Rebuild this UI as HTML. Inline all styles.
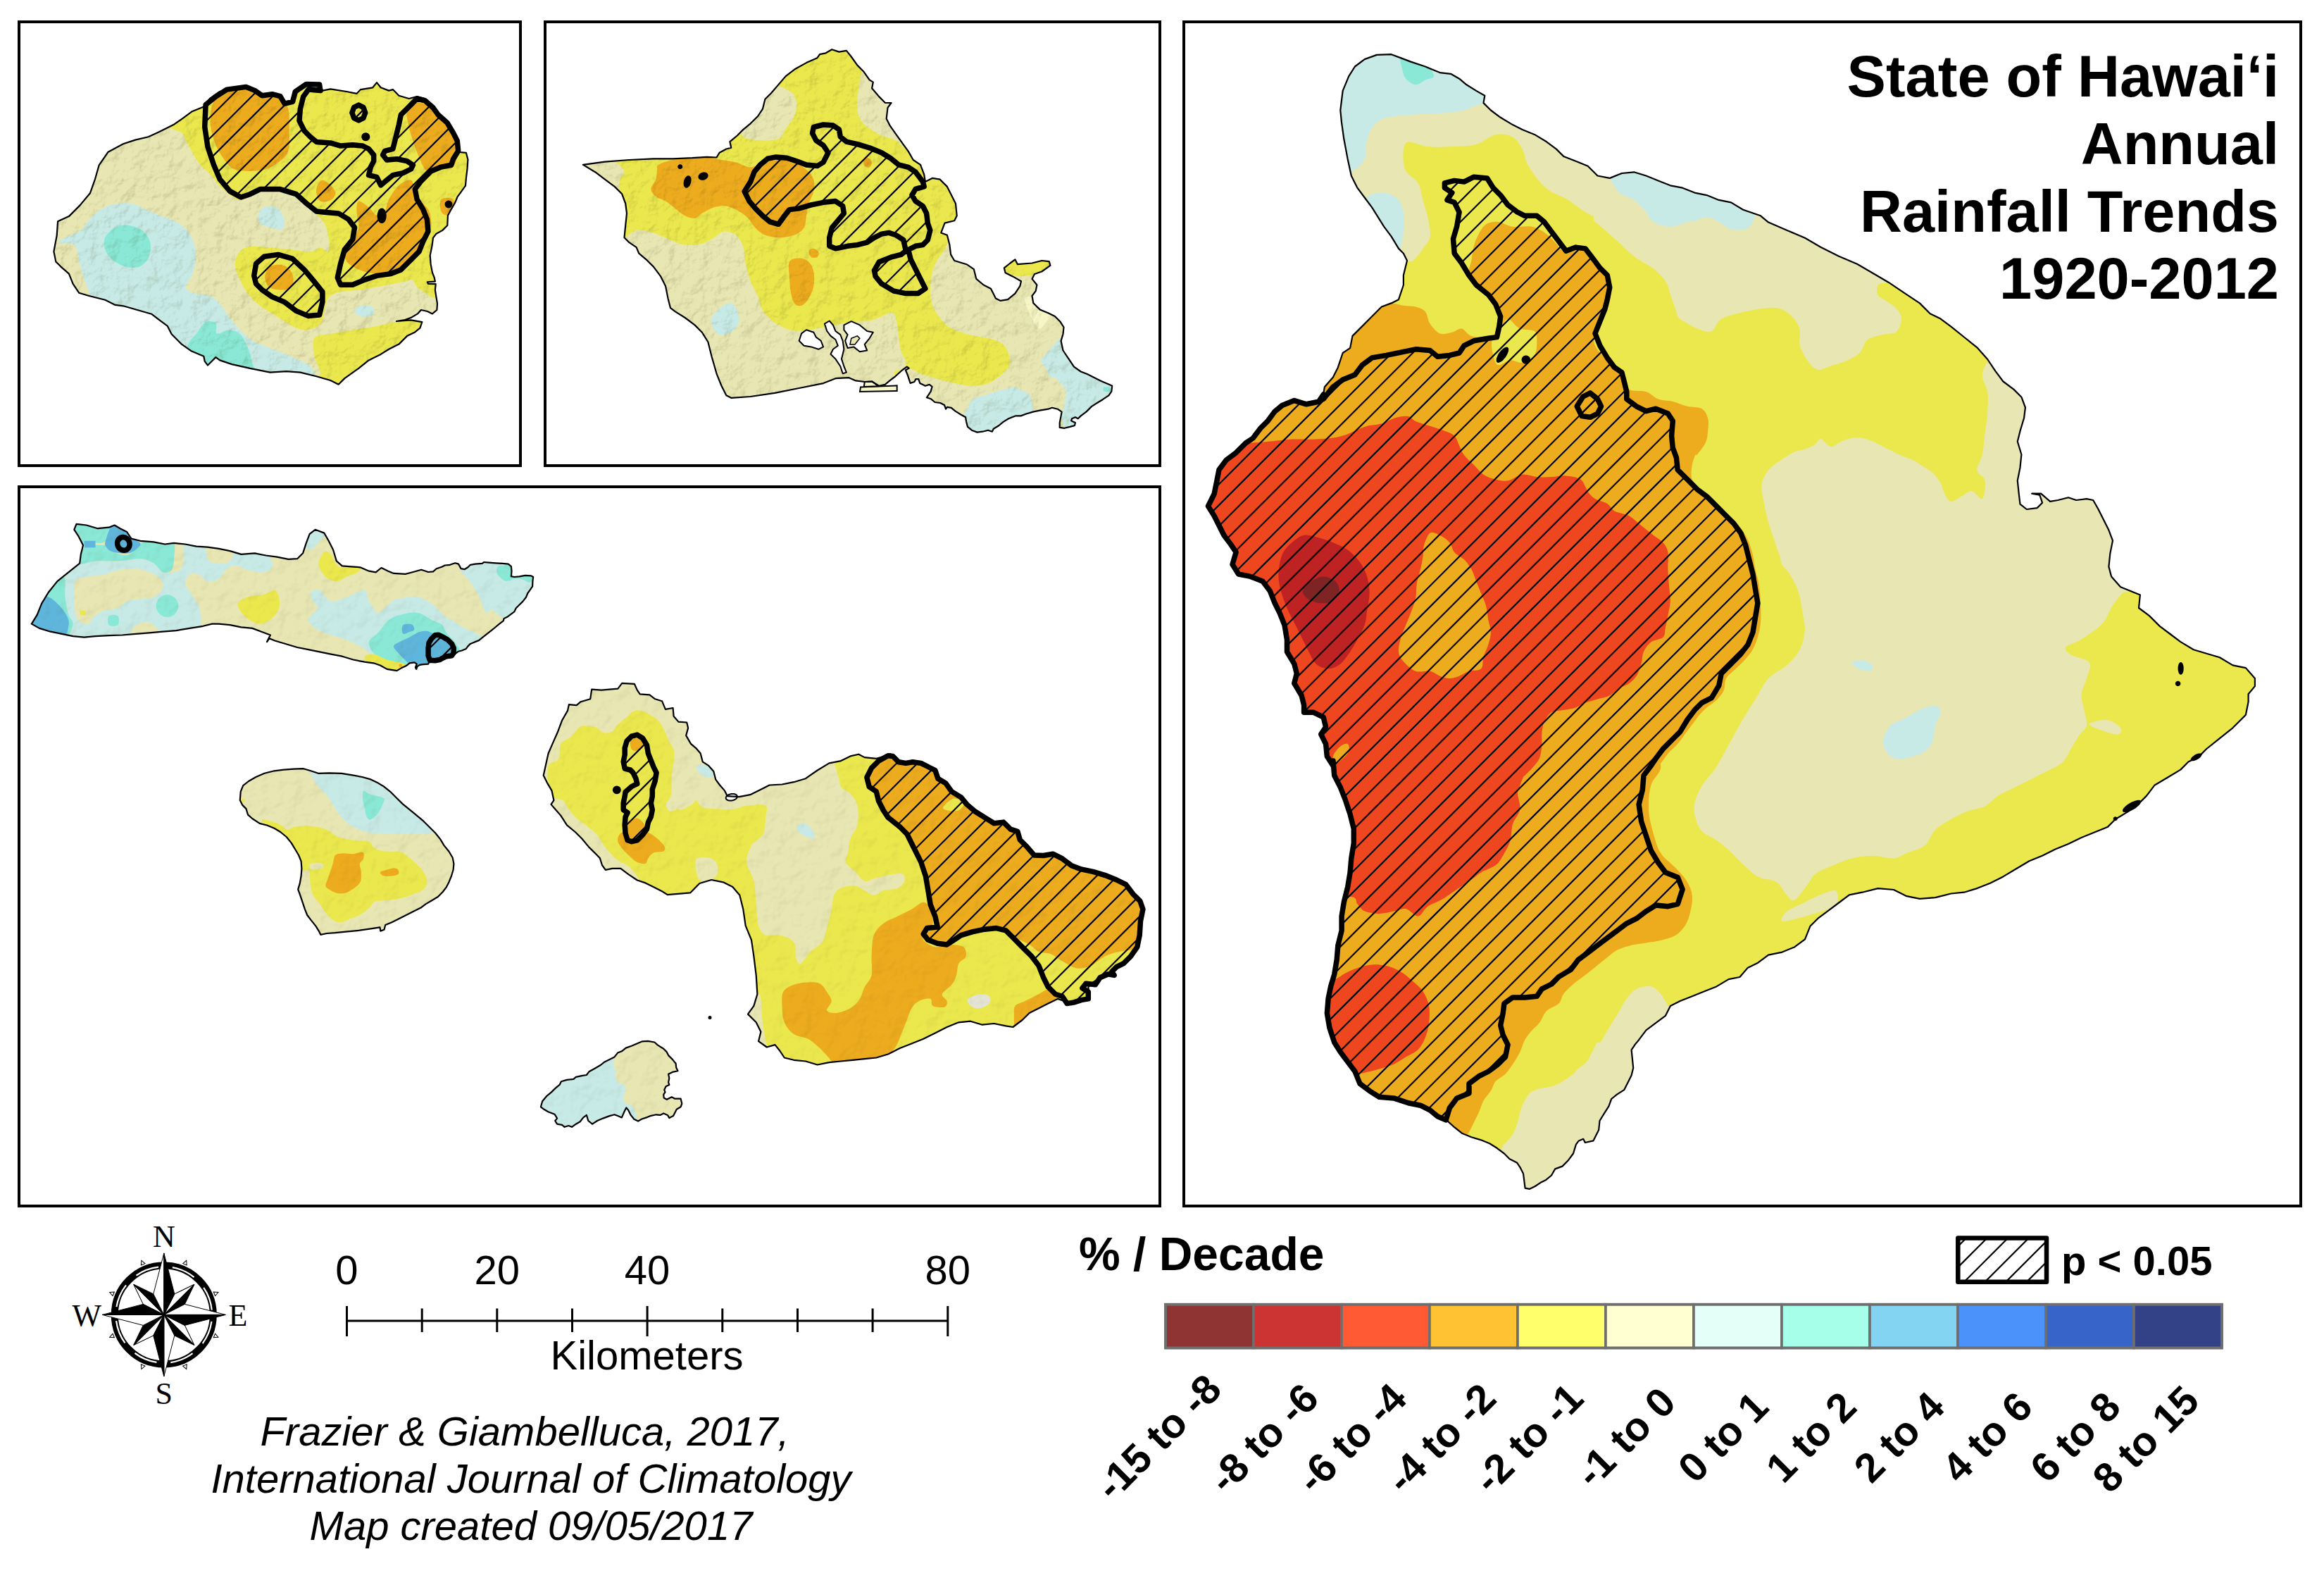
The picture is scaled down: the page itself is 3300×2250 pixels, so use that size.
<!DOCTYPE html><html><head><meta charset="utf-8"><title>State of Hawaii Annual Rainfall Trends 1920-2012</title>
<style>html,body{margin:0;padding:0;background:#fff}svg{display:block}text{fill:#000}</style></head><body>
<svg width="3300" height="2250" viewBox="0 0 3300 2250">
<rect width="3300" height="2250" fill="#fff"/>
<defs><path id="hatchlines" d="M-8.9 0L0 -8.9M20.7 0L0 20.7M50.3 0L0 50.3M79.9 0L0 79.9M109.5 0L0 109.5M139.1 0L0 139.1M168.7 0L0 168.7M198.3 0L0 198.3M227.9 0L0 227.9M257.5 0L0 257.5M287.1 0L0 287.1M316.7 0L0 316.7M346.3 0L0 346.3M375.9 0L0 375.9M405.5 0L0 405.5M435.1 0L0 435.1M464.7 0L0 464.7M494.3 0L0 494.3M523.9 0L0 523.9M553.5 0L0 553.5M583.1 0L0 583.1M612.7 0L0 612.7M642.3 0L0 642.3M671.9 0L0 671.9M701.5 0L0 701.5M731.1 0L0 731.1M760.7 0L0 760.7M790.3 0L0 790.3M819.9 0L0 819.9M849.5 0L0 849.5M879.1 0L0 879.1M908.7 0L0 908.7M938.3 0L0 938.3M967.9 0L0 967.9M997.5 0L0 997.5M1027.1 0L0 1027.1M1056.7 0L0 1056.7M1086.3 0L0 1086.3M1115.9 0L0 1115.9M1145.5 0L0 1145.5M1175.1 0L0 1175.1M1204.7 0L0 1204.7M1234.3 0L0 1234.3M1263.9 0L0 1263.9M1293.5 0L0 1293.5M1323.1 0L0 1323.1M1352.7 0L0 1352.7M1382.3 0L0 1382.3M1411.9 0L0 1411.9M1441.5 0L0 1441.5M1471.1 0L0 1471.1M1500.7 0L0 1500.7M1530.3 0L0 1530.3M1559.9 0L0 1559.9M1589.5 0L0 1589.5M1619.1 0L0 1619.1M1648.7 0L0 1648.7M1678.3 0L0 1678.3M1707.9 0L0 1707.9M1737.5 0L0 1737.5M1767.1 0L0 1767.1M1796.7 0L0 1796.7M1826.3 0L0 1826.3M1855.9 0L0 1855.9M1885.5 0L0 1885.5M1915.1 0L0 1915.1M1944.7 0L0 1944.7M1974.3 0L0 1974.3M2003.9 0L0 2003.9M2033.5 0L0 2033.5M2063.1 0L0 2063.1M2092.7 0L0 2092.7M2122.3 0L0 2122.3M2151.9 0L0 2151.9M2181.5 0L0 2181.5M2211.1 0L0 2211.1M2240.7 0L0 2240.7M2270.3 0L0 2270.3M2299.9 0L0 2299.9M2329.5 0L0 2329.5M2359.1 0L0 2359.1M2388.7 0L0 2388.7M2418.3 0L0 2418.3M2447.9 0L0 2447.9M2477.5 0L0 2477.5M2507.1 0L0 2507.1M2536.7 0L0 2536.7M2566.3 0L0 2566.3M2595.9 0L0 2595.9M2625.5 0L0 2625.5M2655.1 0L0 2655.1M2684.7 0L0 2684.7M2714.3 0L0 2714.3M2743.9 0L0 2743.9M2773.5 0L0 2773.5M2803.1 0L0 2803.1M2832.7 0L0 2832.7M2862.3 0L0 2862.3M2891.9 0L0 2891.9M2921.5 0L0 2921.5M2951.1 0L0 2951.1M2980.7 0L0 2980.7M3010.3 0L0 3010.3M3039.9 0L0 3039.9M3069.5 0L0 3069.5M3099.1 0L0 3099.1M3128.7 0L0 3128.7M3158.3 0L0 3158.3M3187.9 0L0 3187.9M3217.5 0L0 3217.5M3247.1 0L0 3247.1M3276.7 0L0 3276.7M3306.3 0L0 3306.3M3335.9 0L0 3335.9M3365.5 0L0 3365.5M3395.1 0L0 3395.1M3424.7 0L0 3424.7M3454.3 0L0 3454.3M3483.9 0L0 3483.9M3513.5 0L0 3513.5M3543.1 0L0 3543.1M3572.7 0L0 3572.7M3602.3 0L0 3602.3M3631.9 0L0 3631.9M3661.5 0L0 3661.5M3691.1 0L0 3691.1M3720.7 0L0 3720.7M3750.3 0L0 3750.3M3779.9 0L0 3779.9M3809.5 0L0 3809.5M3839.1 0L0 3839.1M3868.7 0L0 3868.7M3898.3 0L0 3898.3M3927.9 0L0 3927.9M3957.5 0L0 3957.5M3987.1 0L0 3987.1M4016.7 0L0 4016.7M4046.3 0L0 4046.3M4075.9 0L0 4075.9M4105.5 0L0 4105.5M4135.1 0L0 4135.1M4164.7 0L0 4164.7M4194.3 0L0 4194.3M4223.9 0L0 4223.9M4253.5 0L0 4253.5M4283.1 0L0 4283.1M4312.7 0L0 4312.7M4342.3 0L0 4342.3M4371.9 0L0 4371.9M4401.5 0L0 4401.5M4431.1 0L0 4431.1M4460.7 0L0 4460.7M4490.3 0L0 4490.3M4519.9 0L0 4519.9M4549.5 0L0 4549.5M4579.1 0L0 4579.1M4608.7 0L0 4608.7M4638.3 0L0 4638.3M4667.9 0L0 4667.9M4697.5 0L0 4697.5M4727.1 0L0 4727.1M4756.7 0L0 4756.7M4786.3 0L0 4786.3M4815.9 0L0 4815.9M4845.5 0L0 4845.5M4875.1 0L0 4875.1M4904.7 0L0 4904.7M4934.3 0L0 4934.3M4963.9 0L0 4963.9M4993.5 0L0 4993.5M5023.1 0L0 5023.1M5052.7 0L0 5052.7M5082.3 0L0 5082.3M5111.9 0L0 5111.9M5141.5 0L0 5141.5M5171.1 0L0 5171.1M5200.7 0L0 5200.7M5230.3 0L0 5230.3M5259.9 0L0 5259.9M5289.5 0L0 5289.5M5319.1 0L0 5319.1M5348.7 0L0 5348.7M5378.3 0L0 5378.3M5407.9 0L0 5407.9M5437.5 0L0 5437.5M5467.1 0L0 5467.1M5496.7 0L0 5496.7M5526.3 0L0 5526.3" stroke="#000" stroke-width="2.2" fill="none"/>
<filter id="relief1" x="0" y="0" width="100%" height="100%" color-interpolation-filters="sRGB">
<feTurbulence type="fractalNoise" baseFrequency="0.045 0.045" numOctaves="4" seed="7" result="n"/>
<feDiffuseLighting in="n" surfaceScale="4" diffuseConstant="1.25" lighting-color="#fff"><feDistantLight azimuth="225" elevation="53"/></feDiffuseLighting>
<feComponentTransfer><feFuncR type="linear" slope="0.22" intercept="0.78"/><feFuncG type="linear" slope="0.22" intercept="0.78"/><feFuncB type="linear" slope="0.30" intercept="0.70"/></feComponentTransfer>
</filter>
<filter id="relief2" x="0" y="0" width="100%" height="100%" color-interpolation-filters="sRGB">
<feTurbulence type="fractalNoise" baseFrequency="0.04 0.04" numOctaves="3" seed="11" result="n"/>
<feDiffuseLighting in="n" surfaceScale="2.5" diffuseConstant="1.25" lighting-color="#fff"><feDistantLight azimuth="225" elevation="53"/></feDiffuseLighting>
<feComponentTransfer><feFuncR type="linear" slope="0.18" intercept="0.82"/><feFuncG type="linear" slope="0.18" intercept="0.82"/><feFuncB type="linear" slope="0.25" intercept="0.75"/></feComponentTransfer>
</filter></defs>
<clipPath id="c_kauai"><path d="M76.4 357.1L80.7 334.3L82.1 314.3L97.9 307.1L113.6 291.4L127.9 274.3L135.0 254.3L140.7 234.3L153.6 215.7L175.0 204.3L192.1 198.6L210.7 194.3L226.4 187.1L246.4 177.1L260.7 167.1L272.1 158.6L289.3 151.4L297.9 140.0L312.1 130.0L323.6 125.7L349.3 122.3L363.6 128.6L372.1 135.7L386.4 132.9L397.9 135.7L405.0 145.7L415.0 142.9L419.3 128.6L435.0 118.6L453.6 119.4L457.9 128.6L469.3 126.3L492.1 130.0L506.4 132.9L512.1 127.1L529.3 124.3L535.0 117.1L540.7 124.3L552.1 128.6L557.9 127.1L566.4 135.7L580.7 140.0L592.1 137.1L603.6 140.0L615.0 150.0L623.6 161.4L635.0 171.4L642.1 185.7L649.3 198.6L653.0 216.0L661.9 216.9L664.4 226.6L663.6 238.9L661.9 252.9L661.0 263.7L654.7 272.3L649.6 279.4L645.9 288.3L640.7 297.1L635.9 306.0L635.3 320.0L628.1 327.1L619.6 331.7L615.0 337.7L613.3 350.0L610.7 362.6L611.6 374.9L613.9 386.9L616.7 394.0L617.9 399.7L607.0 400.3L607.9 402.9L618.7 403.1L617.9 412.0L619.6 422.6L621.0 430.9L620.4 440.0L613.9 445.4L607.0 442.0L597.9 440.0L593.0 445.4L583.9 450.9L575.0 454.0L563.0 456.0L583.6 454.3L599.3 457.1L596.4 465.7L589.3 471.4L577.9 477.1L566.4 488.6L552.1 495.7L540.7 502.9L523.6 511.4L509.3 522.9L489.3 537.1L480.7 545.7L469.3 540.0L449.3 534.3L426.4 528.6L406.4 527.1L383.6 528.6L355.0 522.9L329.3 517.1L312.1 511.4L306.4 507.1L295.0 518.6L290.7 512.9L289.3 505.7L272.1 498.6L257.9 488.6L243.6 474.3L237.9 462.9L226.4 454.3L215.0 445.7L195.0 440.0L175.0 434.3L163.6 432.9L149.3 425.7L126.4 420.0L112.1 415.7L103.6 402.9L97.9 388.6L86.4 378.6L79.3 371.4Z"/></clipPath>
<g clip-path="url(#c_kauai)">
<rect x="71" y="112" width="598" height="439" fill="#E8E7B4"/>
<path d="M252.1 157.1C322.6 141.9 611.7 55.2 683.6 100.0C755.5 144.8 694.6 372.0 683.6 425.7C672.6 479.5 630.3 424.0 617.6 422.6C604.8 421.1 611.1 419.5 607.0 417.1C602.9 414.8 596.5 411.5 593.0 408.3C589.5 405.0 588.8 399.2 585.9 397.7C582.9 396.2 580.0 398.5 575.3 399.4C570.6 400.3 563.5 402.0 557.6 403.1C551.7 404.3 547.4 405.2 539.9 406.6C532.3 408.0 521.5 410.1 512.1 411.4C502.8 412.7 491.2 412.4 483.6 414.3C476.0 416.2 470.2 418.1 466.4 422.9C462.6 427.6 462.6 436.7 460.7 442.9C458.8 449.0 459.3 455.7 455.0 460.0C450.7 464.3 441.7 468.1 435.0 468.6C428.3 469.0 422.1 466.2 415.0 462.9C407.9 459.5 399.8 453.3 392.1 448.6C384.5 443.8 376.0 439.5 369.3 434.3C362.6 429.0 356.9 423.3 352.1 417.1C347.4 411.0 343.8 404.3 340.7 397.1C337.6 390.0 333.6 381.0 333.6 374.3C333.6 367.6 337.1 361.2 340.7 357.1C344.3 353.1 347.9 351.0 355.0 350.0C362.1 349.0 374.0 350.7 383.6 351.4C393.1 352.1 402.6 353.3 412.1 354.3C421.7 355.2 433.6 357.6 440.7 357.1C447.9 356.7 450.7 351.4 455.0 351.4C459.3 351.4 464.5 359.5 466.4 357.1C468.3 354.8 467.4 343.8 466.4 337.1C465.5 330.5 463.6 322.6 460.7 317.1C457.9 311.7 453.6 308.3 449.3 304.3C445.0 300.2 439.8 297.1 435.0 292.9C430.2 288.6 426.9 282.5 420.7 278.6C414.5 274.6 406.4 270.7 397.9 269.1C389.3 267.6 376.4 268.0 369.3 269.1C362.1 270.2 359.3 273.2 355.0 275.7C350.7 278.2 347.9 283.8 343.6 284.3C339.3 284.8 334.5 281.9 329.3 278.6C324.0 275.2 316.9 269.0 312.1 264.3C307.4 259.5 305.5 255.2 300.7 250.0C296.0 244.8 288.3 238.8 283.6 232.9C278.8 226.9 276.0 221.2 272.1 214.3C268.3 207.4 264.0 201.0 260.7 191.4C257.4 181.9 181.7 172.4 252.1 157.1Z" fill="#EBE84E"/>
<path d="M446.4 480.0C450.2 474.8 460.2 476.2 469.3 474.3C478.3 472.4 489.8 470.5 500.7 468.6C511.7 466.7 524.5 464.8 535.0 462.9C545.5 461.0 550.7 458.1 563.6 457.1C576.4 456.2 604.0 440.5 612.1 457.1C620.2 473.8 638.3 540.5 612.1 557.1C586.0 573.8 481.2 561.9 455.0 557.1C428.8 552.4 456.4 537.1 455.0 528.6C453.6 520.0 447.9 513.8 446.4 505.7C445.0 497.6 442.6 485.2 446.4 480.0Z" fill="#EBE84E"/>
<path d="M300.7 151.4C302.9 143.8 305.5 139.0 312.1 134.3C318.8 129.5 331.2 123.8 340.7 122.9C350.2 121.9 359.8 125.7 369.3 128.6C378.8 131.4 391.2 135.7 397.9 140.0C404.5 144.3 407.1 146.7 409.3 154.3C411.4 161.9 410.7 175.7 410.7 185.7C410.7 195.7 411.4 207.1 409.3 214.3C407.1 221.4 403.1 224.3 397.9 228.6C392.6 232.9 385.0 237.6 377.9 240.0C370.7 242.4 362.6 242.9 355.0 242.9C347.4 242.9 338.3 242.9 332.1 240.0C326.0 237.1 322.1 231.4 317.9 225.7C313.6 220.0 309.5 213.3 306.4 205.7C303.3 198.1 300.2 189.0 299.3 180.0C298.3 171.0 298.6 159.0 300.7 151.4Z" fill="#EDAC1E"/>
<path d="M577.9 157.1C579.8 151.4 586.0 146.7 592.1 145.7C598.3 144.8 607.9 147.1 615.0 151.4C622.1 155.7 629.5 163.8 635.0 171.4C640.5 179.0 645.2 190.0 647.9 197.1C650.5 204.3 651.4 207.6 650.7 214.3C650.0 221.0 647.6 232.9 643.6 237.1C639.5 241.4 632.6 239.0 626.4 240.0C620.2 241.0 611.7 245.7 606.4 242.9C601.2 240.0 598.3 230.0 595.0 222.9C591.7 215.7 588.8 207.1 586.4 200.0C584.0 192.9 582.1 187.1 580.7 180.0C579.3 172.9 576.0 162.9 577.9 157.1Z" fill="#EDAC1E"/>
<path d="M552.1 282.9C555.5 276.7 561.2 267.4 566.4 262.9C571.7 258.3 579.8 254.3 583.6 255.7C587.4 257.1 586.9 266.4 589.3 271.4C591.7 276.4 594.5 281.0 597.9 285.7C601.2 290.5 606.9 293.8 609.3 300.0C611.7 306.2 613.1 315.7 612.1 322.9C611.2 330.0 606.0 337.1 603.6 342.9C601.2 348.6 601.2 351.9 597.9 357.1C594.5 362.4 588.8 369.5 583.6 374.3C578.3 379.0 573.6 383.3 566.4 385.7C559.3 388.1 548.8 388.6 540.7 388.6C532.6 388.6 525.5 388.1 517.9 385.7C510.2 383.3 499.8 379.0 495.0 374.3C490.2 369.5 488.3 362.9 489.3 357.1C490.2 351.4 497.4 345.7 500.7 340.0C504.0 334.3 508.3 329.5 509.3 322.9C510.2 316.2 506.4 306.2 506.4 300.0C506.4 293.8 506.4 286.7 509.3 285.7C512.1 284.8 519.3 291.0 523.6 294.3C527.9 297.6 531.2 304.8 535.0 305.7C538.8 306.7 543.6 303.8 546.4 300.0C549.3 296.2 548.8 289.0 552.1 282.9Z" fill="#EDAC1E"/>
<path d="M450.7 262.9C452.1 259.8 454.8 255.7 457.9 255.7C461.0 255.7 466.2 259.8 469.3 262.9C472.4 266.0 476.4 270.7 476.4 274.3C476.4 277.9 472.9 282.4 469.3 284.3C465.7 286.2 458.3 287.4 455.0 285.7C451.7 284.0 450.0 278.1 449.3 274.3C448.6 270.5 449.3 266.0 450.7 262.9Z" fill="#EDAC1E"/>
<path d="M377.9 385.7C379.5 382.4 382.1 378.6 386.4 377.1C390.7 375.7 398.8 375.2 403.6 377.1C408.3 379.0 413.1 383.8 415.0 388.6C416.9 393.3 417.4 401.9 415.0 405.7C412.6 409.5 406.0 411.0 400.7 411.4C395.5 411.9 387.6 411.0 383.6 408.6C379.5 406.2 377.4 401.0 376.4 397.1C375.5 393.3 376.2 389.0 377.9 385.7Z" fill="#EDAC1E"/>
<path d="M626.4 282.9C629.3 280.0 640.7 280.0 643.6 282.9C646.4 285.7 645.0 296.2 643.6 300.0C642.1 303.8 637.9 305.7 635.0 305.7C632.1 305.7 627.9 303.8 626.4 300.0C625.0 296.2 623.6 285.7 626.4 282.9Z" fill="#EDAC1E"/>
<path d="M83.6 342.9C84.5 339.5 106.0 332.4 112.1 328.6C118.3 324.8 117.4 323.8 120.7 320.0C124.0 316.2 126.4 310.5 132.1 305.7C137.9 301.0 146.4 294.3 155.0 291.4C163.6 288.6 175.0 287.6 183.6 288.6C192.1 289.5 199.3 294.3 206.4 297.1C213.6 300.0 219.3 302.9 226.4 305.7C233.6 308.6 242.6 310.5 249.3 314.3C256.0 318.1 261.9 322.9 266.4 328.6C271.0 334.3 274.5 341.4 276.4 348.6C278.3 355.7 278.6 364.3 277.9 371.4C277.1 378.6 274.5 385.2 272.1 391.4C269.8 397.6 262.6 404.3 263.6 408.6C264.5 412.9 272.1 415.2 277.9 417.1C283.6 419.0 292.1 417.6 297.9 420.0C303.6 422.4 307.4 426.2 312.1 431.4C316.9 436.7 321.7 445.2 326.4 451.4C331.2 457.6 335.5 463.3 340.7 468.6C346.0 473.8 350.7 478.6 357.9 482.9C365.0 487.1 374.5 490.5 383.6 494.3C392.6 498.1 402.6 501.4 412.1 505.7C421.7 510.0 435.0 514.3 440.7 520.0C446.4 525.7 448.8 533.8 446.4 540.0C444.0 546.2 463.1 554.3 426.4 557.1C389.8 560.0 278.8 576.2 226.4 557.1C174.0 538.1 128.8 465.7 112.1 442.9C95.5 420.0 125.0 427.1 126.4 420.0C127.9 412.9 123.1 408.1 120.7 400.0C118.3 391.9 114.5 380.0 112.1 371.4C109.8 362.9 111.2 353.3 106.4 348.6C101.7 343.8 82.6 346.2 83.6 342.9Z" fill="#C8EAE6"/>
<path d="M366.4 305.7C367.4 301.9 370.7 296.2 375.0 294.3C379.3 292.4 387.4 291.4 392.1 294.3C396.9 297.1 402.1 306.2 403.6 311.4C405.0 316.7 404.0 323.8 400.7 325.7C397.4 327.6 388.8 324.3 383.6 322.9C378.3 321.4 372.1 320.0 369.3 317.1C366.4 314.3 365.5 309.5 366.4 305.7Z" fill="#C8EAE6"/>
<path d="M503.6 441.4C503.6 439.0 507.1 435.5 510.7 434.3C514.3 433.1 521.4 433.1 525.0 434.3C528.6 435.5 532.1 439.0 532.1 441.4C532.1 443.8 528.6 447.4 525.0 448.6C521.4 449.8 514.3 449.8 510.7 448.6C507.1 447.4 503.6 443.8 503.6 441.4Z" fill="#C8EAE6"/>
<path d="M149.3 337.1C151.7 331.9 157.9 325.7 163.6 322.9C169.3 320.0 176.9 319.0 183.6 320.0C190.2 321.0 198.6 324.3 203.6 328.6C208.6 332.9 212.4 339.5 213.6 345.7C214.8 351.9 213.3 360.2 210.7 365.7C208.1 371.2 203.3 376.4 197.9 378.6C192.4 380.7 184.3 380.2 177.9 378.6C171.4 376.9 164.0 372.6 159.3 368.6C154.5 364.5 151.0 359.5 149.3 354.3C147.6 349.0 146.9 342.4 149.3 337.1Z" fill="#8AE8D6"/>
<path d="M266.4 494.3C266.0 483.8 276.4 477.6 280.7 471.4C285.0 465.2 287.9 459.3 292.1 457.1C296.4 455.0 303.8 455.7 306.4 458.6C309.0 461.4 305.0 472.6 307.9 474.3C310.7 476.0 318.1 468.6 323.6 468.6C329.0 468.6 336.0 470.0 340.7 474.3C345.5 478.6 349.3 487.6 352.1 494.3C355.0 501.0 356.9 507.6 357.9 514.3C358.8 521.0 370.2 531.0 357.9 534.3C345.5 537.6 298.8 541.0 283.6 534.3C268.3 527.6 266.9 504.8 266.4 494.3Z" fill="#8AE8D6"/>
<clipPath id="h_kauai_0"><path d="M292.1 148.6L306.4 137.1L322.1 127.1L349.3 123.4L362.1 128.6L372.1 135.7L386.4 133.7L397.9 136.6L404.1 147.1L415.6 144.3L419.3 130.0L435.0 119.4L453.6 120.0L455.0 128.6L437.9 127.1L430.7 137.1L426.4 154.3L425.0 171.4L432.1 185.7L440.7 194.3L449.3 201.4L469.3 202.9L483.6 207.1L500.7 205.7L515.0 207.1L523.6 211.4L530.7 220.0L530.7 228.6L526.4 237.1L523.6 248.6L535.0 251.4L540.7 262.9L549.3 255.7L557.9 248.6L572.1 245.7L583.6 240.0L586.4 234.3L577.9 228.6L563.6 225.7L549.3 227.1L543.6 220.0L546.4 214.3L557.9 211.4L562.1 194.3L566.4 177.1L569.3 162.9L577.9 154.3L592.1 140.0L603.6 142.9L615.0 152.9L622.1 162.9L635.0 174.3L643.6 188.6L649.3 200.0L650.7 214.3L643.6 225.7L640.7 234.3L626.4 237.1L612.1 242.9L597.9 257.1L589.3 268.6L592.1 282.9L600.7 297.1L606.4 311.4L607.9 328.6L600.7 342.9L595.0 357.1L583.6 368.6L569.3 382.9L555.0 388.6L535.0 391.4L517.9 397.1L500.7 404.3L483.6 404.3L479.3 394.3L483.6 374.3L489.3 354.3L500.7 340.0L503.6 322.9L495.0 311.4L480.7 302.9L463.6 301.4L449.3 300.0L435.0 288.6L420.7 275.7L397.9 268.6L369.3 268.6L355.0 275.7L342.1 280.0L326.4 271.4L312.1 254.3L303.6 234.3L295.0 208.6L290.7 180.0Z"/></clipPath>
<g clip-path="url(#h_kauai_0)"><use href="#hatchlines" transform="translate(0,0)"/></g>
<clipPath id="h_kauai_1"><path d="M360.7 391.4L363.6 374.3L375.0 364.3L395.0 361.4L415.0 367.1L432.1 382.9L446.4 400.0L457.9 414.3L457.9 428.6L453.6 447.1L437.9 448.6L420.7 441.4L403.6 428.6L386.4 421.4L372.1 411.4L363.6 402.9Z"/></clipPath>
<g clip-path="url(#h_kauai_1)"><use href="#hatchlines" transform="translate(0,0)"/></g>
<clipPath id="h_kauai_2"><path d="M499.9 160.0L502.7 152.3L509.3 149.1L515.9 152.3L518.7 160.0L515.9 167.7L509.3 170.9L502.7 167.7Z"/></clipPath>
<g clip-path="url(#h_kauai_2)"><use href="#hatchlines" transform="translate(0,0)"/></g>
<rect x="71" y="112" width="598" height="439" fill="#fff" filter="url(#relief1)" style="mix-blend-mode:multiply"/>
</g>
<path d="M76.4 357.1L80.7 334.3L82.1 314.3L97.9 307.1L113.6 291.4L127.9 274.3L135.0 254.3L140.7 234.3L153.6 215.7L175.0 204.3L192.1 198.6L210.7 194.3L226.4 187.1L246.4 177.1L260.7 167.1L272.1 158.6L289.3 151.4L297.9 140.0L312.1 130.0L323.6 125.7L349.3 122.3L363.6 128.6L372.1 135.7L386.4 132.9L397.9 135.7L405.0 145.7L415.0 142.9L419.3 128.6L435.0 118.6L453.6 119.4L457.9 128.6L469.3 126.3L492.1 130.0L506.4 132.9L512.1 127.1L529.3 124.3L535.0 117.1L540.7 124.3L552.1 128.6L557.9 127.1L566.4 135.7L580.7 140.0L592.1 137.1L603.6 140.0L615.0 150.0L623.6 161.4L635.0 171.4L642.1 185.7L649.3 198.6L653.0 216.0L661.9 216.9L664.4 226.6L663.6 238.9L661.9 252.9L661.0 263.7L654.7 272.3L649.6 279.4L645.9 288.3L640.7 297.1L635.9 306.0L635.3 320.0L628.1 327.1L619.6 331.7L615.0 337.7L613.3 350.0L610.7 362.6L611.6 374.9L613.9 386.9L616.7 394.0L617.9 399.7L607.0 400.3L607.9 402.9L618.7 403.1L617.9 412.0L619.6 422.6L621.0 430.9L620.4 440.0L613.9 445.4L607.0 442.0L597.9 440.0L593.0 445.4L583.9 450.9L575.0 454.0L563.0 456.0L583.6 454.3L599.3 457.1L596.4 465.7L589.3 471.4L577.9 477.1L566.4 488.6L552.1 495.7L540.7 502.9L523.6 511.4L509.3 522.9L489.3 537.1L480.7 545.7L469.3 540.0L449.3 534.3L426.4 528.6L406.4 527.1L383.6 528.6L355.0 522.9L329.3 517.1L312.1 511.4L306.4 507.1L295.0 518.6L290.7 512.9L289.3 505.7L272.1 498.6L257.9 488.6L243.6 474.3L237.9 462.9L226.4 454.3L215.0 445.7L195.0 440.0L175.0 434.3L163.6 432.9L149.3 425.7L126.4 420.0L112.1 415.7L103.6 402.9L97.9 388.6L86.4 378.6L79.3 371.4Z" fill="none" stroke="#000" stroke-width="2.2" stroke-linejoin="round"/>
<path d="M292.1 148.6L306.4 137.1L322.1 127.1L349.3 123.4L362.1 128.6L372.1 135.7L386.4 133.7L397.9 136.6L404.1 147.1L415.6 144.3L419.3 130.0L435.0 119.4L453.6 120.0L455.0 128.6L437.9 127.1L430.7 137.1L426.4 154.3L425.0 171.4L432.1 185.7L440.7 194.3L449.3 201.4L469.3 202.9L483.6 207.1L500.7 205.7L515.0 207.1L523.6 211.4L530.7 220.0L530.7 228.6L526.4 237.1L523.6 248.6L535.0 251.4L540.7 262.9L549.3 255.7L557.9 248.6L572.1 245.7L583.6 240.0L586.4 234.3L577.9 228.6L563.6 225.7L549.3 227.1L543.6 220.0L546.4 214.3L557.9 211.4L562.1 194.3L566.4 177.1L569.3 162.9L577.9 154.3L592.1 140.0L603.6 142.9L615.0 152.9L622.1 162.9L635.0 174.3L643.6 188.6L649.3 200.0L650.7 214.3L643.6 225.7L640.7 234.3L626.4 237.1L612.1 242.9L597.9 257.1L589.3 268.6L592.1 282.9L600.7 297.1L606.4 311.4L607.9 328.6L600.7 342.9L595.0 357.1L583.6 368.6L569.3 382.9L555.0 388.6L535.0 391.4L517.9 397.1L500.7 404.3L483.6 404.3L479.3 394.3L483.6 374.3L489.3 354.3L500.7 340.0L503.6 322.9L495.0 311.4L480.7 302.9L463.6 301.4L449.3 300.0L435.0 288.6L420.7 275.7L397.9 268.6L369.3 268.6L355.0 275.7L342.1 280.0L326.4 271.4L312.1 254.3L303.6 234.3L295.0 208.6L290.7 180.0Z" fill="none" stroke="#000" stroke-width="7.5" stroke-linejoin="round"/>
<path d="M360.7 391.4L363.6 374.3L375.0 364.3L395.0 361.4L415.0 367.1L432.1 382.9L446.4 400.0L457.9 414.3L457.9 428.6L453.6 447.1L437.9 448.6L420.7 441.4L403.6 428.6L386.4 421.4L372.1 411.4L363.6 402.9Z" fill="none" stroke="#000" stroke-width="7.5" stroke-linejoin="round"/>
<path d="M499.9 160.0L502.7 152.3L509.3 149.1L515.9 152.3L518.7 160.0L515.9 167.7L509.3 170.9L502.7 167.7Z" fill="none" stroke="#000" stroke-width="7.5" stroke-linejoin="round"/>
<path d="M525.3 194.3L525.1 195.8L524.5 197.3L523.5 198.5L522.3 199.5L520.8 200.1L519.3 200.3L517.7 200.1L516.3 199.5L515.0 198.5L514.1 197.3L513.5 195.8L513.3 194.3L513.5 192.7L514.1 191.3L515.0 190.0L516.3 189.1L517.7 188.5L519.3 188.3L520.8 188.5L522.3 189.1L523.5 190.0L524.5 191.3L525.1 192.7Z" fill="#000"/>
<path d="M548.7 306.3L548.5 309.1L547.8 311.7L546.8 314.0L545.4 315.7L543.8 316.8L542.1 317.1L540.4 316.8L538.9 315.7L537.5 314.0L536.5 311.7L535.8 309.1L535.6 306.3L535.8 303.5L536.5 300.9L537.5 298.6L538.9 296.9L540.4 295.8L542.1 295.4L543.8 295.8L545.4 296.9L546.8 298.6L547.8 300.9L548.5 303.5Z" fill="#000"/>
<path d="M642.4 290.0L642.2 291.4L641.7 292.7L640.8 293.8L639.7 294.7L638.4 295.2L637.0 295.4L635.6 295.2L634.3 294.7L633.2 293.8L632.3 292.7L631.8 291.4L631.6 290.0L631.8 288.6L632.3 287.3L633.2 286.2L634.3 285.3L635.6 284.8L637.0 284.6L638.4 284.8L639.7 285.3L640.8 286.2L641.7 287.3L642.2 288.6Z" fill="#000"/>
<clipPath id="c_oahu"><path d="M827.9 233.9L858.9 229.7L893.4 227.0L927.9 225.3L955.4 225.3L983.0 224.2L1003.7 222.9L1017.5 223.5L1021.6 216.7L1031.3 211.5L1038.2 209.8L1036.4 201.1L1046.8 192.5L1055.4 183.9L1065.7 175.3L1076.1 165.0L1083.0 154.6L1086.4 140.8L1095.0 132.2L1105.4 120.1L1115.7 108.1L1129.5 97.7L1145.0 89.1L1160.5 82.2L1164.0 77.1L1172.6 75.3L1181.2 70.2L1191.5 73.6L1201.9 71.9L1208.8 80.5L1217.4 92.6L1226.0 101.2L1234.6 113.3L1239.8 116.7L1238.1 125.3L1248.4 137.4L1257.0 146.0L1265.6 146.0L1260.5 152.9L1258.7 168.4L1263.9 178.7L1272.5 190.8L1281.1 202.9L1289.8 214.9L1296.7 227.0L1307.0 233.9L1312.2 247.7L1313.9 258.0L1324.2 252.8L1334.6 254.6L1344.9 264.9L1350.1 275.2L1357.0 289.0L1358.7 306.3L1355.2 313.2L1341.5 316.6L1336.3 330.4L1344.9 333.8L1348.4 347.6L1350.1 361.4L1355.2 370.0L1372.5 375.2L1382.8 382.1L1386.3 395.9L1396.6 404.5L1406.9 409.7L1410.4 416.6L1413.8 423.4L1420.7 426.9L1431.1 425.2L1441.4 416.6L1448.3 406.2L1450.0 399.3L1438.0 392.4L1427.6 387.3L1425.9 380.4L1434.5 373.5L1441.4 368.3L1444.9 375.2L1465.5 373.5L1479.3 370.0L1489.7 371.1L1491.4 376.9L1479.3 385.5L1469.0 389.0L1465.5 395.9L1472.4 404.5L1470.7 413.1L1465.5 420.0L1467.3 430.3L1476.6 439.4L1488.2 444.2L1497.9 449.0L1505.6 456.8L1510.5 464.5L1509.5 474.2L1506.6 483.9L1509.5 497.5L1517.3 509.1L1525.0 520.7L1534.7 527.5L1544.4 531.3L1554.1 536.2L1563.7 541.0L1575.4 545.9L1579.2 547.8L1578.3 555.6L1574.4 561.4L1565.7 567.2L1557.9 572.0L1550.2 576.9L1542.4 584.6L1534.7 590.4L1530.8 594.3L1526.9 592.3L1522.1 594.3L1521.1 597.2L1526.9 600.1L1526.0 604.0L1519.2 605.9L1511.5 607.8L1504.7 606.9L1504.7 600.1L1506.6 590.4L1507.6 584.6L1501.8 580.7L1494.0 578.8L1488.2 580.7L1476.6 582.7L1466.9 584.6L1457.2 587.5L1449.5 590.4L1441.7 590.4L1432.1 594.3L1424.3 599.1L1418.5 604.0L1410.8 608.8L1408.8 612.7L1403.0 610.7L1395.3 612.7L1387.5 613.6L1379.8 610.7L1374.0 605.9L1372.0 598.2L1371.1 592.3L1364.3 588.5L1356.5 583.6L1350.7 578.8L1344.9 577.8L1343.0 580.7L1341.0 574.9L1335.2 572.0L1327.5 571.0L1321.7 566.2L1315.9 564.3L1321.7 555.6L1323.6 548.8L1319.7 545.9L1313.9 547.8L1306.2 543.9L1304.3 538.1L1300.4 538.1L1298.4 542.0L1292.6 543.9L1288.8 532.3L1285.9 525.5L1290.7 522.6L1287.8 520.7L1281.0 525.5L1271.3 534.3L1263.6 540.1L1256.8 545.9L1248.1 547.8L1238.4 541.6L1227.8 542.0L1215.2 540.4L1205.5 536.2L1186.4 537.2L1169.1 544.1L1134.7 551.0L1100.2 557.9L1065.7 563.0L1038.2 564.8L1031.3 561.3L1024.4 547.5L1017.5 530.3L1010.6 506.2L1005.4 485.5L996.8 471.7L986.5 461.4L972.7 451.0L958.9 442.4L952.0 437.2L948.5 423.4L945.1 406.2L938.2 392.4L927.9 378.6L917.5 368.3L907.2 359.7L903.7 351.1L893.4 344.2L886.5 337.3L888.2 320.0L890.0 302.8L888.2 289.0L883.1 275.2L872.7 264.9L858.9 254.6L845.1 244.2Z"/></clipPath>
<g clip-path="url(#c_oahu)">
<rect x="823" y="65" width="761" height="553" fill="#E8E7B4"/>
<path d="M883.1 216.7C907.2 209.8 995.1 222.4 1031.3 202.9C1067.5 183.3 1075.5 122.4 1100.2 99.5C1124.9 76.5 1156.5 65.0 1179.5 65.0C1202.4 65.0 1205.3 65.0 1238.1 99.5C1270.8 133.9 1354.1 235.0 1375.9 271.8C1397.8 308.6 1373.6 308.6 1369.0 320.0C1364.4 331.5 1352.9 335.0 1348.4 340.7C1343.8 346.5 1344.3 349.9 1341.5 354.5C1338.6 359.1 1334.0 363.1 1331.1 368.3C1328.2 373.5 1325.9 378.6 1324.2 385.5C1322.5 392.4 1320.8 401.6 1320.8 409.7C1320.8 417.7 1321.9 426.9 1324.2 433.8C1326.5 440.7 1330.5 445.9 1334.6 451.0C1338.6 456.2 1341.5 460.8 1348.4 464.8C1355.2 468.8 1365.6 472.3 1375.9 475.1C1386.3 478.0 1401.8 479.2 1410.4 482.0C1419.0 484.9 1423.6 487.2 1427.6 492.4C1431.6 497.5 1434.5 507.3 1434.5 513.1C1434.5 518.8 1432.8 521.7 1427.6 526.8C1422.5 532.0 1412.1 540.6 1403.5 544.1C1394.9 547.5 1386.3 548.1 1375.9 547.5C1365.6 547.0 1352.9 543.5 1341.5 540.6C1330.0 537.8 1315.6 533.2 1307.0 530.3C1298.4 527.4 1295.5 522.8 1289.8 523.4C1284.0 524.0 1275.7 533.2 1272.5 533.7C1269.4 534.3 1269.1 528.6 1270.8 526.8C1272.5 525.1 1280.3 525.7 1282.9 523.4C1285.5 521.1 1286.9 517.1 1286.3 513.1C1285.7 509.0 1281.1 505.0 1279.4 499.3C1277.7 493.5 1277.1 486.1 1276.0 478.6C1274.8 471.1 1274.2 460.2 1272.5 454.5C1270.8 448.7 1271.4 444.1 1265.6 444.1C1259.9 444.1 1248.4 452.2 1238.1 454.5C1227.7 456.8 1215.1 456.2 1203.6 457.9C1192.1 459.6 1180.0 462.8 1169.1 464.8C1158.2 466.8 1146.1 469.4 1138.1 470.0C1130.1 470.6 1127.2 470.3 1120.9 468.3C1114.6 466.2 1106.5 462.5 1100.2 457.9C1093.9 453.3 1087.0 447.0 1083.0 440.7C1078.9 434.4 1078.9 426.9 1076.1 420.0C1073.2 413.1 1068.6 406.8 1065.7 399.3C1062.9 391.9 1060.6 383.2 1058.8 375.2C1057.1 367.2 1057.7 358.0 1055.4 351.1C1053.1 344.2 1049.6 337.6 1045.0 333.8C1040.5 330.1 1033.0 328.1 1027.8 328.7C1022.6 329.2 1019.2 334.4 1014.0 337.3C1008.9 340.2 1003.7 344.2 996.8 345.9C989.9 347.6 980.1 348.5 972.7 347.6C965.2 346.8 959.5 343.6 952.0 340.7C944.5 337.9 935.9 332.7 927.9 330.4C919.8 328.1 911.2 325.8 903.7 326.9C896.3 328.1 887.1 340.7 883.1 337.3C879.0 333.8 880.2 319.5 879.6 306.3C879.0 293.1 878.5 268.4 879.6 258.0C880.8 247.7 885.9 251.1 886.5 244.2C887.1 237.3 858.9 223.5 883.1 216.7Z" fill="#EBE84E"/>
<path d="M1051.9 182.2C1050.8 189.7 1053.1 193.1 1058.8 196.0C1064.6 198.8 1078.4 199.4 1086.4 199.4C1094.5 199.4 1102.2 198.8 1107.1 196.0C1112.0 193.1 1112.5 186.8 1115.7 182.2C1118.9 177.6 1123.5 173.6 1126.0 168.4C1128.6 163.2 1130.9 156.6 1131.2 151.2C1131.5 145.7 1130.1 139.7 1127.8 135.7C1125.5 131.6 1121.2 129.3 1117.4 127.0C1113.7 124.7 1109.4 123.6 1105.4 121.9C1101.3 120.1 1099.9 111.8 1093.3 116.7C1086.7 121.6 1072.6 140.3 1065.7 151.2C1058.8 162.1 1053.1 174.7 1051.9 182.2Z" fill="#E8E7B4"/>
<path d="M1226.0 99.5C1221.7 104.1 1220.5 118.4 1219.1 127.0C1217.7 135.7 1217.1 144.3 1217.4 151.2C1217.7 158.1 1218.0 163.2 1220.8 168.4C1223.7 173.6 1229.4 178.2 1234.6 182.2C1239.8 186.2 1245.5 189.7 1251.8 192.5C1258.2 195.4 1266.8 196.5 1272.5 199.4C1278.3 202.3 1280.6 210.3 1286.3 209.8C1292.1 209.2 1309.3 208.6 1307.0 196.0C1304.7 183.3 1282.9 150.0 1272.5 133.9C1262.2 117.8 1252.7 105.2 1245.0 99.5C1237.2 93.7 1230.3 94.9 1226.0 99.5Z" fill="#E8E7B4"/>
<path d="M1424.2 368.3L1493.1 368.3L1493.1 378.6L1479.3 387.3L1465.5 390.7L1444.9 392.4L1427.6 387.3Z" fill="#EBE84E"/>
<path d="M934.8 233.9C938.5 231.6 947.4 228.4 955.4 227.0C963.5 225.6 975.0 225.8 983.0 225.3C991.1 224.7 996.8 223.3 1003.7 223.5C1010.6 223.8 1017.5 225.8 1024.4 227.0C1031.3 228.1 1038.2 228.7 1045.0 230.4C1051.9 232.2 1058.8 237.3 1065.7 237.3C1072.6 237.3 1079.5 232.2 1086.4 230.4C1093.3 228.7 1100.2 227.0 1107.1 227.0C1114.0 227.0 1121.4 228.1 1127.8 230.4C1134.1 232.7 1140.4 236.8 1145.0 240.8C1149.6 244.8 1153.6 249.4 1155.3 254.6C1157.1 259.7 1156.5 266.1 1155.3 271.8C1154.2 277.5 1150.2 283.3 1148.4 289.0C1146.7 294.8 1146.1 300.5 1145.0 306.3C1143.9 312.0 1144.4 318.9 1141.6 323.5C1138.7 328.1 1133.5 331.5 1127.8 333.8C1122.0 336.1 1114.0 337.3 1107.1 337.3C1100.2 337.3 1092.2 336.1 1086.4 333.8C1080.7 331.5 1076.6 327.5 1072.6 323.5C1068.6 319.5 1066.3 313.7 1062.3 309.7C1058.3 305.7 1053.7 302.2 1048.5 299.4C1043.3 296.5 1037.0 293.3 1031.3 292.5C1025.5 291.6 1019.8 292.5 1014.0 294.2C1008.3 295.9 1001.4 300.2 996.8 302.8C992.2 305.4 990.5 309.1 986.5 309.7C982.4 310.3 977.3 308.6 972.7 306.3C968.1 304.0 963.5 299.4 958.9 295.9C954.3 292.5 949.7 288.5 945.1 285.6C940.5 282.7 934.8 281.6 931.3 278.7C927.9 275.8 924.4 272.4 924.4 268.4C924.4 264.3 929.9 259.2 931.3 254.6C932.7 250.0 932.5 244.2 933.0 240.8C933.6 237.3 931.0 236.2 934.8 233.9Z" fill="#EDAC1E"/>
<path d="M1120.9 371.7C1123.2 367.4 1130.1 366.6 1134.7 366.6C1139.3 366.6 1145.0 368.6 1148.4 371.7C1151.9 374.9 1154.2 379.8 1155.3 385.5C1156.5 391.3 1156.5 399.9 1155.3 406.2C1154.2 412.5 1151.3 418.9 1148.4 423.4C1145.6 428.0 1141.6 432.6 1138.1 433.8C1134.7 434.9 1130.4 433.8 1127.8 430.3C1125.2 426.9 1123.7 419.4 1122.6 413.1C1121.4 406.8 1121.2 399.3 1120.9 392.4C1120.6 385.5 1118.6 376.1 1120.9 371.7Z" fill="#EDAC1E"/>
<path d="M1148.4 356.2C1149.0 354.2 1153.0 352.5 1155.3 352.8C1157.6 353.1 1161.4 356.0 1162.2 358.0C1163.1 360.0 1162.2 363.7 1160.5 364.9C1158.8 366.0 1153.9 366.3 1151.9 364.9C1149.9 363.4 1147.9 358.2 1148.4 356.2Z" fill="#EDAC1E"/>
<path d="M1226.0 227.0C1226.9 225.1 1230.9 223.7 1232.9 224.2C1234.9 224.8 1237.8 228.3 1238.1 230.4C1238.3 232.6 1236.3 236.5 1234.6 237.3C1232.9 238.2 1229.2 237.3 1227.7 235.6C1226.3 233.9 1225.1 228.9 1226.0 227.0Z" fill="#EDAC1E"/>
<path d="M1010.6 451.0C1012.6 446.1 1019.8 439.0 1024.4 435.5C1029.0 432.1 1034.4 429.5 1038.2 430.3C1041.9 431.2 1045.0 436.1 1046.8 440.7C1048.5 445.3 1049.9 452.7 1048.5 457.9C1047.1 463.1 1042.8 468.8 1038.2 471.7C1033.6 474.6 1025.2 476.3 1020.9 475.1C1016.6 474.0 1014.0 468.8 1012.3 464.8C1010.6 460.8 1008.6 455.9 1010.6 451.0Z" fill="#C8EAE6"/>
<path d="M1375.9 574.9C1379.1 568.5 1379.1 567.8 1383.6 565.2C1388.2 562.7 1396.6 561.4 1403.0 559.4C1409.5 557.5 1416.2 555.2 1422.4 553.6C1428.5 552.0 1435.3 549.7 1439.8 549.7C1444.3 549.7 1445.9 552.0 1449.5 553.6C1453.0 555.2 1458.5 556.8 1461.1 559.4C1463.7 562.0 1464.0 565.6 1465.0 569.1C1465.9 572.7 1466.3 576.5 1466.9 580.7C1467.6 584.9 1476.3 588.8 1468.9 594.3C1461.4 599.8 1436.6 608.8 1422.4 613.6C1408.2 618.5 1393.3 624.9 1383.6 623.3C1374.0 621.7 1365.6 612.0 1364.3 604.0C1363.0 595.9 1372.7 581.4 1375.9 574.9Z" fill="#C8EAE6"/>
<path d="M1478.5 511.0C1479.5 508.4 1483.4 504.9 1486.3 501.3C1489.2 497.8 1492.7 493.3 1496.0 489.7C1499.2 486.2 1501.8 482.0 1505.6 480.0C1509.5 478.1 1504.0 468.7 1519.2 478.1C1534.4 487.5 1583.8 520.1 1596.7 536.2C1609.6 552.3 1609.6 562.0 1596.7 574.9C1583.8 587.8 1533.4 608.5 1519.2 613.6C1505.0 618.8 1513.4 610.1 1511.5 605.9C1509.5 601.7 1507.6 593.6 1507.6 588.5C1507.6 583.3 1510.5 580.4 1511.5 574.9C1512.4 569.4 1514.0 560.4 1513.4 555.6C1512.7 550.7 1510.2 549.1 1507.6 545.9C1505.0 542.6 1500.8 538.1 1497.9 536.2C1495.0 534.3 1492.1 536.2 1490.2 534.3C1488.2 532.3 1487.9 527.5 1486.3 524.6C1484.7 521.7 1481.8 519.1 1480.5 516.8C1479.2 514.6 1477.6 513.6 1478.5 511.0Z" fill="#C8EAE6"/>
<path d="M1566.6 549.7L1576.3 548.8L1576.3 555.6L1566.6 555.6Z" fill="#8AE8D6"/>
<path d="M1455.3 423.9C1455.9 420.3 1462.1 420.6 1465.0 421.9C1467.9 423.2 1469.5 428.4 1472.7 431.6C1476.0 434.8 1481.1 438.7 1484.3 441.3C1487.6 443.9 1492.1 444.2 1492.1 447.1C1492.1 450.0 1486.9 455.5 1484.3 458.7C1481.8 462.0 1479.2 466.5 1476.6 466.5C1474.0 466.5 1471.4 462.6 1468.9 458.7C1466.3 454.9 1463.4 449.0 1461.1 443.2C1458.8 437.4 1454.7 427.4 1455.3 423.9Z" fill="#F6F6C6"/>
<clipPath id="h_oahu_0"><path d="M1057.1 271.8L1065.7 258.0L1070.9 244.2L1079.5 233.9L1089.9 225.3L1101.9 222.9L1117.4 224.2L1131.2 228.7L1145.0 233.9L1160.5 235.6L1169.1 230.4L1176.0 216.7L1169.1 206.3L1158.8 199.4L1153.6 189.1L1155.3 180.5L1169.1 177.0L1182.9 178.0L1191.5 183.9L1193.3 194.2L1201.9 201.1L1217.4 204.6L1234.6 209.8L1251.8 216.7L1265.6 225.3L1276.0 233.9L1289.8 237.3L1300.1 244.2L1310.4 258.0L1312.2 264.9L1300.1 268.4L1294.9 277.0L1300.1 285.6L1310.4 292.5L1315.6 302.8L1317.3 316.6L1320.8 326.9L1317.3 340.7L1310.4 347.6L1300.1 349.3L1289.8 354.5L1293.2 368.3L1300.1 382.1L1307.0 395.9L1313.9 409.7L1303.5 416.6L1286.3 416.6L1269.1 413.1L1251.8 402.8L1243.2 392.4L1241.5 383.8L1248.4 371.7L1265.6 364.9L1279.4 361.4L1286.3 356.2L1282.9 340.7L1272.5 333.8L1262.2 330.4L1251.8 332.1L1241.5 337.3L1231.2 344.2L1217.4 347.6L1203.6 349.3L1186.4 352.8L1177.7 349.3L1177.7 337.3L1181.2 323.5L1189.8 313.2L1198.4 302.8L1196.7 292.5L1186.4 285.6L1169.1 287.3L1151.9 290.8L1134.7 295.9L1120.9 297.6L1114.0 306.3L1105.4 318.3L1093.3 314.9L1083.0 306.3L1072.6 295.9L1064.0 285.6Z"/></clipPath>
<g clip-path="url(#h_oahu_0)"><use href="#hatchlines" transform="translate(11.6,0)"/></g>
<rect x="823" y="65" width="761" height="553" fill="#fff" filter="url(#relief1)" style="mix-blend-mode:multiply"/>
</g>
<path d="M1134.7 483.8L1138.1 473.4L1145.0 468.3L1155.3 471.7L1158.8 478.6L1165.7 483.8L1169.1 492.4L1162.2 495.8L1151.9 492.4L1141.6 490.7Z" fill="#fff" stroke="#000" stroke-width="2" stroke-linejoin="round"/>
<path d="M1170.9 459.6L1177.7 455.5L1182.9 461.4L1186.4 470.0L1193.3 475.1L1196.7 483.8L1198.4 495.8L1195.0 509.6L1198.4 520.0L1201.9 528.6L1196.7 530.3L1193.3 520.0L1186.4 509.6L1179.5 502.7L1182.9 495.8L1189.8 490.7L1186.4 482.0L1179.5 476.9L1174.3 470.0Z" fill="#fff" stroke="#000" stroke-width="2" stroke-linejoin="round"/>
<path d="M1198.4 461.4L1208.8 456.2L1220.8 461.4L1231.2 470.0L1239.8 471.7L1234.6 480.3L1227.7 488.9L1231.2 497.5L1220.8 499.3L1212.2 492.4L1203.6 494.1L1200.1 483.8L1203.6 475.1L1198.4 468.3Z" fill="#fff" stroke="#000" stroke-width="2" stroke-linejoin="round"/>
<path d="M1208.8 480.3L1217.4 476.9L1220.8 480.3L1213.9 488.9L1207.0 488.9Z" fill="#E8E7B4" stroke="#000" stroke-width="1.5"/>
<path d="M1222.0 549.4L1273.7 547.4L1273.7 555.0L1221.0 555.9Z" fill="#F6F6C6" stroke="#000" stroke-width="2"/>
<path d="M1227.8 542.0L1238.4 541.6L1247.1 548.2L1226.8 549.0Z" fill="#F6F6C6" stroke="#000" stroke-width="2"/>
<path d="M827.9 233.9L858.9 229.7L893.4 227.0L927.9 225.3L955.4 225.3L983.0 224.2L1003.7 222.9L1017.5 223.5L1021.6 216.7L1031.3 211.5L1038.2 209.8L1036.4 201.1L1046.8 192.5L1055.4 183.9L1065.7 175.3L1076.1 165.0L1083.0 154.6L1086.4 140.8L1095.0 132.2L1105.4 120.1L1115.7 108.1L1129.5 97.7L1145.0 89.1L1160.5 82.2L1164.0 77.1L1172.6 75.3L1181.2 70.2L1191.5 73.6L1201.9 71.9L1208.8 80.5L1217.4 92.6L1226.0 101.2L1234.6 113.3L1239.8 116.7L1238.1 125.3L1248.4 137.4L1257.0 146.0L1265.6 146.0L1260.5 152.9L1258.7 168.4L1263.9 178.7L1272.5 190.8L1281.1 202.9L1289.8 214.9L1296.7 227.0L1307.0 233.9L1312.2 247.7L1313.9 258.0L1324.2 252.8L1334.6 254.6L1344.9 264.9L1350.1 275.2L1357.0 289.0L1358.7 306.3L1355.2 313.2L1341.5 316.6L1336.3 330.4L1344.9 333.8L1348.4 347.6L1350.1 361.4L1355.2 370.0L1372.5 375.2L1382.8 382.1L1386.3 395.9L1396.6 404.5L1406.9 409.7L1410.4 416.6L1413.8 423.4L1420.7 426.9L1431.1 425.2L1441.4 416.6L1448.3 406.2L1450.0 399.3L1438.0 392.4L1427.6 387.3L1425.9 380.4L1434.5 373.5L1441.4 368.3L1444.9 375.2L1465.5 373.5L1479.3 370.0L1489.7 371.1L1491.4 376.9L1479.3 385.5L1469.0 389.0L1465.5 395.9L1472.4 404.5L1470.7 413.1L1465.5 420.0L1467.3 430.3L1476.6 439.4L1488.2 444.2L1497.9 449.0L1505.6 456.8L1510.5 464.5L1509.5 474.2L1506.6 483.9L1509.5 497.5L1517.3 509.1L1525.0 520.7L1534.7 527.5L1544.4 531.3L1554.1 536.2L1563.7 541.0L1575.4 545.9L1579.2 547.8L1578.3 555.6L1574.4 561.4L1565.7 567.2L1557.9 572.0L1550.2 576.9L1542.4 584.6L1534.7 590.4L1530.8 594.3L1526.9 592.3L1522.1 594.3L1521.1 597.2L1526.9 600.1L1526.0 604.0L1519.2 605.9L1511.5 607.8L1504.7 606.9L1504.7 600.1L1506.6 590.4L1507.6 584.6L1501.8 580.7L1494.0 578.8L1488.2 580.7L1476.6 582.7L1466.9 584.6L1457.2 587.5L1449.5 590.4L1441.7 590.4L1432.1 594.3L1424.3 599.1L1418.5 604.0L1410.8 608.8L1408.8 612.7L1403.0 610.7L1395.3 612.7L1387.5 613.6L1379.8 610.7L1374.0 605.9L1372.0 598.2L1371.1 592.3L1364.3 588.5L1356.5 583.6L1350.7 578.8L1344.9 577.8L1343.0 580.7L1341.0 574.9L1335.2 572.0L1327.5 571.0L1321.7 566.2L1315.9 564.3L1321.7 555.6L1323.6 548.8L1319.7 545.9L1313.9 547.8L1306.2 543.9L1304.3 538.1L1300.4 538.1L1298.4 542.0L1292.6 543.9L1288.8 532.3L1285.9 525.5L1290.7 522.6L1287.8 520.7L1281.0 525.5L1271.3 534.3L1263.6 540.1L1256.8 545.9L1248.1 547.8L1238.4 541.6L1227.8 542.0L1215.2 540.4L1205.5 536.2L1186.4 537.2L1169.1 544.1L1134.7 551.0L1100.2 557.9L1065.7 563.0L1038.2 564.8L1031.3 561.3L1024.4 547.5L1017.5 530.3L1010.6 506.2L1005.4 485.5L996.8 471.7L986.5 461.4L972.7 451.0L958.9 442.4L952.0 437.2L948.5 423.4L945.1 406.2L938.2 392.4L927.9 378.6L917.5 368.3L907.2 359.7L903.7 351.1L893.4 344.2L886.5 337.3L888.2 320.0L890.0 302.8L888.2 289.0L883.1 275.2L872.7 264.9L858.9 254.6L845.1 244.2Z" fill="none" stroke="#000" stroke-width="2.2" stroke-linejoin="round"/>
<path d="M1057.1 271.8L1065.7 258.0L1070.9 244.2L1079.5 233.9L1089.9 225.3L1101.9 222.9L1117.4 224.2L1131.2 228.7L1145.0 233.9L1160.5 235.6L1169.1 230.4L1176.0 216.7L1169.1 206.3L1158.8 199.4L1153.6 189.1L1155.3 180.5L1169.1 177.0L1182.9 178.0L1191.5 183.9L1193.3 194.2L1201.9 201.1L1217.4 204.6L1234.6 209.8L1251.8 216.7L1265.6 225.3L1276.0 233.9L1289.8 237.3L1300.1 244.2L1310.4 258.0L1312.2 264.9L1300.1 268.4L1294.9 277.0L1300.1 285.6L1310.4 292.5L1315.6 302.8L1317.3 316.6L1320.8 326.9L1317.3 340.7L1310.4 347.6L1300.1 349.3L1289.8 354.5L1293.2 368.3L1300.1 382.1L1307.0 395.9L1313.9 409.7L1303.5 416.6L1286.3 416.6L1269.1 413.1L1251.8 402.8L1243.2 392.4L1241.5 383.8L1248.4 371.7L1265.6 364.9L1279.4 361.4L1286.3 356.2L1282.9 340.7L1272.5 333.8L1262.2 330.4L1251.8 332.1L1241.5 337.3L1231.2 344.2L1217.4 347.6L1203.6 349.3L1186.4 352.8L1177.7 349.3L1177.7 337.3L1181.2 323.5L1189.8 313.2L1198.4 302.8L1196.7 292.5L1186.4 285.6L1169.1 287.3L1151.9 290.8L1134.7 295.9L1120.9 297.6L1114.0 306.3L1105.4 318.3L1093.3 314.9L1083.0 306.3L1072.6 295.9L1064.0 285.6Z" fill="none" stroke="#000" stroke-width="7.5" stroke-linejoin="round"/>
<path d="M969.2 236.6L969.1 237.5L968.8 238.4L968.2 239.1L967.5 239.6L966.7 240.0L965.8 240.1L964.9 240.0L964.1 239.6L963.3 239.1L962.8 238.4L962.4 237.5L962.3 236.6L962.4 235.7L962.8 234.9L963.3 234.2L964.1 233.7L964.9 233.3L965.8 233.2L966.7 233.3L967.5 233.7L968.2 234.2L968.8 234.9L969.1 235.7Z" fill="#000"/>
<path d="M981.1 259.3L980.3 261.5L979.3 263.5L978.0 265.1L976.6 266.2L975.2 266.7L973.8 266.7L972.6 266.0L971.6 264.8L970.9 263.2L970.6 261.2L970.7 259.0L971.1 256.7L971.9 254.5L973.0 252.5L974.2 250.9L975.6 249.8L977.1 249.3L978.4 249.4L979.6 250.0L980.6 251.2L981.3 252.8L981.6 254.8L981.5 257.1Z" fill="#000"/>
<path d="M1005.3 247.6L1005.6 249.0L1005.4 250.5L1004.7 252.0L1003.6 253.3L1002.1 254.4L1000.4 255.3L998.6 255.7L996.8 255.8L995.0 255.5L993.6 254.8L992.4 253.8L991.7 252.6L991.5 251.1L991.7 249.6L992.4 248.2L993.5 246.8L994.9 245.7L996.6 244.9L998.5 244.4L1000.3 244.4L1002.0 244.7L1003.5 245.3L1004.6 246.4Z" fill="#000"/>
<clipPath id="c_molokai"><path d="M44.8 885.6L52.7 872.8L59.1 856.9L68.7 841.0L81.4 825.1L97.3 812.3L113.2 799.6L114.8 786.9L118.0 774.1L111.6 761.4L105.3 751.8L108.5 743.9L122.8 745.5L138.7 750.2L154.6 748.7L162.6 745.5L170.6 750.2L180.1 755.0L186.5 764.6L199.2 767.8L218.3 769.4L234.2 772.5L247.0 770.9L262.9 772.5L278.8 775.7L294.7 776.7L310.7 778.9L326.6 782.1L342.5 786.9L361.6 785.3L377.5 788.5L393.4 790.7L409.4 793.9L422.1 793.2L430.1 785.3L434.8 770.9L439.6 758.2L447.6 751.8L460.3 756.6L466.7 767.8L473.1 780.5L477.8 796.4L485.8 803.4L498.5 804.4L511.3 805.3L524.0 810.7L533.6 812.3L541.5 806.0L551.1 810.7L559.0 813.9L567.3 814.3L575.6 814.9L583.9 812.7L591.2 810.7L598.2 808.8L608.1 812.0L615.1 811.4L619.8 807.2L627.2 804.7L631.9 802.5L638.9 801.8L646.3 799.3L651.0 800.6L654.6 807.2L659.6 808.2L664.4 805.3L667.9 801.8L674.9 800.6L684.8 799.9L687.0 798.0L694.4 798.6L703.9 799.3L713.5 799.9L721.7 800.6L725.9 804.1L726.5 810.7L725.9 818.1L730.3 819.0L737.3 818.4L745.9 816.8L754.2 817.4L757.1 819.0L756.4 825.1L756.1 832.4L752.9 837.2L749.4 842.0L746.9 848.0L742.1 854.1L737.3 858.8L732.6 863.6L730.3 868.4L725.6 871.9L720.8 875.4L715.7 877.9L714.7 881.4L710.0 884.9L703.9 890.0L697.9 894.8L691.8 899.6L685.8 904.4L680.0 909.1L674.0 911.4L667.9 913.9L664.4 917.4L661.9 920.9L655.8 923.5L651.0 924.7L646.3 928.2L642.8 931.7L634.2 933.0L627.2 935.6L622.4 937.8L615.1 939.7L609.0 940.3L608.1 942.6L600.7 943.2L596.0 943.8L592.5 946.1L591.2 949.9L589.9 947.4L591.8 942.6L588.6 940.3L581.6 941.3L576.9 945.1L569.5 948.6L563.5 952.1L549.5 949.9L539.9 944.5L530.4 941.3L517.6 939.7L501.7 936.5L485.8 931.7L469.9 928.6L453.9 925.4L438.0 922.2L422.1 919.0L406.2 914.2L390.3 909.5L382.3 906.3L379.1 911.1L383.9 901.5L371.2 896.7L358.4 891.9L342.5 890.4L326.6 887.2L310.7 885.6L301.1 885.6L288.4 888.8L269.3 891.9L250.2 895.1L231.1 896.7L211.9 898.3L192.8 899.9L173.7 901.5L154.6 902.1L135.5 903.1L119.6 904.7L103.7 903.1L87.8 899.9L71.8 896.7L55.9 891.9Z"/></clipPath>
<g clip-path="url(#c_molokai)">
<rect x="40" y="739" width="722" height="218" fill="#E8E7B4"/>
<path d="M94.1 911.1C70.8 904.7 91.5 884.5 90.9 872.8C90.4 861.2 90.7 850.0 90.9 841.0C91.2 832.0 88.8 825.6 92.5 818.7C96.3 811.8 106.1 803.3 113.2 799.6C120.4 795.9 126.5 797.0 135.5 796.4C144.5 795.9 156.8 797.0 167.4 796.4C178.0 795.9 190.7 792.7 199.2 793.2C207.7 793.8 213.0 796.4 218.3 799.6C223.6 802.8 226.3 810.2 231.1 812.3C235.8 814.5 242.2 813.9 247.0 812.3C251.7 810.7 257.1 810.2 259.7 802.8C262.4 795.4 258.1 773.6 262.9 767.8C267.7 761.9 283.1 763.5 288.4 767.8C293.7 772.0 291.6 787.9 294.7 793.2C297.9 798.5 302.2 799.1 307.5 799.6C312.8 800.1 321.8 800.1 326.6 796.4C331.4 792.7 330.8 780.0 336.1 777.3C341.4 774.7 351.5 779.4 358.4 780.5C365.3 781.6 372.7 780.0 377.5 783.7C382.3 787.4 387.6 798.0 387.1 802.8C386.5 807.6 380.2 811.3 374.3 812.3C368.5 813.4 359.0 810.7 352.1 809.2C345.2 807.6 338.3 802.8 332.9 802.8C327.6 802.8 323.9 806.0 320.2 809.2C316.5 812.3 314.9 819.2 310.7 821.9C306.4 824.5 299.5 826.1 294.7 825.1C290.0 824.0 286.2 817.1 282.0 815.5C277.8 813.9 272.4 813.4 269.3 815.5C266.1 817.6 262.4 823.5 262.9 828.3C263.4 833.0 269.3 838.9 272.4 844.2C275.6 849.5 279.9 854.3 282.0 860.1C284.1 865.9 285.7 872.8 285.2 879.2C284.7 885.6 287.8 893.0 278.8 898.3C269.8 903.6 261.8 908.9 231.1 911.1C200.3 913.2 117.5 917.4 94.1 911.1Z" fill="#C8EAE6"/>
<path d="M106.9 825.1C109.8 820.3 115.9 820.3 122.8 818.7C129.7 817.1 140.8 817.1 148.3 815.5C155.7 813.9 159.9 810.5 167.4 809.2C174.8 807.8 185.4 807.0 192.8 807.6C200.3 808.1 206.1 810.0 211.9 812.3C217.8 814.7 224.7 818.2 227.9 821.9C231.1 825.6 232.6 830.4 231.1 834.6C229.5 838.9 223.6 844.7 218.3 847.4C213.0 850.0 205.6 849.5 199.2 850.6C192.8 851.6 185.4 851.6 180.1 853.7C174.8 855.9 172.7 861.2 167.4 863.3C162.1 865.4 154.1 864.4 148.3 866.5C142.4 868.6 136.1 872.8 132.3 876.0C128.6 879.2 129.2 884.5 126.0 885.6C122.8 886.6 116.4 885.0 113.2 882.4C110.1 879.7 108.2 875.5 106.9 869.7C105.5 863.8 105.3 854.8 105.3 847.4C105.3 839.9 103.9 829.9 106.9 825.1Z" fill="#E8E7B4"/>
<path d="M186.5 898.3C182.2 895.9 194.4 886.1 199.2 884.0C204.0 881.9 210.9 883.2 215.1 885.6C219.4 888.0 229.5 896.2 224.7 898.3C219.9 900.4 190.7 900.7 186.5 898.3Z" fill="#E8E7B4"/>
<path d="M100.5 739.1C109.0 735.4 156.0 734.3 164.2 739.1C172.4 743.9 154.6 762.5 149.9 767.8C145.1 773.1 140.6 769.9 135.5 770.9C130.5 772.0 123.3 775.7 119.6 774.1C115.9 772.5 116.4 767.2 113.2 761.4C110.1 755.6 92.0 742.8 100.5 739.1Z" fill="#8AE8D6"/>
<path d="M113.2 799.6C110.6 796.4 113.8 781.6 119.6 777.3C125.4 773.1 141.4 773.1 148.3 774.1C155.2 775.2 155.2 781.6 161.0 783.7C166.8 785.8 175.9 789.5 183.3 786.9C190.7 784.2 197.6 770.9 205.6 767.8C213.5 764.6 224.2 767.2 231.1 767.8C238.0 768.3 244.3 766.7 247.0 770.9C249.6 775.2 247.5 786.9 247.0 793.2C246.4 799.6 246.4 806.0 243.8 809.2C241.1 812.3 235.3 813.9 231.1 812.3C226.8 810.7 223.6 802.8 218.3 799.6C213.0 796.4 207.7 793.8 199.2 793.2C190.7 792.7 178.0 795.9 167.4 796.4C156.8 797.0 144.5 795.9 135.5 796.4C126.5 797.0 115.9 802.8 113.2 799.6Z" fill="#8AE8D6"/>
<path d="M52.7 856.9C52.7 844.7 65.5 837.8 71.8 831.4C78.2 825.1 87.5 816.1 90.9 818.7C94.4 821.4 91.5 838.3 92.5 847.4C93.6 856.4 95.5 866.5 97.3 872.8C99.2 879.2 104.2 880.3 103.7 885.6C103.2 890.9 99.4 901.5 94.1 904.7C88.8 907.9 78.7 912.6 71.8 904.7C64.9 896.7 52.7 869.1 52.7 856.9Z" fill="#8AE8D6"/>
<path d="M40.0 891.9C42.7 883.5 51.1 861.2 55.9 853.7C60.7 846.3 63.9 846.3 68.7 847.4C73.4 848.4 80.1 855.3 84.6 860.1C89.1 864.9 93.6 871.2 95.7 876.0C97.8 880.8 98.6 884.0 97.3 888.8C96.0 893.5 97.3 902.0 87.8 904.7C78.2 907.3 48.0 906.8 40.0 904.7C32.0 902.6 37.3 900.4 40.0 891.9Z" fill="#5FB6DC"/>
<path d="M149.9 767.8C151.7 761.7 157.0 743.4 162.6 740.7C168.2 738.0 178.8 747.9 183.3 751.8C187.8 755.8 187.0 761.4 189.7 764.6C192.3 767.8 198.1 768.8 199.2 770.9C200.3 773.1 198.7 774.9 196.0 777.3C193.4 779.7 189.1 784.2 183.3 785.3C177.5 786.3 166.3 785.0 161.0 783.7C155.7 782.4 153.3 780.0 151.4 777.3C149.6 774.7 148.0 773.9 149.9 767.8Z" fill="#5FB6DC"/>
<path d="M119.6 767.8L135.5 767.8L135.5 777.3L119.6 777.3Z" fill="#5FB6DC"/>
<path d="M221.5 860.1C221.5 856.4 223.6 851.6 226.3 849.0C228.9 846.3 233.7 844.2 237.4 844.2C241.1 844.2 245.9 846.3 248.6 849.0C251.2 851.6 253.3 856.4 253.3 860.1C253.3 863.8 251.2 868.6 248.6 871.2C245.9 873.9 241.1 876.0 237.4 876.0C233.7 876.0 228.9 873.9 226.3 871.2C223.6 868.6 221.5 863.8 221.5 860.1Z" fill="#8AE8D6"/>
<path d="M154.6 874.4C156.8 872.3 165.2 872.3 167.4 874.4C169.5 876.6 169.5 885.0 167.4 887.2C165.2 889.3 156.8 889.3 154.6 887.2C152.5 885.0 152.5 876.6 154.6 874.4Z" fill="#8AE8D6"/>
<path d="M337.7 856.9C338.8 852.7 345.9 849.5 352.1 847.4C358.2 845.2 368.0 845.8 374.3 844.2C380.7 842.6 386.5 836.8 390.3 837.8C394.0 838.9 395.8 845.8 396.6 850.6C397.4 855.3 397.2 861.7 395.0 866.5C392.9 871.2 387.9 876.0 383.9 879.2C379.9 882.4 375.4 885.0 371.2 885.6C366.9 886.1 362.7 884.5 358.4 882.4C354.2 880.3 349.1 877.1 345.7 872.8C342.2 868.6 336.7 861.2 337.7 856.9Z" fill="#EBE84E"/>
<path d="M452.4 799.6C452.9 794.8 457.4 785.8 460.3 783.7C463.2 781.6 467.2 784.2 469.9 786.9C472.5 789.5 473.6 796.4 476.2 799.6C478.9 802.8 480.0 805.2 485.8 806.0C491.6 806.8 507.5 803.3 511.3 804.4C515.0 805.4 511.3 810.0 508.1 812.3C504.9 814.7 496.9 816.6 492.2 818.7C487.4 820.8 483.7 824.5 479.4 825.1C475.2 825.6 470.4 824.0 466.7 821.9C463.0 819.8 459.5 816.1 457.1 812.3C454.7 808.6 451.8 804.4 452.4 799.6Z" fill="#EBE84E"/>
<path d="M113.2 866.5L121.2 866.5L121.2 872.8L113.2 872.8Z" fill="#EBE84E"/>
<path d="M431.7 770.9C432.7 765.6 442.3 751.3 447.6 748.7C452.9 746.0 462.4 751.8 463.5 755.0C464.6 758.2 457.7 763.5 453.9 767.8C450.2 772.0 444.9 780.0 441.2 780.5C437.5 781.0 430.6 776.3 431.7 770.9Z" fill="#C8EAE6"/>
<path d="M441.2 841.0C442.8 838.3 449.2 835.7 453.9 837.8C458.7 839.9 463.5 852.1 469.9 853.7C476.2 855.3 484.2 850.0 492.2 847.4C500.1 844.7 512.3 836.8 517.6 837.8C522.9 838.9 520.8 848.4 524.0 853.7C527.2 859.0 532.5 868.6 536.7 869.7C541.0 870.7 545.6 863.1 549.5 860.1C553.3 857.1 556.2 853.4 560.0 851.5C563.7 849.7 568.1 849.8 572.1 849.0C576.1 848.2 579.9 846.9 583.9 846.7C587.8 846.6 591.9 846.8 596.0 848.0C600.0 849.2 604.9 852.3 608.1 854.1C611.2 855.9 612.7 856.9 615.1 858.8C617.5 860.8 620.0 863.4 622.4 865.8C624.8 868.2 627.0 871.1 629.4 873.2C631.8 875.2 634.3 876.6 636.7 877.9C639.2 879.3 641.7 880.1 644.0 881.4C646.4 882.8 648.7 884.6 651.0 886.2C653.4 887.8 656.0 889.6 658.4 891.0C660.8 892.4 663.0 893.8 665.4 894.8C667.8 895.8 670.3 895.9 672.7 897.0C675.1 898.2 677.2 900.4 680.0 901.8C682.8 903.2 686.9 902.7 689.6 905.3C692.2 907.9 703.4 908.0 695.9 917.4C688.5 926.9 669.4 954.6 645.0 962.0C620.6 969.4 569.6 967.8 549.5 962.0C529.3 956.2 532.5 935.5 524.0 927.0C515.5 918.5 507.5 915.3 498.5 911.1C489.5 906.8 478.4 904.7 469.9 901.5C461.4 898.3 452.9 895.7 447.6 891.9C442.3 888.2 437.5 884.0 438.0 879.2C438.6 874.4 449.7 867.5 450.8 863.3C451.8 859.0 446.0 857.5 444.4 853.7C442.8 850.0 439.6 843.7 441.2 841.0Z" fill="#C8EAE6"/>
<path d="M652.3 806.0C652.9 807.2 654.0 810.9 655.8 813.3C657.6 815.7 660.8 817.5 663.1 820.3C665.5 823.1 668.0 826.7 670.2 829.9C672.3 833.0 674.4 836.2 676.2 839.4C678.0 842.6 679.5 845.7 681.0 849.0C682.4 852.2 683.6 856.0 684.8 858.8C686.0 861.6 687.5 863.7 688.3 865.8C689.1 868.0 689.0 871.2 689.6 871.9C690.2 872.5 690.4 870.7 691.8 869.7C693.2 868.6 695.8 865.8 697.9 865.8C699.9 865.8 701.9 868.2 703.9 869.7C705.9 871.1 708.2 873.1 710.0 874.4C711.8 875.8 712.9 876.8 714.7 877.9C716.5 879.1 719.8 880.9 720.8 881.4L772.4 847.4L772.4 783.7L652.3 783.7Z" fill="#C8EAE6"/>
<path d="M524.0 911.1C525.1 906.3 532.5 903.1 536.7 898.3C541.0 893.5 545.6 886.2 549.5 882.4C553.3 878.6 556.2 877.1 560.0 875.4C563.7 873.6 568.1 872.8 572.1 871.9C576.1 870.9 579.9 869.9 583.9 869.7C587.8 869.4 592.4 869.7 596.0 870.6C599.6 871.6 602.5 873.8 605.5 875.4C608.5 877.0 611.0 878.7 613.8 880.2C616.6 881.6 620.0 882.8 622.4 884.0C624.8 885.2 626.8 885.7 628.4 887.5C630.0 889.3 630.6 892.4 631.9 894.8C633.3 897.2 634.7 899.4 636.7 901.8C638.7 904.2 642.0 906.8 644.0 909.1C646.1 911.5 647.2 913.4 648.8 916.1C650.4 918.9 654.2 921.2 653.6 925.7C653.0 930.2 651.7 937.9 645.0 942.9C638.3 947.9 623.8 953.5 613.2 955.6C602.5 957.8 591.9 957.8 581.3 955.6C570.7 953.5 558.0 947.7 549.5 942.9C541.0 938.1 534.6 932.3 530.4 927.0C526.1 921.7 522.9 915.8 524.0 911.1Z" fill="#8AE8D6"/>
<path d="M559.0 917.4C559.6 913.9 568.3 911.3 572.1 909.1C575.8 907.0 578.9 905.8 581.6 904.4C584.4 902.9 586.3 901.8 588.6 900.5C591.0 899.3 593.1 897.8 596.0 897.0C598.8 896.2 602.7 895.6 605.5 895.8C608.3 896.0 610.5 897.5 612.8 898.3C615.2 899.1 616.7 899.5 619.8 900.5C623.0 901.6 627.9 902.1 631.9 904.4C636.0 906.6 641.7 909.7 644.0 913.9C646.4 918.1 647.2 924.7 646.3 929.5C645.4 934.4 644.7 939.1 638.6 942.9C632.6 946.7 617.4 950.3 610.0 952.4C602.5 954.6 598.8 957.2 594.1 955.6C589.3 954.0 585.6 947.1 581.3 942.9C577.1 938.6 572.3 934.4 568.6 930.2C564.9 925.9 558.4 920.9 559.0 917.4Z" fill="#5FB6DC"/>
<path d="M572.1 887.5C574.0 885.3 581.3 885.8 583.9 886.2C586.5 886.6 587.0 888.6 587.7 890.0C588.3 891.5 588.7 893.6 587.7 894.8C586.7 896.0 584.2 896.2 581.6 897.0C579.0 897.8 573.7 901.2 572.1 899.6C570.5 898.0 570.1 889.7 572.1 887.5Z" fill="#5FB6DC"/>
<path d="M705.2 807.2C705.7 805.6 706.9 804.2 708.7 803.4C710.4 802.6 713.3 802.8 715.7 802.5C718.1 802.1 721.0 800.6 723.0 801.2C725.0 801.8 727.0 803.6 727.8 806.0C728.6 808.4 726.2 813.9 727.8 815.5C729.4 817.1 732.9 815.7 737.3 815.5C741.7 815.3 750.2 813.5 754.2 814.3C758.3 815.0 762.0 818.3 761.5 820.3C761.1 822.3 754.5 825.8 751.7 826.4C748.9 826.9 747.1 824.6 744.7 823.8C742.3 823.0 740.2 821.7 737.3 821.6C734.5 821.4 730.8 822.3 727.8 822.8C724.8 823.4 721.9 825.1 719.5 825.1C717.1 825.1 715.3 824.0 713.5 822.8C711.7 821.7 710.0 819.7 708.7 818.1C707.4 816.5 706.1 815.1 705.5 813.3C704.9 811.5 704.7 808.9 705.2 807.2Z" fill="#8AE8D6"/>
<path d="M517.6 933.3C517.6 929.9 525.1 928.0 530.4 928.6C535.7 929.1 542.0 934.1 549.5 936.5C556.9 938.9 570.2 939.7 574.9 942.9C579.7 946.1 582.4 953.0 578.1 955.6C573.9 958.3 557.4 959.9 549.5 958.8C541.5 957.8 535.7 953.5 530.4 949.3C525.1 945.0 517.6 936.8 517.6 933.3Z" fill="#EBE84E"/>
<path d="M566.7 942.6L570.8 942.6L570.8 946.7L566.7 946.7Z" fill="#EDAC1E"/>
<clipPath id="h_molokai_0"><path d="M183.1 768.3L183.9 770.6L184.1 773.1L183.7 775.5L182.7 777.6L181.2 779.3L179.4 780.6L177.2 781.2L174.9 781.2L172.7 780.6L170.6 779.4L168.8 777.7L167.5 775.5L166.8 773.2L166.6 770.7L167.0 768.3L167.9 766.2L169.4 764.5L171.3 763.2L173.4 762.6L175.7 762.6L178.0 763.2L180.1 764.4L181.8 766.2Z"/></clipPath>
<g clip-path="url(#h_molokai_0)"><use href="#hatchlines" transform="translate(0,0)"/></g>
<clipPath id="h_molokai_1"><path d="M608.1 920.0L609.0 912.6L612.8 906.6L617.6 901.8L622.4 901.2L629.4 904.4L635.4 907.9L641.5 913.9L644.4 920.0L644.0 927.0L641.5 930.8L634.2 931.7L628.4 934.3L624.6 936.5L617.6 937.8L610.3 937.2L608.1 930.8Z"/></clipPath>
<g clip-path="url(#h_molokai_1)"><use href="#hatchlines" transform="translate(0,0)"/></g>
<rect x="40" y="739" width="722" height="218" fill="#fff" filter="url(#relief2)" style="mix-blend-mode:multiply"/>
</g>
<path d="M44.8 885.6L52.7 872.8L59.1 856.9L68.7 841.0L81.4 825.1L97.3 812.3L113.2 799.6L114.8 786.9L118.0 774.1L111.6 761.4L105.3 751.8L108.5 743.9L122.8 745.5L138.7 750.2L154.6 748.7L162.6 745.5L170.6 750.2L180.1 755.0L186.5 764.6L199.2 767.8L218.3 769.4L234.2 772.5L247.0 770.9L262.9 772.5L278.8 775.7L294.7 776.7L310.7 778.9L326.6 782.1L342.5 786.9L361.6 785.3L377.5 788.5L393.4 790.7L409.4 793.9L422.1 793.2L430.1 785.3L434.8 770.9L439.6 758.2L447.6 751.8L460.3 756.6L466.7 767.8L473.1 780.5L477.8 796.4L485.8 803.4L498.5 804.4L511.3 805.3L524.0 810.7L533.6 812.3L541.5 806.0L551.1 810.7L559.0 813.9L567.3 814.3L575.6 814.9L583.9 812.7L591.2 810.7L598.2 808.8L608.1 812.0L615.1 811.4L619.8 807.2L627.2 804.7L631.9 802.5L638.9 801.8L646.3 799.3L651.0 800.6L654.6 807.2L659.6 808.2L664.4 805.3L667.9 801.8L674.9 800.6L684.8 799.9L687.0 798.0L694.4 798.6L703.9 799.3L713.5 799.9L721.7 800.6L725.9 804.1L726.5 810.7L725.9 818.1L730.3 819.0L737.3 818.4L745.9 816.8L754.2 817.4L757.1 819.0L756.4 825.1L756.1 832.4L752.9 837.2L749.4 842.0L746.9 848.0L742.1 854.1L737.3 858.8L732.6 863.6L730.3 868.4L725.6 871.9L720.8 875.4L715.7 877.9L714.7 881.4L710.0 884.9L703.9 890.0L697.9 894.8L691.8 899.6L685.8 904.4L680.0 909.1L674.0 911.4L667.9 913.9L664.4 917.4L661.9 920.9L655.8 923.5L651.0 924.7L646.3 928.2L642.8 931.7L634.2 933.0L627.2 935.6L622.4 937.8L615.1 939.7L609.0 940.3L608.1 942.6L600.7 943.2L596.0 943.8L592.5 946.1L591.2 949.9L589.9 947.4L591.8 942.6L588.6 940.3L581.6 941.3L576.9 945.1L569.5 948.6L563.5 952.1L549.5 949.9L539.9 944.5L530.4 941.3L517.6 939.7L501.7 936.5L485.8 931.7L469.9 928.6L453.9 925.4L438.0 922.2L422.1 919.0L406.2 914.2L390.3 909.5L382.3 906.3L379.1 911.1L383.9 901.5L371.2 896.7L358.4 891.9L342.5 890.4L326.6 887.2L310.7 885.6L301.1 885.6L288.4 888.8L269.3 891.9L250.2 895.1L231.1 896.7L211.9 898.3L192.8 899.9L173.7 901.5L154.6 902.1L135.5 903.1L119.6 904.7L103.7 903.1L87.8 899.9L71.8 896.7L55.9 891.9Z" fill="none" stroke="#000" stroke-width="2.2" stroke-linejoin="round"/>
<path d="M183.1 768.3L183.9 770.6L184.1 773.1L183.7 775.5L182.7 777.6L181.2 779.3L179.4 780.6L177.2 781.2L174.9 781.2L172.7 780.6L170.6 779.4L168.8 777.7L167.5 775.5L166.8 773.2L166.6 770.7L167.0 768.3L167.9 766.2L169.4 764.5L171.3 763.2L173.4 762.6L175.7 762.6L178.0 763.2L180.1 764.4L181.8 766.2Z" fill="none" stroke="#000" stroke-width="7.5" stroke-linejoin="round"/>
<path d="M608.1 920.0L609.0 912.6L612.8 906.6L617.6 901.8L622.4 901.2L629.4 904.4L635.4 907.9L641.5 913.9L644.4 920.0L644.0 927.0L641.5 930.8L634.2 931.7L628.4 934.3L624.6 936.5L617.6 937.8L610.3 937.2L608.1 930.8Z" fill="none" stroke="#000" stroke-width="7.5" stroke-linejoin="round"/>
<clipPath id="c_lanai"><path d="M340.8 1135.9L341.7 1123.8L345.2 1115.1L353.0 1109.0L363.4 1103.0L375.5 1097.8L389.4 1094.3L403.3 1092.6L417.2 1091.7L431.0 1091.2L441.4 1094.3L451.9 1097.8L467.5 1097.4L484.8 1097.8L500.4 1100.4L514.3 1103.0L526.5 1106.4L536.9 1111.6L545.5 1116.8L554.2 1123.8L562.9 1132.5L571.6 1141.1L580.2 1148.1L590.6 1156.7L601.1 1165.4L609.7 1174.1L618.4 1182.8L625.3 1191.4L630.5 1200.1L637.5 1208.8L642.7 1217.5L644.4 1226.1L643.6 1234.8L641.0 1243.5L637.5 1252.2L634.0 1259.1L628.8 1266.0L621.9 1273.0L613.2 1278.2L604.5 1283.4L597.6 1288.6L587.2 1293.8L576.8 1299.0L566.4 1304.2L555.9 1309.4L547.3 1312.9L545.5 1319.8L540.3 1321.6L539.5 1316.4L528.2 1318.1L510.8 1320.7L493.5 1322.4L476.1 1324.2L464.0 1325.0L455.3 1326.8L452.7 1321.6L448.4 1314.6L441.4 1305.9L436.2 1299.0L432.8 1290.3L429.3 1279.9L425.8 1269.5L423.2 1262.6L425.8 1253.9L427.6 1243.5L428.4 1233.1L427.6 1222.7L424.1 1214.0L418.9 1205.3L413.7 1196.6L406.7 1188.0L398.1 1181.0L389.4 1175.8L379.0 1171.5L368.6 1168.9L358.2 1162.0L352.1 1156.7L349.5 1148.1L344.3 1142.9Z"/></clipPath>
<g clip-path="url(#c_lanai)">
<rect x="336" y="1086" width="314" height="246" fill="#E8E7B4"/>
<path d="M441.4 1087.3C433.3 1090.8 443.2 1099.8 444.9 1104.7C446.6 1109.6 449.0 1113.1 451.9 1116.8C454.7 1120.6 459.1 1123.5 462.3 1127.3C465.4 1131.0 468.0 1135.1 470.9 1139.4C473.8 1143.7 476.4 1148.9 479.6 1153.3C482.8 1157.6 486.3 1162.0 490.0 1165.4C493.8 1168.9 498.1 1171.8 502.2 1174.1C506.2 1176.4 510.0 1177.9 514.3 1179.3C518.6 1180.7 523.0 1182.2 528.2 1182.8C533.4 1183.3 539.8 1182.6 545.5 1182.8C551.3 1182.9 557.1 1183.6 562.9 1183.6C568.7 1183.6 574.7 1182.8 580.2 1182.8C585.7 1182.8 590.1 1183.9 595.9 1183.6C601.6 1183.3 608.9 1185.5 614.9 1181.0C621.0 1176.6 643.8 1170.9 632.3 1156.7C620.7 1142.6 568.7 1108.2 545.5 1096.0C522.4 1083.9 510.8 1085.3 493.5 1083.9C476.1 1082.4 449.5 1083.9 441.4 1087.3Z" fill="#C8EAE6"/>
<path d="M516.0 1122.9C517.6 1121.5 521.5 1126.1 524.7 1127.3C527.9 1128.4 531.7 1128.8 535.1 1129.9C538.6 1130.9 544.1 1131.4 545.5 1133.3C547.0 1135.2 545.0 1138.1 543.8 1141.1C542.6 1144.2 540.3 1148.6 538.6 1151.5C536.9 1154.4 535.7 1156.5 533.4 1158.5C531.1 1160.5 527.0 1164.0 524.7 1163.7C522.4 1163.4 520.7 1159.6 519.5 1156.7C518.4 1153.9 518.5 1149.8 517.8 1146.3C517.1 1142.9 515.5 1139.8 515.2 1135.9C514.9 1132.0 514.5 1124.4 516.0 1122.9Z" fill="#8AE8D6"/>
<path d="M372.0 1163.7C373.2 1161.8 390.6 1167.4 396.3 1169.8C402.1 1172.1 403.3 1176.8 406.7 1177.6C410.2 1178.3 413.1 1175.0 417.2 1174.1C421.2 1173.2 426.4 1172.5 431.0 1172.4C435.7 1172.2 440.3 1172.6 444.9 1173.2C449.5 1173.8 454.7 1174.5 458.8 1175.8C462.8 1177.1 465.7 1179.0 469.2 1181.0C472.7 1183.1 475.6 1186.2 479.6 1188.0C483.7 1189.7 488.3 1190.6 493.5 1191.4C498.7 1192.3 505.6 1192.6 510.8 1193.2C516.0 1193.8 521.5 1193.5 524.7 1194.9C527.9 1196.4 527.6 1199.8 529.9 1201.9C532.2 1203.9 534.8 1205.9 538.6 1207.1C542.4 1208.2 547.9 1208.5 552.5 1208.8C557.1 1209.1 562.3 1207.9 566.4 1208.8C570.4 1209.7 573.3 1211.7 576.8 1214.0C580.2 1216.3 583.7 1219.5 587.2 1222.7C590.6 1225.9 594.7 1229.6 597.6 1233.1C600.5 1236.6 603.1 1240.0 604.5 1243.5C606.0 1247.0 606.8 1250.7 606.3 1253.9C605.7 1257.1 603.7 1260.3 601.1 1262.6C598.5 1264.9 594.7 1266.0 590.6 1267.8C586.6 1269.5 581.4 1271.5 576.8 1273.0C572.1 1274.4 568.1 1275.6 562.9 1276.5C557.7 1277.3 550.7 1277.6 545.5 1278.2C540.3 1278.8 535.1 1278.2 531.7 1279.9C528.2 1281.7 528.2 1285.4 524.7 1288.6C521.2 1291.8 515.5 1296.4 510.8 1299.0C506.2 1301.6 501.3 1302.5 497.0 1304.2C492.6 1305.9 488.9 1309.1 484.8 1309.4C480.8 1309.7 476.4 1308.3 472.7 1305.9C468.9 1303.6 465.2 1299.0 462.3 1295.5C459.4 1292.1 458.2 1289.2 455.3 1285.1C452.4 1281.1 447.2 1275.3 444.9 1271.2C442.6 1267.2 442.3 1264.9 441.4 1260.8C440.6 1256.8 440.3 1251.3 439.7 1247.0C439.1 1242.6 440.6 1236.6 438.0 1234.8C435.4 1233.1 427.6 1238.0 424.1 1236.6C420.6 1235.1 420.0 1231.9 417.2 1226.1C414.3 1220.4 411.4 1209.4 406.7 1201.9C402.1 1194.3 395.2 1187.4 389.4 1181.0C383.6 1174.7 370.9 1165.6 372.0 1163.7Z" fill="#EBE84E"/>
<path d="M441.4 1226.1C444.0 1224.7 454.5 1224.1 457.1 1225.3C459.7 1226.4 459.7 1231.6 457.1 1233.1C454.5 1234.5 444.0 1235.1 441.4 1233.9C438.8 1232.8 438.8 1227.6 441.4 1226.1Z" fill="#E8E7B4"/>
<path d="M476.1 1214.0C478.5 1211.5 482.5 1211.7 486.6 1211.4C490.6 1211.1 496.7 1212.4 500.4 1212.3C504.2 1212.1 506.5 1210.8 509.1 1210.5C511.7 1210.2 514.9 1209.1 516.0 1210.5C517.2 1212.0 516.9 1216.6 516.0 1219.2C515.2 1221.8 511.4 1223.3 510.8 1226.1C510.3 1229.0 512.3 1232.8 512.6 1236.6C512.9 1240.3 513.2 1245.5 512.6 1248.7C512.0 1251.9 511.1 1253.3 509.1 1255.6C507.1 1257.9 503.6 1260.6 500.4 1262.6C497.2 1264.6 493.8 1266.9 490.0 1267.8C486.3 1268.6 481.6 1268.6 477.9 1267.8C474.1 1266.9 470.1 1264.3 467.5 1262.6C464.9 1260.8 462.6 1260.0 462.3 1257.4C462.0 1254.8 464.6 1250.4 465.7 1247.0C466.9 1243.5 468.0 1240.0 469.2 1236.6C470.4 1233.1 471.5 1229.9 472.7 1226.1C473.8 1222.4 473.8 1216.5 476.1 1214.0Z" fill="#EDAC1E"/>
<path d="M540.3 1237.4C541.6 1236.4 545.8 1235.7 549.0 1234.8C552.2 1233.9 556.7 1232.2 559.4 1232.2C562.2 1232.2 564.5 1233.4 565.5 1234.8C566.5 1236.3 567.1 1239.4 565.5 1240.9C563.9 1242.3 559.3 1243.1 555.9 1243.5C552.6 1243.9 548.0 1243.9 545.5 1243.5C543.1 1243.1 542.1 1241.9 541.2 1240.9C540.3 1239.9 539.0 1238.4 540.3 1237.4Z" fill="#EDAC1E"/>
<path d="M335.6 1134.2L347.8 1134.2L347.8 1138.5L335.6 1138.5Z" fill="#EBE84E"/>
<rect x="336" y="1086" width="314" height="246" fill="#fff" filter="url(#relief2)" style="mix-blend-mode:multiply"/>
</g>
<path d="M340.8 1135.9L341.7 1123.8L345.2 1115.1L353.0 1109.0L363.4 1103.0L375.5 1097.8L389.4 1094.3L403.3 1092.6L417.2 1091.7L431.0 1091.2L441.4 1094.3L451.9 1097.8L467.5 1097.4L484.8 1097.8L500.4 1100.4L514.3 1103.0L526.5 1106.4L536.9 1111.6L545.5 1116.8L554.2 1123.8L562.9 1132.5L571.6 1141.1L580.2 1148.1L590.6 1156.7L601.1 1165.4L609.7 1174.1L618.4 1182.8L625.3 1191.4L630.5 1200.1L637.5 1208.8L642.7 1217.5L644.4 1226.1L643.6 1234.8L641.0 1243.5L637.5 1252.2L634.0 1259.1L628.8 1266.0L621.9 1273.0L613.2 1278.2L604.5 1283.4L597.6 1288.6L587.2 1293.8L576.8 1299.0L566.4 1304.2L555.9 1309.4L547.3 1312.9L545.5 1319.8L540.3 1321.6L539.5 1316.4L528.2 1318.1L510.8 1320.7L493.5 1322.4L476.1 1324.2L464.0 1325.0L455.3 1326.8L452.7 1321.6L448.4 1314.6L441.4 1305.9L436.2 1299.0L432.8 1290.3L429.3 1279.9L425.8 1269.5L423.2 1262.6L425.8 1253.9L427.6 1243.5L428.4 1233.1L427.6 1222.7L424.1 1214.0L418.9 1205.3L413.7 1196.6L406.7 1188.0L398.1 1181.0L389.4 1175.8L379.0 1171.5L368.6 1168.9L358.2 1162.0L352.1 1156.7L349.5 1148.1L344.3 1142.9Z" fill="none" stroke="#000" stroke-width="2.2" stroke-linejoin="round"/>
<clipPath id="c_maui"><path d="M771.7 1100.8L774.7 1087.2L778.6 1069.5L785.4 1053.9L792.3 1038.2L798.1 1022.6L806.0 1008.9L807.9 1000.1L818.7 1001.1L824.6 996.2L838.2 992.3L840.2 978.6L853.9 979.6L865.6 978.6L877.4 977.6L883.2 969.8L900.8 970.8L904.8 979.6L908.7 985.4L922.4 986.4L930.2 992.3L940.0 995.2L944.9 1006.9L955.6 1005.0L956.6 1016.7L963.4 1024.6L975.2 1025.5L977.1 1033.4L974.2 1044.1L981.0 1055.9L988.9 1062.7L994.7 1069.5L997.7 1081.3L1006.5 1087.2L1013.3 1095.0L1016.3 1106.7L1022.1 1114.5L1029.0 1122.4L1032.9 1130.2L1049.5 1131.2L1065.2 1128.2L1080.8 1120.4L1092.6 1114.5L1110.5 1113.5L1127.2 1110.2L1143.9 1105.2L1160.7 1093.5L1177.4 1083.4L1194.1 1080.1L1207.5 1073.4L1219.2 1070.7L1227.6 1075.1L1244.3 1076.8L1257.7 1073.4L1264.3 1070.1L1274.4 1080.1L1284.4 1081.8L1294.4 1080.1L1307.8 1081.8L1317.9 1086.8L1327.9 1091.8L1332.9 1103.5L1344.6 1111.9L1351.3 1121.9L1364.7 1130.3L1373.0 1140.3L1384.7 1150.3L1398.1 1158.7L1411.5 1167.1L1424.9 1165.4L1434.9 1175.4L1444.9 1178.8L1448.3 1190.5L1458.3 1200.5L1468.4 1212.2L1481.7 1213.9L1495.1 1210.5L1508.5 1217.2L1521.9 1227.3L1535.3 1232.3L1552.0 1235.6L1568.7 1240.6L1585.4 1247.3L1598.8 1254.0L1608.8 1267.4L1618.9 1277.4L1623.9 1290.8L1620.5 1307.5L1618.9 1327.6L1615.5 1344.3L1605.5 1357.7L1595.5 1367.7L1585.4 1374.4L1575.4 1381.1L1562.0 1387.8L1552.0 1394.5L1545.3 1401.2L1547.0 1414.5L1535.3 1421.2L1521.9 1426.3L1511.8 1421.2L1501.8 1417.9L1488.4 1424.6L1475.1 1431.3L1461.7 1438.0L1451.6 1448.0L1438.3 1458.0L1428.2 1456.4L1411.5 1453.0L1394.8 1454.7L1378.1 1449.7L1361.3 1451.3L1344.6 1458.0L1327.9 1466.4L1311.2 1474.7L1294.4 1481.4L1277.7 1488.1L1261.0 1496.5L1244.3 1501.5L1227.6 1503.2L1210.8 1504.8L1194.1 1506.5L1177.4 1508.2L1160.7 1511.5L1143.9 1506.5L1127.2 1504.8L1113.8 1501.5L1107.2 1491.5L1100.5 1483.1L1088.8 1486.5L1077.1 1478.1L1080.4 1464.7L1073.7 1451.3L1062.0 1439.6L1070.4 1427.9L1075.4 1411.2L1073.7 1384.4L1070.4 1357.7L1067.0 1334.3L1058.7 1314.2L1055.3 1290.8L1050.3 1270.7L1040.3 1259.0L1026.9 1252.3L1010.2 1249.0L993.4 1254.0L980.1 1267.4L947.8 1270.1L940.0 1265.2L928.2 1259.3L916.5 1253.4L904.8 1249.5L893.0 1241.7L881.3 1232.9L869.5 1232.9L859.8 1234.8L854.9 1228.0L851.9 1218.2L846.1 1212.3L836.3 1202.6L826.5 1190.8L816.7 1181.0L805.0 1171.3L796.2 1157.6L789.3 1149.7L782.5 1141.9L786.4 1136.1L783.5 1122.4L776.6 1110.6Z"/></clipPath>
<g clip-path="url(#c_maui)">
<rect x="767" y="965" width="862" height="552" fill="#E8E7B4"/>
<path d="M777.6 1100.8C777.6 1095.6 777.0 1089.1 779.6 1085.2C782.2 1081.3 790.5 1082.3 793.3 1077.4C796.0 1072.5 793.3 1061.1 796.2 1055.9C799.1 1050.6 806.5 1050.0 810.9 1046.1C815.3 1042.2 818.7 1035.0 822.6 1032.4C826.5 1029.8 830.4 1030.4 834.3 1030.4C838.2 1030.4 842.2 1030.7 846.1 1032.4C850.0 1034.0 853.9 1039.2 857.8 1040.2C861.7 1041.2 866.3 1040.2 869.5 1038.2C872.8 1036.3 874.1 1031.7 877.4 1028.5C880.6 1025.2 885.2 1021.9 889.1 1018.7C893.0 1015.4 896.6 1010.4 900.8 1008.9C905.1 1007.4 910.3 1008.6 914.5 1009.9C918.8 1011.2 922.7 1014.3 926.3 1016.7C929.9 1019.2 933.1 1021.0 936.1 1024.6C939.0 1028.1 941.6 1033.7 943.9 1038.2C946.2 1042.8 947.8 1048.0 949.7 1051.9C951.7 1055.9 954.2 1058.1 955.6 1061.7C957.1 1065.3 958.6 1069.2 958.6 1073.5C958.6 1077.7 956.4 1081.9 955.6 1087.2C954.8 1092.4 954.0 1098.9 953.7 1104.8C953.3 1110.6 954.0 1117.8 953.7 1122.4C953.3 1126.9 953.0 1128.9 951.7 1132.1C950.4 1135.4 945.8 1138.7 945.8 1141.9C945.8 1145.2 948.1 1151.1 951.7 1151.7C955.3 1152.4 962.8 1147.1 967.4 1145.8C971.9 1144.5 975.5 1145.5 979.1 1143.9C982.7 1142.3 985.9 1135.7 988.9 1136.1C991.8 1136.4 992.8 1144.2 996.7 1145.8C1000.6 1147.5 1006.2 1146.2 1012.3 1145.8C1018.5 1145.5 1027.0 1144.5 1033.9 1143.9C1040.7 1143.2 1042.4 1142.3 1053.4 1141.9C1064.4 1141.6 1092.2 1116.8 1100.0 1141.9C1107.7 1167.0 1124.0 1267.4 1100.0 1292.6C1075.9 1317.7 989.5 1302.3 955.6 1292.6C921.8 1282.8 909.3 1245.3 896.9 1233.9C884.5 1222.5 885.8 1227.3 881.3 1224.1C876.7 1220.8 873.5 1218.2 869.5 1214.3C865.6 1210.4 861.4 1205.5 857.8 1200.6C854.2 1195.7 851.9 1189.5 848.0 1185.0C844.1 1180.4 839.2 1177.1 834.3 1173.2C829.4 1169.3 823.2 1165.7 818.7 1161.5C814.1 1157.2 810.2 1152.0 806.9 1147.8C803.7 1143.6 802.7 1138.7 799.1 1136.1C795.5 1133.4 788.7 1135.4 785.4 1132.1C782.2 1128.9 780.9 1121.7 779.6 1116.5C778.3 1111.3 777.6 1106.1 777.6 1100.8Z" fill="#EBE84E"/>
<path d="M1093.8 1083.4L1662.3 1033.3L1662.3 1551.7L1026.9 1551.7L1026.9 1247.3L1093.8 1247.3Z" fill="#EBE84E"/>
<path d="M960.0 1033.3C963.9 1015.4 977.3 1026.0 983.4 1033.3C989.5 1040.5 988.7 1060.9 996.8 1076.8C1004.9 1092.6 1023.3 1119.7 1031.9 1128.6C1040.5 1137.5 1040.5 1131.4 1048.6 1130.3C1056.7 1129.2 1070.1 1125.8 1080.4 1121.9C1090.7 1118.0 1099.9 1110.8 1110.5 1106.9C1121.1 1103.0 1135.6 1101.8 1143.9 1098.5C1152.3 1095.2 1154.5 1090.1 1160.7 1086.8C1166.8 1083.4 1175.7 1075.6 1180.7 1078.4C1185.8 1081.2 1188.5 1097.1 1190.8 1103.5C1193.0 1109.9 1191.3 1113.0 1194.1 1116.9C1196.9 1120.8 1203.6 1122.5 1207.5 1126.9C1211.4 1131.4 1215.9 1136.4 1217.5 1143.6C1219.2 1150.9 1219.2 1162.6 1217.5 1170.4C1215.9 1178.2 1209.7 1183.8 1207.5 1190.5C1205.3 1197.2 1205.3 1205.0 1204.1 1210.5C1203.0 1216.1 1199.1 1219.5 1200.8 1223.9C1202.5 1228.4 1209.7 1232.8 1214.2 1237.3C1218.6 1241.8 1223.1 1249.0 1227.6 1250.7C1232.0 1252.3 1235.4 1248.7 1240.9 1247.3C1246.5 1245.9 1254.3 1243.4 1261.0 1242.3C1267.7 1241.2 1277.2 1239.2 1281.1 1240.6C1285.0 1242.0 1285.5 1247.3 1284.4 1250.7C1283.3 1254.0 1279.4 1258.5 1274.4 1260.7C1269.4 1262.9 1259.9 1262.4 1254.3 1264.0C1248.7 1265.7 1245.4 1270.7 1240.9 1270.7C1236.5 1270.7 1232.0 1266.3 1227.6 1264.0C1223.1 1261.8 1219.8 1257.9 1214.2 1257.4C1208.6 1256.8 1199.1 1258.5 1194.1 1260.7C1189.1 1262.9 1186.3 1265.7 1184.1 1270.7C1181.9 1275.8 1182.4 1283.0 1180.7 1290.8C1179.1 1298.6 1176.3 1309.8 1174.0 1317.6C1171.8 1325.4 1171.3 1332.1 1167.4 1337.6C1163.5 1343.2 1155.7 1346.0 1150.6 1351.0C1145.6 1356.0 1140.6 1366.1 1137.3 1367.7C1133.9 1369.4 1132.2 1366.1 1130.6 1361.0C1128.9 1356.0 1131.1 1343.2 1127.2 1337.6C1123.3 1332.1 1113.8 1329.3 1107.2 1327.6C1100.5 1325.9 1092.1 1329.8 1087.1 1327.6C1082.1 1325.4 1079.3 1321.5 1077.1 1314.2C1074.8 1307.0 1074.8 1294.7 1073.7 1284.1C1072.6 1273.5 1072.6 1260.7 1070.4 1250.7C1068.1 1240.6 1060.9 1232.3 1060.3 1223.9C1059.8 1215.6 1063.1 1207.2 1067.0 1200.5C1070.9 1193.8 1080.4 1190.5 1083.7 1183.8C1087.1 1177.1 1086.5 1167.1 1087.1 1160.4C1087.6 1153.7 1091.5 1146.4 1087.1 1143.6C1082.6 1140.9 1068.1 1142.8 1060.3 1143.6C1052.5 1144.5 1049.2 1148.0 1040.3 1148.7C1031.3 1149.3 1014.4 1148.4 1006.8 1147.7C999.2 1146.9 997.8 1145.9 994.8 1144.0C991.8 1142.0 991.4 1136.0 988.8 1136.0C986.1 1136.0 983.9 1143.3 979.1 1144.0C974.3 1144.7 963.2 1158.8 960.0 1140.3C956.8 1121.9 956.1 1051.1 960.0 1033.3Z" fill="#E8E7B4"/>
<path d="M988.4 1220.6C990.4 1215.6 998.7 1216.7 1003.5 1217.2C1008.2 1217.8 1014.3 1220.0 1016.9 1223.9C1019.4 1227.8 1020.2 1236.2 1018.5 1240.6C1016.9 1245.1 1011.3 1249.6 1006.8 1250.7C1002.4 1251.8 994.8 1252.3 991.8 1247.3C988.7 1242.3 986.5 1225.6 988.4 1220.6Z" fill="#E8E7B4"/>
<path d="M1057.0 1434.6C1057.3 1425.7 1071.5 1414.0 1075.4 1411.2C1079.3 1408.4 1079.3 1412.3 1080.4 1417.9C1081.5 1423.5 1081.2 1436.3 1082.1 1444.6C1082.9 1453.0 1084.3 1460.3 1085.4 1468.1C1086.5 1475.9 1091.3 1488.7 1088.8 1491.5C1086.3 1494.3 1072.9 1489.2 1070.4 1484.8C1067.9 1480.3 1075.9 1473.1 1073.7 1464.7C1071.5 1456.4 1056.7 1443.5 1057.0 1434.6Z" fill="#E8E7B4"/>
<path d="M1132.2 1172.1C1133.6 1170.1 1138.7 1167.6 1142.3 1168.7C1145.9 1169.8 1151.8 1175.1 1154.0 1178.8C1156.2 1182.4 1157.3 1189.1 1155.7 1190.5C1154.0 1191.9 1147.6 1188.8 1143.9 1187.1C1140.3 1185.5 1135.9 1182.9 1133.9 1180.4C1132.0 1177.9 1130.8 1174.0 1132.2 1172.1Z" fill="#C8EAE6"/>
<path d="M895.0 1051.9C896.0 1049.3 900.2 1048.0 902.8 1048.0C905.4 1048.0 909.0 1050.0 910.6 1051.9C912.3 1053.9 913.6 1057.5 912.6 1059.8C911.6 1062.0 907.4 1065.0 904.8 1065.6C902.1 1066.3 898.6 1066.0 896.9 1063.7C895.3 1061.4 894.0 1054.5 895.0 1051.9Z" fill="#EDAC1E"/>
<path d="M893.0 1165.4C895.3 1163.8 901.2 1160.8 904.8 1161.5C908.3 1162.1 912.6 1166.4 914.5 1169.3C916.5 1172.2 914.5 1176.5 916.5 1179.1C918.5 1181.7 923.0 1182.7 926.3 1185.0C929.5 1187.2 933.1 1189.9 936.1 1192.8C939.0 1195.7 942.9 1200.0 943.9 1202.6C944.9 1205.2 944.5 1207.1 941.9 1208.4C939.3 1209.7 931.8 1208.8 928.2 1210.4C924.6 1212.0 922.4 1215.6 920.4 1218.2C918.5 1220.8 919.1 1225.1 916.5 1226.0C913.9 1227.0 908.3 1225.7 904.8 1224.1C901.2 1222.5 898.2 1219.2 895.0 1216.3C891.7 1213.3 888.1 1210.1 885.2 1206.5C882.3 1202.9 878.3 1198.3 877.4 1194.7C876.4 1191.2 877.7 1187.6 879.3 1185.0C881.0 1182.4 885.2 1181.4 887.2 1179.1C889.1 1176.8 890.1 1173.5 891.1 1171.3C892.0 1169.0 890.7 1167.0 893.0 1165.4Z" fill="#EDAC1E"/>
<path d="M988.9 1087.2C990.2 1085.4 997.0 1085.2 1000.6 1086.2C1004.2 1087.2 1008.4 1090.2 1010.4 1093.0C1012.3 1095.8 1013.7 1101.2 1012.3 1102.8C1011.0 1104.4 1005.8 1103.8 1002.6 1102.8C999.3 1101.8 995.1 1099.5 992.8 1096.9C990.5 1094.3 987.6 1088.9 988.9 1087.2Z" fill="#C8EAE6"/>
<path d="M1230.9 1103.5L1237.6 1090.1L1247.6 1080.1L1261.0 1072.7L1267.7 1073.4L1276.1 1081.8L1286.1 1083.4L1296.1 1081.8L1307.8 1083.4L1317.9 1088.5L1327.9 1093.5L1331.9 1105.2L1342.9 1111.9L1351.3 1123.6L1364.7 1131.9L1373.0 1142.0L1384.7 1152.0L1398.1 1160.4L1411.5 1168.7L1424.9 1167.1L1434.9 1177.1L1444.9 1180.4L1448.3 1192.1L1458.3 1202.2L1468.4 1213.9L1481.7 1214.5L1495.1 1212.2L1508.5 1218.9L1521.9 1228.9L1535.3 1233.9L1552.0 1237.3L1568.7 1242.3L1585.4 1249.0L1598.8 1255.7L1608.8 1269.1L1618.9 1279.1L1622.9 1290.8L1619.5 1307.5L1618.2 1327.6L1614.8 1344.3L1605.5 1357.7L1595.5 1367.7L1585.4 1372.7L1578.7 1379.4L1582.1 1384.4L1573.7 1382.8L1562.0 1387.8L1555.3 1397.8L1541.9 1396.2L1536.9 1402.8L1545.3 1407.9L1545.3 1417.9L1535.3 1419.6L1525.2 1422.9L1515.2 1424.6L1508.5 1414.5L1498.5 1411.2L1488.4 1401.2L1481.7 1387.8L1475.1 1371.1L1465.0 1357.7L1451.6 1344.3L1438.3 1330.9L1428.2 1320.9L1414.8 1317.6L1398.1 1319.2L1381.4 1322.6L1364.7 1327.6L1354.6 1334.3L1344.6 1341.0L1331.2 1339.3L1317.9 1334.3L1311.2 1325.9L1316.2 1317.6L1331.2 1315.9L1327.9 1300.8L1321.2 1284.1L1317.9 1264.0L1314.5 1244.0L1307.8 1223.9L1297.8 1203.8L1287.8 1183.8L1277.7 1173.7L1261.0 1160.4L1254.3 1150.3L1247.6 1137.0L1244.3 1123.6L1234.2 1116.9Z" fill="#EDAC1E"/>
<path d="M1240.9 1327.6C1243.7 1319.8 1248.7 1315.3 1254.3 1310.9C1259.9 1306.4 1267.7 1304.2 1274.4 1300.8C1281.1 1297.5 1288.3 1294.1 1294.4 1290.8C1300.6 1287.5 1306.7 1280.8 1311.2 1280.8C1315.6 1280.8 1319.0 1285.8 1321.2 1290.8C1323.4 1295.8 1325.7 1305.9 1324.5 1310.9C1323.4 1315.9 1316.7 1317.0 1314.5 1320.9C1312.3 1324.8 1308.9 1330.4 1311.2 1334.3C1313.4 1338.2 1321.8 1343.2 1327.9 1344.3C1334.0 1345.4 1341.3 1341.0 1348.0 1341.0C1354.6 1341.0 1364.1 1341.5 1368.0 1344.3C1371.9 1347.1 1372.5 1353.8 1371.4 1357.7C1370.3 1361.6 1363.6 1363.3 1361.3 1367.7C1359.1 1372.2 1359.7 1379.4 1358.0 1384.4C1356.3 1389.5 1354.6 1393.4 1351.3 1397.8C1348.0 1402.3 1339.0 1407.3 1337.9 1411.2C1336.8 1415.1 1344.1 1418.2 1344.6 1421.2C1345.2 1424.3 1344.6 1428.5 1341.3 1429.6C1337.9 1430.7 1327.9 1429.9 1324.5 1427.9C1321.2 1426.0 1324.5 1419.0 1321.2 1417.9C1317.9 1416.8 1308.9 1419.0 1304.5 1421.2C1300.0 1423.5 1297.2 1426.8 1294.4 1431.3C1291.7 1435.7 1290.0 1442.4 1287.8 1448.0C1285.5 1453.6 1283.3 1459.1 1281.1 1464.7C1278.8 1470.3 1276.6 1477.0 1274.4 1481.4C1272.2 1485.9 1271.0 1487.6 1267.7 1491.5C1264.3 1495.4 1261.0 1500.4 1254.3 1504.8C1247.6 1509.3 1237.6 1516.0 1227.6 1518.2C1217.5 1520.5 1203.0 1521.6 1194.1 1518.2C1185.2 1514.9 1179.6 1503.7 1174.0 1498.2C1168.5 1492.6 1165.1 1488.7 1160.7 1484.8C1156.2 1480.9 1152.9 1477.5 1147.3 1474.7C1141.7 1472.0 1132.8 1472.0 1127.2 1468.1C1121.6 1464.2 1116.6 1458.0 1113.8 1451.3C1111.1 1444.6 1110.8 1435.2 1110.5 1427.9C1110.2 1420.7 1109.4 1412.9 1112.2 1407.9C1115.0 1402.8 1121.4 1400.1 1127.2 1397.8C1133.1 1395.6 1141.2 1394.8 1147.3 1394.5C1153.4 1394.2 1159.6 1393.9 1164.0 1396.2C1168.5 1398.4 1171.3 1403.7 1174.0 1407.9C1176.8 1412.0 1180.7 1416.8 1180.7 1421.2C1180.7 1425.7 1172.9 1431.8 1174.0 1434.6C1175.2 1437.4 1181.9 1438.5 1187.4 1438.0C1193.0 1437.4 1201.9 1434.6 1207.5 1431.3C1213.1 1427.9 1217.5 1422.9 1220.9 1417.9C1224.2 1412.9 1224.8 1406.7 1227.6 1401.2C1230.3 1395.6 1235.9 1391.7 1237.6 1384.4C1239.3 1377.2 1237.0 1367.2 1237.6 1357.7C1238.1 1348.2 1238.1 1335.4 1240.9 1327.6Z" fill="#EDAC1E"/>
<path d="M1441.6 1427.9C1444.1 1424.6 1449.4 1424.0 1455.0 1421.2C1460.6 1418.5 1469.5 1414.0 1475.1 1411.2C1480.6 1408.4 1484.0 1404.5 1488.4 1404.5C1492.9 1404.5 1498.5 1409.0 1501.8 1411.2C1505.2 1413.4 1510.7 1414.5 1508.5 1417.9C1506.3 1421.2 1494.0 1427.9 1488.4 1431.3C1482.9 1434.6 1479.5 1435.7 1475.1 1438.0C1470.6 1440.2 1465.6 1441.9 1461.7 1444.6C1457.8 1447.4 1455.0 1451.6 1451.6 1454.7C1448.3 1457.7 1443.6 1465.3 1441.6 1463.0C1439.7 1460.8 1439.9 1447.2 1439.9 1441.3C1439.9 1435.5 1439.1 1431.3 1441.6 1427.9Z" fill="#EDAC1E"/>
<path d="M1444.9 1334.3C1444.4 1331.5 1456.7 1338.2 1461.7 1341.0C1466.7 1343.8 1470.0 1348.8 1475.1 1351.0C1480.1 1353.2 1486.2 1352.1 1491.8 1354.3C1497.3 1356.6 1502.4 1361.0 1508.5 1364.4C1514.6 1367.7 1521.9 1373.3 1528.6 1374.4C1535.3 1375.5 1541.9 1373.9 1548.6 1371.1C1555.3 1368.3 1562.0 1361.0 1568.7 1357.7C1575.4 1354.3 1581.5 1352.7 1588.8 1351.0C1596.0 1349.3 1605.5 1348.8 1612.2 1347.7C1618.9 1346.5 1630.0 1340.4 1628.9 1344.3C1627.8 1348.2 1613.8 1363.8 1605.5 1371.1C1597.1 1378.3 1588.8 1380.0 1578.7 1387.8C1568.7 1395.6 1555.9 1410.6 1545.3 1417.9C1534.7 1425.1 1523.0 1432.4 1515.2 1431.3C1507.4 1430.2 1504.0 1418.5 1498.5 1411.2C1492.9 1404.0 1487.3 1396.7 1481.7 1387.8C1476.2 1378.9 1471.1 1366.6 1465.0 1357.7C1458.9 1348.8 1445.5 1337.1 1444.9 1334.3Z" fill="#EBE84E"/>
<path d="M1339.6 1145.3C1341.3 1142.5 1349.9 1134.4 1354.6 1133.6C1359.4 1132.8 1366.9 1137.5 1368.0 1140.3C1369.1 1143.1 1365.2 1148.7 1361.3 1150.3C1357.4 1152.0 1348.2 1151.2 1344.6 1150.3C1341.0 1149.5 1337.9 1148.1 1339.6 1145.3Z" fill="#EBE84E"/>
<path d="M1374.7 1417.9C1376.9 1415.1 1386.4 1411.8 1391.4 1411.2C1396.5 1410.6 1402.6 1412.3 1404.8 1414.5C1407.0 1416.8 1407.0 1421.8 1404.8 1424.6C1402.6 1427.4 1395.9 1430.7 1391.4 1431.3C1387.0 1431.8 1380.8 1430.2 1378.1 1427.9C1375.3 1425.7 1372.5 1420.7 1374.7 1417.9Z" fill="#E4E4D4"/>
<clipPath id="h_maui_0"><path d="M887.2 1061.7L890.1 1051.9L896.9 1045.1L904.8 1043.1L912.6 1048.0L918.5 1057.8L920.4 1069.5L924.3 1079.3L928.2 1089.1L932.1 1096.9L930.2 1108.7L926.3 1120.4L926.3 1130.2L924.3 1140.0L926.3 1149.7L924.3 1159.5L920.4 1167.4L918.5 1177.1L912.6 1185.0L904.8 1192.8L896.9 1194.7L891.1 1192.8L888.1 1183.0L887.2 1171.3L888.1 1159.5L891.1 1153.7L885.2 1149.7L885.2 1140.0L887.2 1130.2L888.1 1124.3L896.9 1116.5L904.8 1112.6L902.8 1104.8L898.9 1096.9L895.0 1093.0L887.2 1091.1L885.2 1081.3L887.2 1071.5Z"/></clipPath>
<g clip-path="url(#h_maui_0)"><use href="#hatchlines" transform="translate(-2.4,0)"/></g>
<clipPath id="h_maui_1"><path d="M1230.9 1103.5L1237.6 1090.1L1247.6 1080.1L1261.0 1072.7L1267.7 1073.4L1276.1 1081.8L1286.1 1083.4L1296.1 1081.8L1307.8 1083.4L1317.9 1088.5L1327.9 1093.5L1331.9 1105.2L1342.9 1111.9L1351.3 1123.6L1364.7 1131.9L1373.0 1142.0L1384.7 1152.0L1398.1 1160.4L1411.5 1168.7L1424.9 1167.1L1434.9 1177.1L1444.9 1180.4L1448.3 1192.1L1458.3 1202.2L1468.4 1213.9L1481.7 1214.5L1495.1 1212.2L1508.5 1218.9L1521.9 1228.9L1535.3 1233.9L1552.0 1237.3L1568.7 1242.3L1585.4 1249.0L1598.8 1255.7L1608.8 1269.1L1618.9 1279.1L1622.9 1290.8L1619.5 1307.5L1618.2 1327.6L1614.8 1344.3L1605.5 1357.7L1595.5 1367.7L1585.4 1372.7L1578.7 1379.4L1582.1 1384.4L1573.7 1382.8L1562.0 1387.8L1555.3 1397.8L1541.9 1396.2L1536.9 1402.8L1545.3 1407.9L1545.3 1417.9L1535.3 1419.6L1525.2 1422.9L1515.2 1424.6L1508.5 1414.5L1498.5 1411.2L1488.4 1401.2L1481.7 1387.8L1475.1 1371.1L1465.0 1357.7L1451.6 1344.3L1438.3 1330.9L1428.2 1320.9L1414.8 1317.6L1398.1 1319.2L1381.4 1322.6L1364.7 1327.6L1354.6 1334.3L1344.6 1341.0L1331.2 1339.3L1317.9 1334.3L1311.2 1325.9L1316.2 1317.6L1331.2 1315.9L1327.9 1300.8L1321.2 1284.1L1317.9 1264.0L1314.5 1244.0L1307.8 1223.9L1297.8 1203.8L1287.8 1183.8L1277.7 1173.7L1261.0 1160.4L1254.3 1150.3L1247.6 1137.0L1244.3 1123.6L1234.2 1116.9Z"/></clipPath>
<g clip-path="url(#h_maui_1)"><use href="#hatchlines" transform="translate(-2.4,0)"/></g>
<rect x="767" y="965" width="862" height="552" fill="#fff" filter="url(#relief2)" style="mix-blend-mode:multiply"/>
</g>
<path d="M1046.8 1130.3L1046.8 1131.6L1046.2 1132.8L1045.1 1134.0L1043.5 1135.0L1041.6 1135.8L1039.6 1136.4L1037.4 1136.6L1035.4 1136.5L1033.6 1136.0L1032.2 1135.3L1031.2 1134.3L1030.7 1133.2L1030.7 1131.9L1031.3 1130.7L1032.5 1129.5L1034.0 1128.5L1035.9 1127.7L1037.9 1127.1L1040.1 1126.9L1042.1 1127.0L1043.9 1127.5L1045.4 1128.2L1046.4 1129.2Z" fill="#fff" stroke="#000" stroke-width="2" stroke-linejoin="round"/>
<circle cx="1008" cy="1444.5" r="2.5" fill="#000"/>
<path d="M771.7 1100.8L774.7 1087.2L778.6 1069.5L785.4 1053.9L792.3 1038.2L798.1 1022.6L806.0 1008.9L807.9 1000.1L818.7 1001.1L824.6 996.2L838.2 992.3L840.2 978.6L853.9 979.6L865.6 978.6L877.4 977.6L883.2 969.8L900.8 970.8L904.8 979.6L908.7 985.4L922.4 986.4L930.2 992.3L940.0 995.2L944.9 1006.9L955.6 1005.0L956.6 1016.7L963.4 1024.6L975.2 1025.5L977.1 1033.4L974.2 1044.1L981.0 1055.9L988.9 1062.7L994.7 1069.5L997.7 1081.3L1006.5 1087.2L1013.3 1095.0L1016.3 1106.7L1022.1 1114.5L1029.0 1122.4L1032.9 1130.2L1049.5 1131.2L1065.2 1128.2L1080.8 1120.4L1092.6 1114.5L1110.5 1113.5L1127.2 1110.2L1143.9 1105.2L1160.7 1093.5L1177.4 1083.4L1194.1 1080.1L1207.5 1073.4L1219.2 1070.7L1227.6 1075.1L1244.3 1076.8L1257.7 1073.4L1264.3 1070.1L1274.4 1080.1L1284.4 1081.8L1294.4 1080.1L1307.8 1081.8L1317.9 1086.8L1327.9 1091.8L1332.9 1103.5L1344.6 1111.9L1351.3 1121.9L1364.7 1130.3L1373.0 1140.3L1384.7 1150.3L1398.1 1158.7L1411.5 1167.1L1424.9 1165.4L1434.9 1175.4L1444.9 1178.8L1448.3 1190.5L1458.3 1200.5L1468.4 1212.2L1481.7 1213.9L1495.1 1210.5L1508.5 1217.2L1521.9 1227.3L1535.3 1232.3L1552.0 1235.6L1568.7 1240.6L1585.4 1247.3L1598.8 1254.0L1608.8 1267.4L1618.9 1277.4L1623.9 1290.8L1620.5 1307.5L1618.9 1327.6L1615.5 1344.3L1605.5 1357.7L1595.5 1367.7L1585.4 1374.4L1575.4 1381.1L1562.0 1387.8L1552.0 1394.5L1545.3 1401.2L1547.0 1414.5L1535.3 1421.2L1521.9 1426.3L1511.8 1421.2L1501.8 1417.9L1488.4 1424.6L1475.1 1431.3L1461.7 1438.0L1451.6 1448.0L1438.3 1458.0L1428.2 1456.4L1411.5 1453.0L1394.8 1454.7L1378.1 1449.7L1361.3 1451.3L1344.6 1458.0L1327.9 1466.4L1311.2 1474.7L1294.4 1481.4L1277.7 1488.1L1261.0 1496.5L1244.3 1501.5L1227.6 1503.2L1210.8 1504.8L1194.1 1506.5L1177.4 1508.2L1160.7 1511.5L1143.9 1506.5L1127.2 1504.8L1113.8 1501.5L1107.2 1491.5L1100.5 1483.1L1088.8 1486.5L1077.1 1478.1L1080.4 1464.7L1073.7 1451.3L1062.0 1439.6L1070.4 1427.9L1075.4 1411.2L1073.7 1384.4L1070.4 1357.7L1067.0 1334.3L1058.7 1314.2L1055.3 1290.8L1050.3 1270.7L1040.3 1259.0L1026.9 1252.3L1010.2 1249.0L993.4 1254.0L980.1 1267.4L947.8 1270.1L940.0 1265.2L928.2 1259.3L916.5 1253.4L904.8 1249.5L893.0 1241.7L881.3 1232.9L869.5 1232.9L859.8 1234.8L854.9 1228.0L851.9 1218.2L846.1 1212.3L836.3 1202.6L826.5 1190.8L816.7 1181.0L805.0 1171.3L796.2 1157.6L789.3 1149.7L782.5 1141.9L786.4 1136.1L783.5 1122.4L776.6 1110.6Z" fill="none" stroke="#000" stroke-width="2.2" stroke-linejoin="round"/>
<path d="M887.2 1061.7L890.1 1051.9L896.9 1045.1L904.8 1043.1L912.6 1048.0L918.5 1057.8L920.4 1069.5L924.3 1079.3L928.2 1089.1L932.1 1096.9L930.2 1108.7L926.3 1120.4L926.3 1130.2L924.3 1140.0L926.3 1149.7L924.3 1159.5L920.4 1167.4L918.5 1177.1L912.6 1185.0L904.8 1192.8L896.9 1194.7L891.1 1192.8L888.1 1183.0L887.2 1171.3L888.1 1159.5L891.1 1153.7L885.2 1149.7L885.2 1140.0L887.2 1130.2L888.1 1124.3L896.9 1116.5L904.8 1112.6L902.8 1104.8L898.9 1096.9L895.0 1093.0L887.2 1091.1L885.2 1081.3L887.2 1071.5Z" fill="none" stroke="#000" stroke-width="7.5" stroke-linejoin="round"/>
<path d="M1230.9 1103.5L1237.6 1090.1L1247.6 1080.1L1261.0 1072.7L1267.7 1073.4L1276.1 1081.8L1286.1 1083.4L1296.1 1081.8L1307.8 1083.4L1317.9 1088.5L1327.9 1093.5L1331.9 1105.2L1342.9 1111.9L1351.3 1123.6L1364.7 1131.9L1373.0 1142.0L1384.7 1152.0L1398.1 1160.4L1411.5 1168.7L1424.9 1167.1L1434.9 1177.1L1444.9 1180.4L1448.3 1192.1L1458.3 1202.2L1468.4 1213.9L1481.7 1214.5L1495.1 1212.2L1508.5 1218.9L1521.9 1228.9L1535.3 1233.9L1552.0 1237.3L1568.7 1242.3L1585.4 1249.0L1598.8 1255.7L1608.8 1269.1L1618.9 1279.1L1622.9 1290.8L1619.5 1307.5L1618.2 1327.6L1614.8 1344.3L1605.5 1357.7L1595.5 1367.7L1585.4 1372.7L1578.7 1379.4L1582.1 1384.4L1573.7 1382.8L1562.0 1387.8L1555.3 1397.8L1541.9 1396.2L1536.9 1402.8L1545.3 1407.9L1545.3 1417.9L1535.3 1419.6L1525.2 1422.9L1515.2 1424.6L1508.5 1414.5L1498.5 1411.2L1488.4 1401.2L1481.7 1387.8L1475.1 1371.1L1465.0 1357.7L1451.6 1344.3L1438.3 1330.9L1428.2 1320.9L1414.8 1317.6L1398.1 1319.2L1381.4 1322.6L1364.7 1327.6L1354.6 1334.3L1344.6 1341.0L1331.2 1339.3L1317.9 1334.3L1311.2 1325.9L1316.2 1317.6L1331.2 1315.9L1327.9 1300.8L1321.2 1284.1L1317.9 1264.0L1314.5 1244.0L1307.8 1223.9L1297.8 1203.8L1287.8 1183.8L1277.7 1173.7L1261.0 1160.4L1254.3 1150.3L1247.6 1137.0L1244.3 1123.6L1234.2 1116.9Z" fill="none" stroke="#000" stroke-width="7.5" stroke-linejoin="round"/>
<path d="M881.7 1121.4L881.5 1122.9L880.9 1124.3L880.0 1125.5L878.7 1126.5L877.3 1127.1L875.8 1127.3L874.3 1127.1L872.9 1126.5L871.7 1125.5L870.7 1124.3L870.1 1122.9L869.9 1121.4L870.1 1119.9L870.7 1118.5L871.7 1117.2L872.9 1116.3L874.3 1115.7L875.8 1115.5L877.3 1115.7L878.7 1116.3L880.0 1117.2L880.9 1118.5L881.5 1119.9Z" fill="#000"/>
<clipPath id="c_kahoolawe"><path d="M767.9 1571.3L770.2 1563.2L776.0 1556.2L783.0 1550.4L788.8 1544.6L794.6 1539.9L796.9 1535.3L805.1 1532.9L814.4 1531.8L817.8 1528.9L826.0 1527.1L832.9 1526.0L836.4 1521.3L844.6 1516.7L852.7 1512.0L858.5 1507.4L865.5 1503.9L872.5 1500.4L877.1 1494.6L882.9 1492.3L888.7 1487.6L896.8 1484.7L905.0 1481.2L912.0 1478.3L920.1 1477.8L929.4 1479.5L934.0 1483.6L942.2 1488.8L946.8 1493.4L949.1 1498.1L954.9 1503.9L959.6 1509.7L960.2 1515.5L962.5 1520.2L954.9 1521.9L949.1 1524.8L950.3 1530.6L949.1 1536.4L950.3 1539.9L945.6 1542.2L943.3 1546.9L944.5 1550.4L942.2 1553.9L942.7 1558.5L946.8 1560.8L953.8 1557.3L958.4 1559.7L966.6 1559.7L968.3 1566.6L966.6 1571.3L960.8 1574.8L958.4 1579.4L956.1 1584.1L950.3 1587.0L948.0 1582.9L942.2 1580.6L937.5 1582.9L931.7 1582.3L923.6 1584.1L917.8 1586.4L910.8 1588.7L906.1 1591.6L900.3 1588.7L895.7 1582.9L892.2 1575.9L889.3 1572.5L886.4 1578.3L882.9 1586.4L877.1 1584.1L872.5 1582.3L865.5 1584.1L856.2 1587.6L848.1 1591.0L841.1 1595.7L835.3 1591.0L832.9 1582.9L828.3 1586.4L823.7 1592.2L817.8 1595.7L812.0 1599.8L807.4 1598.0L801.6 1599.8L798.1 1596.8L791.1 1595.7L788.2 1591.0L791.1 1587.6L787.6 1581.7L778.3 1578.3L772.5 1574.8Z"/></clipPath>
<g clip-path="url(#c_kahoolawe)">
<rect x="763" y="1473" width="210" height="132" fill="#E8E7B4"/>
<path d="M751.6 1614.3L751.6 1486.5L872.5 1486.5L872.5 1500.4L871.3 1512.0L874.8 1521.3L873.6 1528.3L877.1 1536.4L886.4 1539.9L888.7 1546.9L885.2 1556.2L885.2 1563.2L889.9 1567.8L896.8 1569.0L901.5 1573.6L902.7 1581.7L905.0 1589.9L905.0 1614.3Z" fill="#C8EAE6"/>
<rect x="763" y="1473" width="210" height="132" fill="#fff" filter="url(#relief2)" style="mix-blend-mode:multiply"/>
</g>
<path d="M767.9 1571.3L770.2 1563.2L776.0 1556.2L783.0 1550.4L788.8 1544.6L794.6 1539.9L796.9 1535.3L805.1 1532.9L814.4 1531.8L817.8 1528.9L826.0 1527.1L832.9 1526.0L836.4 1521.3L844.6 1516.7L852.7 1512.0L858.5 1507.4L865.5 1503.9L872.5 1500.4L877.1 1494.6L882.9 1492.3L888.7 1487.6L896.8 1484.7L905.0 1481.2L912.0 1478.3L920.1 1477.8L929.4 1479.5L934.0 1483.6L942.2 1488.8L946.8 1493.4L949.1 1498.1L954.9 1503.9L959.6 1509.7L960.2 1515.5L962.5 1520.2L954.9 1521.9L949.1 1524.8L950.3 1530.6L949.1 1536.4L950.3 1539.9L945.6 1542.2L943.3 1546.9L944.5 1550.4L942.2 1553.9L942.7 1558.5L946.8 1560.8L953.8 1557.3L958.4 1559.7L966.6 1559.7L968.3 1566.6L966.6 1571.3L960.8 1574.8L958.4 1579.4L956.1 1584.1L950.3 1587.0L948.0 1582.9L942.2 1580.6L937.5 1582.9L931.7 1582.3L923.6 1584.1L917.8 1586.4L910.8 1588.7L906.1 1591.6L900.3 1588.7L895.7 1582.9L892.2 1575.9L889.3 1572.5L886.4 1578.3L882.9 1586.4L877.1 1584.1L872.5 1582.3L865.5 1584.1L856.2 1587.6L848.1 1591.0L841.1 1595.7L835.3 1591.0L832.9 1582.9L828.3 1586.4L823.7 1592.2L817.8 1595.7L812.0 1599.8L807.4 1598.0L801.6 1599.8L798.1 1596.8L791.1 1595.7L788.2 1591.0L791.1 1587.6L787.6 1581.7L778.3 1578.3L772.5 1574.8Z" fill="none" stroke="#000" stroke-width="2.2" stroke-linejoin="round"/>
<clipPath id="c_bi"><path d="M1880.9 549.2L1892.9 535.5L1899.8 521.7L1906.7 501.0L1917.1 494.1L1920.5 476.9L1934.3 463.1L1948.1 449.3L1961.8 435.5L1975.6 430.4L1986.0 425.2L1992.9 404.5L1992.9 390.7L1998.0 370.1L1992.9 359.7L1986.0 352.9L1975.6 335.6L1965.3 321.8L1956.7 308.1L1948.1 294.3L1937.7 280.5L1927.4 266.7L1918.8 249.5L1913.6 225.4L1908.4 197.8L1905.0 173.7L1903.3 156.5L1906.7 128.9L1915.3 108.2L1923.9 94.5L1937.7 84.1L1955.0 77.9L1975.6 77.2L1989.4 82.4L2003.2 87.6L2023.9 94.5L2044.5 103.1L2060.0 104.8L2072.1 111.7L2082.4 120.3L2096.2 128.9L2108.3 135.8L2106.5 146.1L2116.9 156.5L2130.7 166.8L2147.9 177.1L2161.7 184.0L2178.9 190.9L2196.1 201.3L2209.9 211.6L2220.2 221.9L2237.5 228.8L2254.7 235.7L2268.5 249.5L2285.7 252.9L2302.9 246.0L2320.2 244.3L2337.4 249.5L2354.6 256.4L2371.8 263.3L2389.1 266.7L2406.3 273.6L2423.5 277.1L2440.7 283.9L2458.0 287.4L2475.2 297.7L2500.0 306.3L2511.1 315.6L2537.0 326.7L2563.0 337.8L2585.2 350.7L2611.1 363.7L2637.0 374.8L2659.3 387.8L2681.5 400.7L2703.7 415.6L2725.9 430.4L2740.7 445.2L2755.6 452.6L2770.4 463.7L2788.9 478.5L2807.4 493.3L2822.2 510.0L2833.3 526.7L2844.4 541.5L2859.3 552.6L2870.4 563.7L2875.9 578.5L2874.1 593.3L2868.5 611.9L2864.8 626.7L2870.4 645.2L2868.5 663.7L2864.8 682.2L2866.7 700.7L2868.5 715.6L2877.8 723.0L2892.6 721.1L2900.0 713.7L2896.3 702.6L2885.2 700.7L2898.1 700.7L2911.1 711.9L2922.2 710.0L2937.0 706.3L2948.1 710.0L2963.0 708.1L2972.2 710.0L2979.6 723.0L2987.0 737.8L2994.4 752.6L3000.0 767.4L2996.3 785.9L2994.4 804.4L2998.1 818.5L3011.1 833.3L3029.6 840.7L3038.9 844.4L3037.0 863.0L3051.9 874.1L3066.7 888.9L3081.5 900.0L3096.3 911.1L3114.8 922.2L3133.3 927.8L3151.9 933.3L3170.4 944.4L3188.9 948.1L3201.9 963.0L3201.9 974.1L3192.6 985.2L3192.6 996.3L3188.9 1014.8L3170.4 1033.3L3151.9 1048.1L3133.3 1063.0L3122.2 1074.1L3107.4 1081.5L3096.3 1092.6L3077.8 1103.7L3059.3 1114.8L3048.1 1129.6L3037.0 1140.7L3022.2 1151.9L3003.7 1163.0L2992.6 1174.1L2974.1 1181.5L2955.6 1188.9L2937.0 1198.1L2918.5 1205.6L2900.0 1214.8L2881.5 1222.2L2863.0 1233.3L2844.4 1244.4L2825.9 1253.7L2807.4 1261.1L2788.9 1266.7L2770.4 1268.5L2748.1 1274.1L2725.9 1275.9L2707.4 1272.2L2688.9 1263.0L2666.7 1261.1L2644.4 1266.7L2625.9 1270.4L2611.1 1281.5L2596.3 1292.6L2581.5 1303.7L2570.4 1314.8L2563.0 1333.3L2548.1 1344.4L2529.6 1351.9L2511.1 1355.6L2496.3 1366.7L2481.5 1374.1L2470.4 1387.0L2454.6 1390.1L2437.4 1400.4L2420.2 1407.3L2402.9 1414.2L2385.7 1421.1L2371.9 1428.0L2365.0 1441.8L2351.2 1452.1L2337.5 1462.4L2327.1 1476.2L2321.8 1482.6L2316.6 1490.3L2317.9 1503.2L2319.2 1516.1L2316.6 1526.5L2311.5 1536.8L2306.3 1547.1L2296.0 1553.6L2288.2 1560.0L2284.4 1570.4L2277.9 1580.7L2271.5 1591.0L2270.2 1603.9L2266.3 1611.7L2262.4 1619.4L2250.8 1622.0L2248.2 1616.8L2241.8 1619.4L2237.9 1624.6L2234.0 1637.5L2226.3 1647.8L2218.5 1655.6L2208.2 1659.4L2203.0 1668.5L2195.3 1674.9L2187.5 1678.8L2179.8 1684.0L2172.1 1687.8L2165.6 1686.6L2164.3 1676.2L2163.0 1665.9L2159.1 1658.2L2154.0 1650.4L2143.6 1645.2L2135.9 1637.5L2125.6 1629.8L2115.2 1623.3L2102.3 1618.1L2089.4 1614.3L2076.5 1609.1L2063.6 1598.8L2052.0 1588.4L2041.2 1584.7L2030.8 1576.1L2017.1 1569.2L1999.8 1565.8L1979.2 1558.9L1958.5 1557.2L1944.7 1548.6L1930.9 1538.2L1924.0 1521.0L1913.7 1507.2L1903.4 1493.4L1894.7 1479.7L1887.9 1459.0L1884.4 1438.3L1886.1 1417.6L1889.6 1400.4L1894.7 1383.2L1898.2 1362.5L1899.9 1341.8L1905.1 1321.2L1905.1 1300.5L1908.5 1279.8L1913.7 1259.2L1917.1 1238.5L1918.9 1217.8L1922.3 1197.1L1922.3 1176.5L1917.1 1155.8L1910.2 1135.1L1903.4 1117.9L1894.7 1100.7L1893.0 1080.0L1892.9 1087.1L1884.3 1073.4L1882.6 1056.1L1875.7 1042.3L1882.6 1032.0L1879.2 1018.2L1865.4 1011.3L1851.6 1011.3L1851.6 1001.0L1848.1 987.2L1837.8 970.0L1841.3 956.2L1837.8 942.4L1827.5 925.2L1827.5 908.0L1824.0 887.3L1817.1 870.1L1810.2 856.3L1803.4 839.1L1793.0 825.3L1775.8 818.4L1758.6 815.0L1750.0 801.2L1755.1 783.9L1748.2 773.6L1737.9 759.8L1731.0 746.0L1724.1 732.3L1715.5 718.5L1724.1 701.3L1727.6 684.0L1731.0 666.8L1741.3 653.0L1755.1 642.7L1768.9 628.9L1779.2 622.0L1789.6 608.2L1799.9 597.9L1810.2 584.1L1820.6 575.5L1837.8 568.6L1855.0 573.8L1872.3 570.3L1879.2 560.0Z"/></clipPath>
<g clip-path="url(#c_bi)">
<rect x="1711" y="72" width="1496" height="1621" fill="#EBE84E"/>
<path d="M1998.0 370.1C1999.5 370.1 2002.9 372.9 2006.6 370.1C2010.4 367.2 2016.4 358.6 2020.4 352.9C2024.4 347.1 2029.6 343.1 2030.7 335.6C2031.9 328.2 2029.0 316.7 2027.3 308.1C2025.6 299.4 2022.7 292.0 2020.4 283.9C2018.1 275.9 2017.8 267.3 2013.5 259.8C2009.2 252.4 1997.4 248.6 1994.6 239.2C1991.7 229.7 1990.8 208.1 1996.3 203.0C2001.8 197.8 2016.4 207.3 2027.3 208.1C2038.2 209.0 2050.3 208.7 2061.8 208.1C2073.2 207.6 2085.9 207.6 2096.2 204.7C2106.5 201.8 2115.2 192.6 2123.8 190.9C2132.4 189.2 2141.6 190.9 2147.9 194.4C2154.2 197.8 2158.2 205.3 2161.7 211.6C2165.1 217.9 2165.1 225.4 2168.6 232.3C2172.0 239.2 2177.2 246.6 2182.3 252.9C2187.5 259.3 2192.1 265.0 2199.6 270.2C2207.0 275.3 2218.5 278.8 2227.1 283.9C2235.7 289.1 2242.6 296.3 2251.2 301.2C2259.9 306.1 2274.2 311.2 2278.8 313.2L2320.2 232.3L2113.4 60.0L1872.3 60.0L1872.3 370.1Z" fill="#E8E7B4"/>
<path d="M2681.5 400.7C2679.0 401.4 2669.1 401.4 2666.7 404.4C2664.2 407.5 2664.8 415.6 2666.7 419.3C2668.5 423.0 2673.5 423.6 2677.8 426.7C2682.1 429.8 2688.9 433.5 2692.6 437.8C2696.3 442.1 2700.0 447.0 2700.0 452.6C2700.0 458.1 2696.9 467.4 2692.6 471.1C2688.3 474.8 2680.9 473.0 2674.1 474.8C2667.3 476.7 2657.4 477.9 2651.9 482.2C2646.3 486.5 2645.7 495.8 2640.7 500.7C2635.8 505.7 2629.0 508.8 2622.2 511.9C2615.4 514.9 2606.8 517.1 2600.0 519.3C2593.2 521.4 2587.0 526.0 2581.5 524.8C2575.9 523.6 2571.0 517.7 2566.7 511.9C2562.3 506.0 2557.4 497.0 2555.6 489.6C2553.7 482.2 2557.4 474.2 2555.6 467.4C2553.7 460.6 2549.4 453.8 2544.4 448.9C2539.5 444.0 2532.7 439.6 2525.9 437.8C2519.1 435.9 2512.3 436.9 2503.7 437.8C2495.1 438.7 2484.0 440.9 2474.1 443.3C2464.2 445.8 2451.7 448.1 2444.4 452.6C2437.2 457.0 2435.9 467.5 2430.7 470.0C2425.6 472.5 2419.1 469.6 2413.3 467.8C2407.5 465.9 2400.9 461.7 2395.9 458.9C2390.9 456.0 2386.2 454.3 2383.3 450.7C2380.5 447.2 2380.7 442.8 2378.9 437.8C2377.1 432.7 2374.8 426.5 2372.6 420.4C2370.4 414.3 2369.9 407.5 2365.9 401.1C2362.0 394.7 2356.4 388.0 2348.9 381.9C2341.4 375.7 2330.4 371.6 2321.1 364.4C2311.8 357.3 2302.7 347.5 2293.0 338.9C2283.3 330.3 2268.0 317.3 2263.0 313.0L2263.0 241.5L2696.3 241.5Z" fill="#E8E7B4"/>
<path d="M2820.4 515.6C2819.4 518.6 2814.5 527.3 2814.8 534.1C2815.1 540.9 2821.0 547.7 2822.2 556.3C2823.5 564.9 2822.8 576.0 2822.2 585.9C2821.6 595.8 2819.8 605.7 2818.5 615.6C2817.3 625.4 2816.7 636.5 2814.8 645.2C2813.0 653.8 2806.8 661.2 2807.4 667.4C2808.0 673.6 2817.3 675.4 2818.5 682.2C2819.8 689.0 2817.9 705.7 2814.8 708.1C2811.7 710.6 2804.9 697.7 2800.0 697.0C2795.1 696.4 2790.1 702.0 2785.2 704.4C2780.2 706.9 2774.4 712.5 2770.4 711.9C2766.4 711.2 2763.6 705.1 2761.1 700.7C2758.6 696.4 2758.3 690.9 2755.6 685.9C2752.8 681.0 2748.1 674.8 2744.4 671.1C2740.7 667.4 2738.3 666.8 2733.3 663.7C2728.4 660.6 2721.0 655.7 2714.8 652.6C2708.6 649.5 2701.9 647.7 2696.3 645.2C2690.7 642.7 2687.7 640.9 2681.5 637.8C2675.3 634.7 2666.7 629.4 2659.3 626.7C2651.9 623.9 2644.4 621.1 2637.0 621.1C2629.6 621.1 2621.0 624.5 2614.8 626.7C2608.6 628.8 2604.9 634.7 2600.0 634.1C2595.1 633.5 2588.9 623.6 2585.2 623.0C2581.5 622.3 2581.5 627.9 2577.8 630.4C2574.1 632.8 2567.9 635.9 2563.0 637.8C2558.0 639.6 2553.7 639.0 2548.1 641.5C2542.6 644.0 2535.8 648.3 2529.6 652.6C2523.5 656.9 2515.7 661.9 2511.1 667.4C2506.5 673.0 2503.1 679.1 2501.9 685.9C2500.6 692.7 2502.2 698.9 2503.7 708.1C2505.2 717.4 2508.6 732.2 2511.1 741.5C2513.6 750.7 2516.0 756.3 2518.5 763.7C2521.0 771.1 2522.8 778.5 2525.9 785.9C2529.0 793.3 2533.3 801.4 2537.0 808.1C2540.7 814.9 2545.1 820.2 2548.1 826.7C2551.2 833.1 2553.1 836.5 2555.6 847.0C2558.0 857.5 2561.7 882.5 2563.0 889.6L2974.1 889.6L3014.8 837.8L3066.7 778.5L3066.7 667.4L2918.5 519.3Z" fill="#E8E7B4"/>
<path d="M2529.6 781.5C2529.6 784.6 2526.5 793.2 2529.6 800.0C2532.7 806.8 2543.2 813.0 2548.1 822.2C2553.1 831.5 2556.8 843.8 2559.3 855.6C2561.7 867.3 2563.6 881.5 2563.0 892.6C2562.3 903.7 2559.9 913.6 2555.6 922.2C2551.2 930.9 2544.4 937.7 2537.0 944.4C2529.6 951.2 2518.5 954.9 2511.1 963.0C2503.7 971.0 2498.8 982.7 2492.6 992.6C2486.4 1002.5 2480.2 1011.7 2474.1 1022.2C2467.9 1032.7 2461.7 1044.4 2455.6 1055.6C2449.4 1066.7 2443.8 1078.4 2437.0 1088.9C2430.2 1099.4 2420.1 1108.6 2414.8 1118.5C2409.6 1128.4 2405.6 1138.3 2405.6 1148.1C2405.6 1158.0 2409.6 1170.4 2414.8 1177.8C2420.1 1185.2 2430.2 1187.7 2437.0 1192.6C2443.8 1197.5 2449.4 1201.9 2455.6 1207.4C2461.7 1213.0 2467.3 1219.8 2474.1 1225.9C2480.9 1232.1 2488.3 1240.1 2496.3 1244.4C2504.3 1248.8 2515.4 1247.5 2522.2 1251.9C2529.0 1256.2 2532.7 1266.0 2537.0 1270.4C2541.4 1274.7 2543.2 1280.2 2548.1 1277.8C2553.1 1275.3 2561.7 1261.7 2566.7 1255.6C2571.6 1249.4 2572.2 1245.1 2577.8 1240.7C2583.3 1236.4 2591.4 1233.3 2600.0 1229.6C2608.6 1225.9 2619.8 1221.0 2629.6 1218.5C2639.5 1216.0 2649.4 1214.8 2659.3 1214.8C2669.1 1214.8 2680.9 1219.1 2688.9 1218.5C2696.9 1217.9 2700.0 1214.2 2707.4 1211.1C2714.8 1208.0 2726.5 1205.6 2733.3 1200.0C2740.1 1194.4 2742.0 1184.0 2748.1 1177.8C2754.3 1171.6 2763.0 1167.3 2770.4 1163.0C2777.8 1158.6 2784.6 1154.9 2792.6 1151.9C2800.6 1148.8 2811.1 1148.1 2818.5 1144.4C2825.9 1140.7 2830.2 1134.0 2837.0 1129.6C2843.8 1125.3 2850.6 1122.8 2859.3 1118.5C2867.9 1114.2 2880.2 1108.0 2888.9 1103.7C2897.5 1099.4 2904.3 1096.3 2911.1 1092.6C2917.9 1088.9 2924.7 1086.4 2929.6 1081.5C2934.6 1076.5 2937.0 1069.1 2940.7 1063.0C2944.4 1056.8 2948.1 1050.0 2951.9 1044.4C2955.6 1038.9 2961.7 1035.8 2963.0 1029.6C2964.2 1023.5 2960.5 1014.8 2959.3 1007.4C2958.0 1000.0 2954.9 992.6 2955.6 985.2C2956.2 977.8 2961.1 970.4 2963.0 963.0C2964.8 955.6 2970.4 946.3 2966.7 940.7C2963.0 935.2 2946.3 933.3 2940.7 929.6C2935.2 925.9 2930.9 922.2 2933.3 918.5C2935.8 914.8 2946.9 913.0 2955.6 907.4C2964.2 901.9 2977.8 893.2 2985.2 885.2C2992.6 877.2 2995.1 866.7 3000.0 859.3C3004.9 851.9 3012.3 843.8 3014.8 840.7L3066.7 837.0L3029.6 781.5Z" fill="#E8E7B4"/>
<path d="M2606.2 1264.3C2601.6 1262.3 2586.7 1269.8 2578.6 1272.9C2570.6 1276.1 2564.9 1279.8 2558.0 1283.3C2551.1 1286.7 2541.9 1289.6 2537.3 1293.6C2532.7 1297.6 2528.1 1305.7 2530.4 1307.4C2532.7 1309.1 2543.6 1305.7 2551.1 1303.9C2558.5 1302.2 2566.0 1300.2 2575.2 1297.1C2584.4 1293.9 2601.0 1290.5 2606.2 1285.0C2611.4 1279.5 2610.8 1266.3 2606.2 1264.3Z" fill="#E8E7B4"/>
<path d="M2966.7 1027.8C2967.9 1025.3 2985.2 1021.3 2992.6 1022.2C3000.0 1023.1 3008.6 1029.9 3011.1 1033.3C3013.6 1036.7 3011.7 1042.0 3007.4 1042.6C3003.1 1043.2 2992.0 1039.5 2985.2 1037.0C2978.4 1034.6 2965.4 1030.2 2966.7 1027.8Z" fill="#E8E7B4"/>
<path d="M2368.5 1428.0C2366.8 1425.1 2362.2 1415.3 2358.1 1410.7C2354.1 1406.2 2350.1 1401.6 2344.4 1400.4C2338.6 1399.3 2329.4 1401.0 2323.7 1403.9C2317.9 1406.7 2313.9 1412.5 2309.9 1417.6C2305.9 1422.8 2303.0 1429.1 2299.6 1434.9C2296.1 1440.6 2292.7 1446.4 2289.2 1452.1C2285.8 1457.8 2282.3 1463.6 2278.9 1469.3C2275.5 1475.1 2272.0 1481.4 2268.6 1486.5C2265.1 1491.7 2261.7 1495.7 2258.2 1500.3C2254.8 1504.9 2251.9 1510.1 2247.9 1514.1C2243.9 1518.1 2239.9 1520.4 2234.1 1524.4C2228.4 1528.5 2220.3 1534.8 2213.4 1538.2C2206.5 1541.7 2199.1 1542.8 2192.8 1545.1C2186.4 1547.4 2180.1 1549.1 2175.5 1552.0C2170.9 1554.9 2168.1 1557.7 2165.2 1562.3C2162.3 1566.9 2160.0 1573.8 2158.3 1579.6C2156.6 1585.3 2156.6 1591.6 2154.9 1596.8C2153.1 1602.0 2150.8 1605.7 2148.0 1610.6C2145.1 1615.5 2140.5 1616.9 2137.6 1626.1C2134.8 1635.3 2131.9 1659.1 2130.7 1665.7L2385.7 1665.7L2385.7 1428.0Z" fill="#E8E7B4"/>
<path d="M2267.6 1480.0C2266.3 1482.6 2262.4 1490.8 2259.8 1495.5C2257.3 1500.2 2255.5 1504.5 2252.1 1508.4C2248.6 1512.3 2242.6 1515.3 2239.2 1518.7C2235.7 1522.2 2234.4 1525.2 2231.4 1529.1C2228.4 1532.9 2224.1 1539.2 2221.1 1542.0C2218.1 1544.8 2216.4 1545.6 2213.4 1545.8C2210.3 1546.1 2206.9 1543.5 2203.0 1543.3C2199.2 1543.0 2194.4 1543.7 2190.1 1544.5C2185.8 1545.4 2180.7 1546.7 2177.2 1548.4C2173.8 1550.1 2171.6 1552.1 2169.5 1554.9C2167.3 1557.7 2166.0 1560.9 2164.3 1565.2C2162.6 1569.5 2160.9 1575.5 2159.1 1580.7C2157.4 1585.9 2155.7 1591.5 2154.0 1596.2C2152.3 1600.9 2151.0 1605.2 2148.8 1609.1C2146.7 1613.0 2143.6 1616.4 2141.1 1619.4C2138.5 1622.4 2135.0 1623.7 2133.3 1627.2C2131.6 1630.6 2131.2 1637.9 2130.7 1640.1L2130.7 1712.4L2337.3 1712.4L2337.3 1480.0Z" fill="#E8E7B4"/>
<path d="M2130.7 128.9C2126.6 131.8 2112.3 142.7 2106.5 146.1C2100.8 149.6 2100.8 147.9 2096.2 149.6C2091.6 151.3 2085.9 154.7 2079.0 156.5C2072.1 158.2 2063.5 159.1 2054.9 159.9C2046.3 160.8 2037.1 161.1 2027.3 161.6C2017.5 162.2 2006.1 162.5 1996.3 163.4C1986.5 164.2 1976.2 164.5 1968.7 166.8C1961.3 169.1 1956.1 172.0 1951.5 177.1C1946.9 182.3 1943.5 189.8 1941.2 197.8C1938.9 205.9 1941.2 217.9 1937.7 225.4C1934.3 232.8 1931.4 235.7 1920.5 242.6C1909.6 249.5 1880.3 262.7 1872.3 266.7L1872.3 60.0L2147.9 60.0Z" fill="#C8EAE6"/>
<path d="M1941.2 280.5C1944.6 275.9 1955.0 273.6 1961.8 273.6C1968.7 273.6 1977.3 275.9 1982.5 280.5C1987.7 285.1 1991.1 293.1 1992.9 301.2C1994.6 309.2 1994.0 319.5 1992.9 328.7C1991.7 337.9 1990.0 351.7 1986.0 356.3C1981.9 360.9 1976.2 365.5 1968.7 356.3C1961.3 347.1 1945.8 313.8 1941.2 301.2C1936.6 288.5 1937.7 285.1 1941.2 280.5Z" fill="#C8EAE6"/>
<path d="M2285.7 252.9C2288.0 256.4 2293.7 268.4 2299.5 273.6C2305.2 278.8 2313.8 279.4 2320.2 283.9C2326.5 288.5 2332.8 296.0 2337.4 301.2C2342.0 306.3 2342.0 311.5 2347.7 315.0C2353.5 318.4 2363.8 321.8 2371.8 321.8C2379.9 321.8 2387.3 317.2 2396.0 315.0C2404.6 312.7 2416.0 308.1 2423.5 308.1C2431.0 308.1 2435.0 312.1 2440.7 315.0C2446.5 317.8 2451.7 323.6 2458.0 325.3C2464.3 327.0 2473.5 327.0 2478.6 325.3C2483.8 323.6 2486.7 319.0 2489.0 315.0C2491.3 310.9 2491.8 303.5 2492.4 301.2L2492.4 232.3L2285.7 215.0Z" fill="#C8EAE6"/>
<path d="M1989.4 80.7C1992.6 77.8 2003.8 78.7 2010.1 80.7C2016.4 82.7 2023.0 88.1 2027.3 92.7C2031.6 97.3 2036.5 104.8 2035.9 108.2C2035.3 111.7 2028.2 111.4 2023.9 113.4C2019.6 115.4 2014.7 120.6 2010.1 120.3C2005.5 120.0 1999.5 115.4 1996.3 111.7C1993.1 107.9 1992.3 103.1 1991.1 97.9C1990.0 92.7 1986.2 83.5 1989.4 80.7Z" fill="#8AE8D6"/>
<path d="M2400.0 260.0C2416.0 257.5 2484.0 288.4 2496.3 297.0C2508.6 305.7 2480.2 307.5 2474.1 311.9C2467.9 316.2 2464.2 322.3 2459.3 323.0C2454.3 323.6 2450.6 318.0 2444.4 315.6C2438.3 313.1 2429.6 308.8 2422.2 308.1C2414.8 307.5 2403.7 319.9 2400.0 311.9C2396.3 303.8 2384.0 262.5 2400.0 260.0Z" fill="#C8EAE6"/>
<path d="M2674.1 1051.9C2674.7 1045.1 2679.6 1035.2 2685.2 1029.6C2690.7 1024.1 2700.6 1022.2 2707.4 1018.5C2714.2 1014.8 2719.1 1010.2 2725.9 1007.4C2732.7 1004.6 2743.2 1001.2 2748.1 1001.9C2753.1 1002.5 2755.6 1006.5 2755.6 1011.1C2755.6 1015.7 2750.0 1022.8 2748.1 1029.6C2746.3 1036.4 2746.9 1045.7 2744.4 1051.9C2742.0 1058.0 2738.3 1063.0 2733.3 1066.7C2728.4 1070.4 2721.0 1072.2 2714.8 1074.1C2708.6 1075.9 2701.9 1078.4 2696.3 1077.8C2690.7 1077.2 2685.2 1074.7 2681.5 1070.4C2677.8 1066.0 2673.5 1058.6 2674.1 1051.9Z" fill="#C8EAE6"/>
<path d="M2629.6 940.7C2630.2 938.6 2639.5 936.4 2644.4 937.0C2649.4 937.7 2657.4 942.0 2659.3 944.4C2661.1 946.9 2658.6 950.9 2655.6 951.9C2652.5 952.8 2645.1 951.9 2640.7 950.0C2636.4 948.1 2629.0 942.9 2629.6 940.7Z" fill="#C8EAE6"/>
<path d="M1941.2 430.4C1946.9 430.4 1967.0 429.8 1975.6 430.4C1984.2 430.9 1987.1 433.0 1992.9 433.8C1998.6 434.7 2004.9 434.1 2010.1 435.5C2015.2 437.0 2020.4 438.4 2023.9 442.4C2027.3 446.4 2027.3 454.5 2030.7 459.7C2034.2 464.8 2039.4 471.4 2044.5 473.4C2049.7 475.4 2056.6 472.9 2061.8 471.7C2066.9 470.6 2070.9 465.7 2075.5 466.5C2080.1 467.4 2083.0 474.9 2089.3 476.9C2095.6 478.9 2107.1 479.8 2113.4 478.6C2119.8 477.5 2124.3 473.7 2127.2 470.0C2130.1 466.3 2131.2 462.5 2130.7 456.2C2130.1 449.9 2126.6 438.4 2123.8 432.1C2120.9 425.8 2118.0 423.5 2113.4 418.3C2108.8 413.1 2100.8 406.3 2096.2 401.1C2091.6 395.9 2087.0 392.5 2085.9 387.3C2084.7 382.1 2088.2 376.4 2089.3 370.1C2090.5 363.8 2091.0 355.7 2092.8 349.4C2094.5 343.1 2096.8 337.3 2099.7 332.2C2102.5 327.0 2105.4 321.3 2110.0 318.4C2114.6 315.5 2120.9 314.4 2127.2 315.0C2133.5 315.5 2139.9 320.7 2147.9 321.8C2155.9 323.0 2167.4 320.1 2175.5 321.8C2183.5 323.6 2190.4 328.2 2196.1 332.2C2201.9 336.2 2205.9 341.9 2209.9 346.0C2213.9 350.0 2215.6 355.1 2220.2 356.3C2224.8 357.4 2232.3 353.4 2237.5 352.9C2242.6 352.3 2246.7 350.0 2251.2 352.9C2255.8 355.7 2260.4 364.3 2265.0 370.1C2269.6 375.8 2275.1 381.0 2278.8 387.3C2282.5 393.6 2286.3 401.1 2287.4 408.0C2288.6 414.9 2286.6 423.5 2285.7 428.6C2284.8 433.8 2284.0 434.4 2282.3 439.0C2280.5 443.6 2278.2 450.5 2275.4 456.2C2272.5 462.0 2266.8 467.7 2265.0 473.4C2263.3 479.2 2262.7 484.9 2265.0 490.7C2267.3 496.4 2274.2 502.7 2278.8 507.9C2283.4 513.1 2288.0 517.1 2292.6 521.7C2297.2 526.3 2302.9 530.3 2306.4 535.5C2309.8 540.6 2308.1 549.2 2313.3 552.7C2318.4 556.1 2330.5 553.8 2337.4 556.1C2344.3 558.4 2348.3 564.2 2354.6 566.5C2360.9 568.8 2368.4 568.2 2375.3 569.9C2382.2 571.6 2389.1 575.1 2396.0 576.8C2402.8 578.5 2411.7 577.4 2416.6 580.2C2421.5 583.1 2423.8 588.9 2425.2 594.0C2426.7 599.2 2425.8 605.5 2425.2 611.2C2424.7 617.0 2424.4 622.7 2421.8 628.5C2419.2 634.2 2411.7 642.8 2409.7 645.7L1768.9 645.7L1768.9 542.3L1941.2 430.4Z" fill="#EDAC1E"/>
<path d="M2409.7 639.2C2408.6 642.7 2404.0 653.0 2402.8 659.9C2401.7 666.8 2400.5 674.3 2402.8 680.6C2405.1 686.9 2412.0 693.2 2416.6 697.8C2421.2 702.4 2425.8 704.1 2430.4 708.1C2435.0 712.2 2439.6 717.3 2444.2 721.9C2448.8 726.5 2453.4 731.1 2458.0 735.7C2462.6 740.3 2467.7 744.3 2471.7 749.5C2475.8 754.7 2479.2 760.4 2482.1 766.7C2485.0 773.0 2487.3 780.5 2489.0 787.4C2490.7 794.3 2491.0 801.2 2492.4 808.1C2493.9 815.0 2496.3 820.7 2497.6 828.7C2498.9 836.8 2499.6 847.1 2500.0 856.3C2500.4 865.5 2500.7 875.8 2500.0 883.9C2499.3 891.9 2497.7 898.2 2495.9 904.5C2494.0 910.8 2491.8 916.6 2489.0 921.8C2486.1 926.9 2482.7 930.9 2478.6 935.5C2474.6 940.1 2469.5 944.7 2464.9 949.3C2460.3 953.9 2453.9 957.9 2451.1 963.1C2448.2 968.3 2449.9 975.2 2447.6 980.3C2445.3 985.5 2441.3 990.1 2437.3 994.1C2433.3 998.1 2427.5 1001.0 2423.5 1004.4C2419.5 1007.9 2416.6 1010.8 2413.2 1014.8C2409.7 1018.8 2406.3 1024.0 2402.8 1028.6C2399.4 1033.2 2396.0 1037.7 2392.5 1042.3C2389.1 1046.9 2386.2 1051.5 2382.2 1056.1C2378.2 1060.7 2372.4 1065.3 2368.4 1069.9C2364.4 1074.5 2361.5 1079.7 2358.1 1083.7C2354.6 1087.7 2350.6 1090.3 2347.7 1094.0C2344.8 1097.8 2342.0 1097.5 2340.8 1106.1C2339.7 1114.7 2340.8 1139.1 2340.8 1145.7L1665.5 1145.7L1665.5 639.2Z" fill="#EDAC1E"/>
<path d="M2351.2 1062.8C2352.4 1067.4 2359.3 1081.7 2358.1 1090.3C2357.0 1098.9 2347.2 1104.7 2344.4 1114.5C2341.5 1124.2 2340.3 1137.4 2340.9 1148.9C2341.5 1160.4 2344.9 1173.0 2347.8 1183.4C2350.7 1193.7 2353.0 1202.9 2358.1 1210.9C2363.3 1219.0 2372.5 1224.7 2378.8 1231.6C2385.1 1238.5 2392.0 1245.4 2396.0 1252.3C2400.1 1259.2 2402.4 1265.5 2402.9 1272.9C2403.5 1280.4 2401.2 1290.2 2399.5 1297.1C2397.8 1303.9 2396.0 1309.1 2392.6 1314.3C2389.1 1319.4 2384.6 1324.6 2378.8 1328.1C2373.1 1331.5 2365.0 1333.2 2358.1 1335.0C2351.2 1336.7 2344.4 1337.2 2337.5 1338.4C2330.6 1339.5 2323.7 1340.1 2316.8 1341.8C2309.9 1343.6 2301.9 1345.9 2296.1 1348.7C2290.4 1351.6 2287.5 1355.1 2282.3 1359.1C2277.2 1363.1 2270.9 1368.3 2265.1 1372.9C2259.4 1377.4 2253.1 1382.6 2247.9 1386.6C2242.7 1390.7 2238.7 1392.9 2234.1 1397.0C2229.5 1401.0 2223.8 1406.2 2220.3 1410.7C2216.9 1415.3 2217.5 1420.5 2213.4 1424.5C2209.4 1428.6 2200.8 1430.3 2196.2 1434.9C2191.6 1439.5 2189.3 1447.5 2185.9 1452.1C2182.4 1456.7 2179.0 1458.4 2175.5 1462.4C2172.1 1466.4 2168.1 1471.0 2165.2 1476.2C2162.3 1481.4 2161.2 1487.7 2158.3 1493.4C2155.4 1499.2 2151.4 1505.5 2148.0 1510.7C2144.5 1515.8 2141.7 1520.4 2137.6 1524.4C2133.6 1528.5 2127.3 1530.8 2123.9 1534.8C2120.4 1538.8 2119.8 1544.0 2117.0 1548.6C2114.1 1553.2 2109.5 1557.2 2106.6 1562.3C2103.8 1567.5 2102.0 1574.4 2099.7 1579.6C2097.4 1584.7 2095.1 1588.8 2092.9 1593.4C2090.6 1597.9 2088.3 1603.1 2086.0 1607.1C2083.7 1611.2 2081.4 1612.3 2079.1 1617.5C2076.8 1622.6 2073.3 1634.7 2072.2 1638.1L1800.0 1638.1L1800.0 1062.8Z" fill="#EDAC1E"/>
<path d="M2141.0 452.8C2145.6 452.8 2151.9 463.7 2158.2 466.5C2164.5 469.4 2174.9 467.1 2178.9 470.0C2182.9 472.9 2182.3 478.0 2182.3 483.8C2182.3 489.5 2182.3 499.3 2178.9 504.4C2175.5 509.6 2167.4 513.6 2161.7 514.8C2155.9 515.9 2150.2 510.8 2144.4 511.3C2138.7 511.9 2131.2 519.4 2127.2 518.2C2123.2 517.1 2121.8 510.2 2120.3 504.4C2118.9 498.7 2116.9 490.1 2118.6 483.8C2120.3 477.5 2126.9 471.7 2130.7 466.5C2134.4 461.4 2136.4 452.8 2141.0 452.8Z" fill="#EBE84E"/>
<path d="M1734.5 628.9C1740.2 628.9 1758.6 629.2 1768.9 628.9C1779.2 628.6 1786.1 628.0 1796.5 627.2C1806.8 626.3 1820.0 624.3 1830.9 623.7C1841.8 623.2 1852.2 624.0 1861.9 623.7C1871.7 623.5 1882.0 622.9 1889.5 622.0C1897.0 621.2 1901.0 620.3 1906.7 618.6C1912.5 616.8 1918.2 614.0 1923.9 611.7C1929.7 609.4 1934.9 606.5 1941.2 604.8C1947.5 603.1 1955.0 603.4 1961.8 601.3C1968.7 599.3 1976.2 594.5 1982.5 592.7C1988.8 591.0 1995.1 590.1 1999.7 591.0C2004.3 591.9 2004.9 595.6 2010.1 597.9C2015.2 600.2 2023.9 602.5 2030.7 604.8C2037.6 607.1 2045.7 609.4 2051.4 611.7C2057.2 614.0 2061.8 615.1 2065.2 618.6C2068.6 622.0 2069.8 627.8 2072.1 632.4C2074.4 636.9 2075.5 641.5 2079.0 646.1C2082.4 650.7 2088.2 655.3 2092.8 659.9C2097.4 664.5 2101.4 670.2 2106.5 673.7C2111.7 677.1 2118.0 679.2 2123.8 680.6C2129.5 682.0 2134.7 683.5 2141.0 682.3C2147.3 681.2 2154.8 674.6 2161.7 673.7C2168.6 672.8 2175.5 676.6 2182.3 677.1C2189.2 677.7 2196.1 677.4 2203.0 677.1C2209.9 676.9 2216.8 674.8 2223.7 675.4C2230.6 676.0 2239.2 676.9 2244.4 680.6C2249.5 684.3 2251.2 693.2 2254.7 697.8C2258.1 702.4 2260.4 705.3 2265.0 708.1C2269.6 711.0 2277.7 712.2 2282.3 715.0C2286.9 717.9 2287.4 722.5 2292.6 725.4C2297.8 728.2 2306.9 728.8 2313.3 732.3C2319.6 735.7 2324.7 741.5 2330.5 746.0C2336.2 750.6 2342.5 755.8 2347.7 759.8C2352.9 763.8 2358.1 766.1 2361.5 770.2C2364.9 774.2 2367.2 777.6 2368.4 783.9C2369.5 790.3 2368.1 800.0 2368.4 808.1C2368.7 816.1 2369.5 824.7 2370.1 832.2C2370.7 839.6 2372.1 846.0 2371.8 852.9C2371.5 859.7 2369.5 867.2 2368.4 873.5C2367.2 879.8 2366.1 885.6 2364.9 890.7C2363.8 895.9 2364.9 901.1 2361.5 904.5C2358.1 908.0 2348.9 908.0 2344.3 911.4C2339.7 914.9 2336.2 920.0 2333.9 925.2C2331.6 930.4 2332.2 936.7 2330.5 942.4C2328.8 948.2 2326.5 955.1 2323.6 959.7C2320.7 964.2 2317.3 967.1 2313.3 970.0C2309.2 972.9 2304.1 974.0 2299.5 976.9C2294.9 979.8 2290.9 984.6 2285.7 987.2C2280.5 989.8 2274.2 990.7 2268.5 992.4C2262.7 994.1 2256.4 995.5 2251.2 997.6C2246.1 999.6 2242.6 1002.7 2237.5 1004.4C2232.3 1006.2 2226.0 1006.7 2220.2 1007.9C2214.5 1009.0 2207.6 1008.5 2203.0 1011.3C2198.4 1014.2 2195.0 1019.9 2192.7 1025.1C2190.4 1030.3 2189.8 1036.6 2189.2 1042.3C2188.7 1048.1 2189.8 1053.8 2189.2 1059.6C2188.7 1065.3 2188.1 1071.6 2185.8 1076.8C2183.5 1082.0 2178.9 1086.6 2175.5 1090.6C2172.0 1094.6 2167.4 1098.3 2165.1 1100.9C2162.8 1103.5 2164.5 1098.6 2161.7 1106.1C2158.8 1113.5 2150.2 1139.1 2147.9 1145.7L1665.5 1145.7L1665.5 628.9Z" fill="#EE4720"/>
<path d="M2179.0 1045.5C2179.0 1051.3 2180.1 1072.0 2179.0 1080.0C2177.8 1088.0 2175.5 1090.3 2172.1 1093.8C2168.6 1097.2 2161.2 1095.5 2158.3 1100.7C2155.4 1105.8 2154.9 1116.7 2154.9 1124.8C2154.9 1132.8 2159.5 1141.4 2158.3 1148.9C2157.2 1156.4 2150.3 1162.1 2148.0 1169.6C2145.7 1177.0 2146.8 1186.2 2144.5 1193.7C2142.2 1201.2 2137.6 1208.6 2134.2 1214.4C2130.7 1220.1 2129.0 1224.1 2123.9 1228.1C2118.7 1232.2 2108.9 1235.0 2103.2 1238.5C2097.4 1241.9 2095.1 1244.8 2089.4 1248.8C2083.7 1252.8 2075.6 1258.0 2068.7 1262.6C2061.8 1267.2 2055.0 1272.4 2048.1 1276.4C2041.2 1280.4 2033.1 1282.7 2027.4 1286.7C2021.6 1290.7 2018.8 1299.9 2013.6 1300.5C2008.4 1301.1 2002.1 1291.3 1996.4 1290.2C1990.6 1289.0 1985.5 1292.5 1979.2 1293.6C1972.8 1294.8 1965.4 1297.1 1958.5 1297.1C1951.6 1297.1 1943.0 1295.9 1937.8 1293.6C1932.6 1291.3 1930.6 1286.7 1927.5 1283.3C1924.3 1279.8 1928.6 1274.7 1918.9 1272.9C1909.1 1271.2 1877.2 1272.9 1868.9 1272.9L1800.0 1252.3L1800.0 1045.5Z" fill="#EE4720"/>
<path d="M1896.5 1390.1C1899.3 1388.4 1908.0 1382.6 1913.7 1379.7C1919.4 1376.9 1925.2 1374.6 1930.9 1372.9C1936.7 1371.1 1941.8 1369.7 1948.1 1369.4C1954.5 1369.1 1961.9 1369.4 1968.8 1371.1C1975.7 1372.9 1983.2 1376.0 1989.5 1379.7C1995.8 1383.5 2001.6 1388.9 2006.7 1393.5C2011.9 1398.1 2016.8 1401.6 2020.5 1407.3C2024.2 1413.0 2027.7 1420.5 2029.1 1428.0C2030.5 1435.4 2030.0 1444.6 2029.1 1452.1C2028.3 1459.6 2026.5 1466.4 2023.9 1472.8C2021.4 1479.1 2018.2 1485.4 2013.6 1490.0C2009.0 1494.6 2002.1 1496.9 1996.4 1500.3C1990.6 1503.8 1985.5 1507.8 1979.2 1510.7C1972.8 1513.5 1965.4 1515.5 1958.5 1517.6C1951.6 1519.6 1943.6 1521.6 1937.8 1522.7C1932.1 1523.9 1929.8 1523.6 1924.0 1524.4C1918.3 1525.3 1906.8 1527.3 1903.4 1527.9L1834.5 1527.9L1834.5 1390.1Z" fill="#EE4720"/>
<path d="M2022.1 773.6C2023.9 767.9 2027.0 758.7 2030.7 756.4C2034.5 754.1 2039.9 757.5 2044.5 759.8C2049.1 762.1 2054.9 766.1 2058.3 770.2C2061.8 774.2 2061.8 779.9 2065.2 783.9C2068.6 788.0 2075.0 790.3 2079.0 794.3C2083.0 798.3 2086.4 802.9 2089.3 808.1C2092.2 813.2 2093.9 819.5 2096.2 825.3C2098.5 831.0 2100.8 836.8 2103.1 842.5C2105.4 848.3 2108.3 853.4 2110.0 859.7C2111.7 866.1 2112.3 874.1 2113.4 880.4C2114.6 886.7 2116.9 891.9 2116.9 897.6C2116.9 903.4 2115.2 909.1 2113.4 914.9C2111.7 920.6 2108.3 926.4 2106.5 932.1C2104.8 937.8 2106.5 945.9 2103.1 949.3C2099.7 952.8 2091.0 951.0 2085.9 952.8C2080.7 954.5 2076.7 957.9 2072.1 959.7C2067.5 961.4 2062.9 963.1 2058.3 963.1C2053.7 963.1 2049.1 961.4 2044.5 959.7C2039.9 957.9 2036.5 953.9 2030.7 952.8C2025.0 951.6 2016.4 955.1 2010.1 952.8C2003.8 950.5 1996.9 943.6 1992.9 939.0C1988.8 934.4 1986.5 930.9 1986.0 925.2C1985.4 919.5 1987.7 910.8 1989.4 904.5C1991.1 898.2 1994.0 893.0 1996.3 887.3C1998.6 881.6 2000.9 876.4 2003.2 870.1C2005.5 863.8 2008.6 856.3 2010.1 849.4C2011.5 842.5 2010.7 835.6 2011.8 828.7C2012.9 821.8 2015.5 814.4 2017.0 808.1C2018.4 801.7 2019.6 796.6 2020.4 790.8C2021.3 785.1 2020.4 779.4 2022.1 773.6Z" fill="#EDAC1E"/>
<path d="M1892.9 1073.4C1894.1 1069.3 1899.8 1062.4 1903.3 1059.6C1906.7 1056.7 1911.6 1055.0 1913.6 1056.1C1915.6 1057.3 1916.5 1063.0 1915.3 1066.5C1914.2 1069.9 1909.9 1073.9 1906.7 1076.8C1903.6 1079.7 1898.7 1084.3 1896.4 1083.7C1894.1 1083.1 1891.8 1077.4 1892.9 1073.4Z" fill="#EDAC1E"/>
<path d="M1820.6 787.4C1823.7 779.9 1829.2 774.8 1834.4 770.2C1839.5 765.6 1845.3 761.0 1851.6 759.8C1857.9 758.7 1865.4 761.6 1872.3 763.3C1879.2 765.0 1886.0 767.3 1892.9 770.2C1899.8 773.0 1907.3 775.9 1913.6 780.5C1919.9 785.1 1926.2 791.4 1930.8 797.7C1935.4 804.0 1938.9 810.9 1941.2 818.4C1943.5 825.9 1944.6 834.5 1944.6 842.5C1944.6 850.6 1942.3 859.2 1941.2 866.6C1940.0 874.1 1940.0 880.4 1937.7 887.3C1935.4 894.2 1930.8 901.7 1927.4 908.0C1923.9 914.3 1921.1 919.5 1917.1 925.2C1913.0 930.9 1908.4 938.4 1903.3 942.4C1898.1 946.4 1891.8 949.3 1886.0 949.3C1880.3 949.3 1873.4 946.4 1868.8 942.4C1864.2 938.4 1861.9 931.5 1858.5 925.2C1855.0 918.9 1851.6 911.4 1848.1 904.5C1844.7 897.6 1841.3 890.7 1837.8 883.9C1834.4 877.0 1830.6 870.7 1827.5 863.2C1824.3 855.7 1820.9 847.1 1818.9 839.1C1816.9 831.0 1815.1 823.6 1815.4 815.0C1815.7 806.3 1817.4 794.9 1820.6 787.4Z" fill="#BE2222"/>
<path d="M1849.9 839.1C1850.4 834.8 1857.0 828.7 1861.9 825.3C1866.8 821.8 1873.4 818.4 1879.2 818.4C1884.9 818.4 1892.7 821.8 1896.4 825.3C1900.1 828.7 1902.1 834.5 1901.6 839.1C1901.0 843.7 1897.2 850.0 1892.9 852.9C1888.6 855.7 1881.5 856.6 1875.7 856.3C1870.0 856.0 1862.8 854.0 1858.5 851.1C1854.2 848.3 1849.3 843.4 1849.9 839.1Z" fill="#7E2424"/>
<clipPath id="h_bi_0"><path d="M1879.2 566.5L1892.9 549.2L1906.7 538.9L1923.9 532.0L1934.3 518.2L1948.1 507.9L1968.7 504.4L1992.9 499.3L2010.1 495.8L2030.7 497.6L2041.1 506.2L2058.3 504.4L2072.1 501.0L2079.0 490.7L2092.8 483.8L2113.4 480.3L2125.5 478.6L2128.9 463.1L2130.7 449.3L2123.8 432.1L2113.4 418.3L2096.2 404.5L2085.9 390.7L2075.5 373.5L2065.2 359.7L2063.5 339.1L2068.6 321.8L2072.1 301.2L2065.2 287.4L2054.9 283.9L2061.8 273.6L2051.4 266.7L2051.4 259.8L2065.2 256.4L2079.0 258.1L2092.8 251.2L2111.7 252.9L2120.3 266.7L2130.7 277.1L2141.0 290.8L2154.8 301.2L2165.1 306.3L2182.3 306.3L2192.7 315.0L2203.0 328.7L2213.4 342.5L2223.7 356.3L2237.5 351.1L2251.2 352.9L2261.6 366.6L2271.9 380.4L2282.3 390.7L2285.7 408.0L2282.3 425.2L2278.8 439.0L2271.9 456.2L2265.0 473.4L2271.9 490.7L2282.3 507.9L2292.6 521.7L2302.9 528.6L2306.4 542.3L2309.8 556.1L2309.8 566.5L2323.6 576.8L2337.4 583.7L2351.2 580.2L2368.4 587.1L2375.3 597.5L2373.6 618.6L2375.3 635.8L2380.4 649.6L2382.2 666.8L2396.0 680.6L2409.7 694.4L2423.5 704.7L2437.3 718.5L2447.6 728.8L2461.4 742.6L2471.7 756.4L2478.6 773.6L2483.8 794.3L2489.0 815.0L2492.4 835.6L2495.9 856.3L2492.4 877.0L2489.0 897.6L2482.1 914.9L2471.7 928.6L2458.0 942.4L2444.2 956.2L2440.7 973.4L2430.4 990.7L2416.6 997.6L2406.3 1007.9L2396.0 1021.7L2385.6 1038.9L2375.3 1049.2L2361.5 1063.0L2351.2 1076.8L2344.4 1086.9L2334.0 1100.7L2332.3 1121.3L2327.1 1142.0L2330.6 1166.1L2337.5 1186.8L2344.4 1207.5L2354.7 1224.7L2365.0 1238.5L2382.3 1245.4L2389.1 1262.6L2382.3 1283.3L2368.5 1286.7L2351.2 1285.0L2337.5 1293.6L2323.7 1303.9L2309.9 1310.8L2296.1 1321.2L2282.3 1331.5L2268.6 1341.8L2254.8 1352.2L2241.0 1362.5L2230.7 1376.3L2213.4 1386.6L2203.1 1397.0L2189.3 1403.9L2182.4 1414.2L2165.2 1415.9L2148.0 1415.9L2135.9 1424.5L2134.2 1438.3L2130.7 1455.5L2134.2 1469.3L2141.1 1483.1L2137.6 1500.3L2127.3 1510.7L2113.5 1521.0L2099.7 1527.9L2086.0 1538.2L2086.0 1552.0L2068.7 1558.9L2058.4 1572.7L2053.2 1589.9L2041.2 1584.7L2030.8 1576.1L2017.1 1569.2L1999.8 1565.8L1979.2 1558.9L1958.5 1557.2L1944.7 1548.6L1930.9 1538.2L1924.0 1521.0L1913.7 1507.2L1903.4 1493.4L1894.7 1479.7L1887.9 1459.0L1884.4 1438.3L1886.1 1417.6L1889.6 1400.4L1894.7 1383.2L1898.2 1362.5L1899.9 1341.8L1905.1 1321.2L1905.1 1300.5L1908.5 1279.8L1913.7 1259.2L1917.1 1238.5L1918.9 1217.8L1922.3 1197.1L1922.3 1176.5L1917.1 1155.8L1910.2 1135.1L1903.4 1117.9L1894.7 1100.7L1893.0 1080.0L1892.9 1087.1L1884.3 1073.4L1882.6 1056.1L1875.7 1042.3L1882.6 1032.0L1879.2 1018.2L1865.4 1011.3L1851.6 1011.3L1851.6 1001.0L1848.1 987.2L1837.8 970.0L1841.3 956.2L1837.8 942.4L1827.5 925.2L1827.5 908.0L1824.0 887.3L1817.1 870.1L1810.2 856.3L1803.4 839.1L1793.0 825.3L1775.8 818.4L1758.6 815.0L1750.0 801.2L1755.1 783.9L1748.2 773.6L1737.9 759.8L1731.0 746.0L1724.1 732.3L1715.5 718.5L1724.1 701.3L1727.6 684.0L1731.0 666.8L1741.3 653.0L1755.1 642.7L1768.9 628.9L1779.2 622.0L1789.6 608.2L1799.9 597.9L1810.2 584.1L1820.6 575.5L1837.8 568.6L1855.0 573.8L1872.3 570.3L1879.2 560.0Z"/></clipPath>
<g clip-path="url(#h_bi_0)"><use href="#hatchlines" transform="translate(0,0)"/></g>
<clipPath id="h_bi_1"><path d="M2239.2 576.8L2247.8 563.0L2258.1 557.8L2268.5 566.5L2273.6 576.8L2268.5 587.1L2258.1 592.3L2246.1 590.6Z"/></clipPath>
<g clip-path="url(#h_bi_1)"><use href="#hatchlines" transform="translate(0,0)"/></g>
</g>
<path d="M1880.9 549.2L1892.9 535.5L1899.8 521.7L1906.7 501.0L1917.1 494.1L1920.5 476.9L1934.3 463.1L1948.1 449.3L1961.8 435.5L1975.6 430.4L1986.0 425.2L1992.9 404.5L1992.9 390.7L1998.0 370.1L1992.9 359.7L1986.0 352.9L1975.6 335.6L1965.3 321.8L1956.7 308.1L1948.1 294.3L1937.7 280.5L1927.4 266.7L1918.8 249.5L1913.6 225.4L1908.4 197.8L1905.0 173.7L1903.3 156.5L1906.7 128.9L1915.3 108.2L1923.9 94.5L1937.7 84.1L1955.0 77.9L1975.6 77.2L1989.4 82.4L2003.2 87.6L2023.9 94.5L2044.5 103.1L2060.0 104.8L2072.1 111.7L2082.4 120.3L2096.2 128.9L2108.3 135.8L2106.5 146.1L2116.9 156.5L2130.7 166.8L2147.9 177.1L2161.7 184.0L2178.9 190.9L2196.1 201.3L2209.9 211.6L2220.2 221.9L2237.5 228.8L2254.7 235.7L2268.5 249.5L2285.7 252.9L2302.9 246.0L2320.2 244.3L2337.4 249.5L2354.6 256.4L2371.8 263.3L2389.1 266.7L2406.3 273.6L2423.5 277.1L2440.7 283.9L2458.0 287.4L2475.2 297.7L2500.0 306.3L2511.1 315.6L2537.0 326.7L2563.0 337.8L2585.2 350.7L2611.1 363.7L2637.0 374.8L2659.3 387.8L2681.5 400.7L2703.7 415.6L2725.9 430.4L2740.7 445.2L2755.6 452.6L2770.4 463.7L2788.9 478.5L2807.4 493.3L2822.2 510.0L2833.3 526.7L2844.4 541.5L2859.3 552.6L2870.4 563.7L2875.9 578.5L2874.1 593.3L2868.5 611.9L2864.8 626.7L2870.4 645.2L2868.5 663.7L2864.8 682.2L2866.7 700.7L2868.5 715.6L2877.8 723.0L2892.6 721.1L2900.0 713.7L2896.3 702.6L2885.2 700.7L2898.1 700.7L2911.1 711.9L2922.2 710.0L2937.0 706.3L2948.1 710.0L2963.0 708.1L2972.2 710.0L2979.6 723.0L2987.0 737.8L2994.4 752.6L3000.0 767.4L2996.3 785.9L2994.4 804.4L2998.1 818.5L3011.1 833.3L3029.6 840.7L3038.9 844.4L3037.0 863.0L3051.9 874.1L3066.7 888.9L3081.5 900.0L3096.3 911.1L3114.8 922.2L3133.3 927.8L3151.9 933.3L3170.4 944.4L3188.9 948.1L3201.9 963.0L3201.9 974.1L3192.6 985.2L3192.6 996.3L3188.9 1014.8L3170.4 1033.3L3151.9 1048.1L3133.3 1063.0L3122.2 1074.1L3107.4 1081.5L3096.3 1092.6L3077.8 1103.7L3059.3 1114.8L3048.1 1129.6L3037.0 1140.7L3022.2 1151.9L3003.7 1163.0L2992.6 1174.1L2974.1 1181.5L2955.6 1188.9L2937.0 1198.1L2918.5 1205.6L2900.0 1214.8L2881.5 1222.2L2863.0 1233.3L2844.4 1244.4L2825.9 1253.7L2807.4 1261.1L2788.9 1266.7L2770.4 1268.5L2748.1 1274.1L2725.9 1275.9L2707.4 1272.2L2688.9 1263.0L2666.7 1261.1L2644.4 1266.7L2625.9 1270.4L2611.1 1281.5L2596.3 1292.6L2581.5 1303.7L2570.4 1314.8L2563.0 1333.3L2548.1 1344.4L2529.6 1351.9L2511.1 1355.6L2496.3 1366.7L2481.5 1374.1L2470.4 1387.0L2454.6 1390.1L2437.4 1400.4L2420.2 1407.3L2402.9 1414.2L2385.7 1421.1L2371.9 1428.0L2365.0 1441.8L2351.2 1452.1L2337.5 1462.4L2327.1 1476.2L2321.8 1482.6L2316.6 1490.3L2317.9 1503.2L2319.2 1516.1L2316.6 1526.5L2311.5 1536.8L2306.3 1547.1L2296.0 1553.6L2288.2 1560.0L2284.4 1570.4L2277.9 1580.7L2271.5 1591.0L2270.2 1603.9L2266.3 1611.7L2262.4 1619.4L2250.8 1622.0L2248.2 1616.8L2241.8 1619.4L2237.9 1624.6L2234.0 1637.5L2226.3 1647.8L2218.5 1655.6L2208.2 1659.4L2203.0 1668.5L2195.3 1674.9L2187.5 1678.8L2179.8 1684.0L2172.1 1687.8L2165.6 1686.6L2164.3 1676.2L2163.0 1665.9L2159.1 1658.2L2154.0 1650.4L2143.6 1645.2L2135.9 1637.5L2125.6 1629.8L2115.2 1623.3L2102.3 1618.1L2089.4 1614.3L2076.5 1609.1L2063.6 1598.8L2052.0 1588.4L2041.2 1584.7L2030.8 1576.1L2017.1 1569.2L1999.8 1565.8L1979.2 1558.9L1958.5 1557.2L1944.7 1548.6L1930.9 1538.2L1924.0 1521.0L1913.7 1507.2L1903.4 1493.4L1894.7 1479.7L1887.9 1459.0L1884.4 1438.3L1886.1 1417.6L1889.6 1400.4L1894.7 1383.2L1898.2 1362.5L1899.9 1341.8L1905.1 1321.2L1905.1 1300.5L1908.5 1279.8L1913.7 1259.2L1917.1 1238.5L1918.9 1217.8L1922.3 1197.1L1922.3 1176.5L1917.1 1155.8L1910.2 1135.1L1903.4 1117.9L1894.7 1100.7L1893.0 1080.0L1892.9 1087.1L1884.3 1073.4L1882.6 1056.1L1875.7 1042.3L1882.6 1032.0L1879.2 1018.2L1865.4 1011.3L1851.6 1011.3L1851.6 1001.0L1848.1 987.2L1837.8 970.0L1841.3 956.2L1837.8 942.4L1827.5 925.2L1827.5 908.0L1824.0 887.3L1817.1 870.1L1810.2 856.3L1803.4 839.1L1793.0 825.3L1775.8 818.4L1758.6 815.0L1750.0 801.2L1755.1 783.9L1748.2 773.6L1737.9 759.8L1731.0 746.0L1724.1 732.3L1715.5 718.5L1724.1 701.3L1727.6 684.0L1731.0 666.8L1741.3 653.0L1755.1 642.7L1768.9 628.9L1779.2 622.0L1789.6 608.2L1799.9 597.9L1810.2 584.1L1820.6 575.5L1837.8 568.6L1855.0 573.8L1872.3 570.3L1879.2 560.0Z" fill="none" stroke="#000" stroke-width="2.2" stroke-linejoin="round"/>
<path d="M1879.2 566.5L1892.9 549.2L1906.7 538.9L1923.9 532.0L1934.3 518.2L1948.1 507.9L1968.7 504.4L1992.9 499.3L2010.1 495.8L2030.7 497.6L2041.1 506.2L2058.3 504.4L2072.1 501.0L2079.0 490.7L2092.8 483.8L2113.4 480.3L2125.5 478.6L2128.9 463.1L2130.7 449.3L2123.8 432.1L2113.4 418.3L2096.2 404.5L2085.9 390.7L2075.5 373.5L2065.2 359.7L2063.5 339.1L2068.6 321.8L2072.1 301.2L2065.2 287.4L2054.9 283.9L2061.8 273.6L2051.4 266.7L2051.4 259.8L2065.2 256.4L2079.0 258.1L2092.8 251.2L2111.7 252.9L2120.3 266.7L2130.7 277.1L2141.0 290.8L2154.8 301.2L2165.1 306.3L2182.3 306.3L2192.7 315.0L2203.0 328.7L2213.4 342.5L2223.7 356.3L2237.5 351.1L2251.2 352.9L2261.6 366.6L2271.9 380.4L2282.3 390.7L2285.7 408.0L2282.3 425.2L2278.8 439.0L2271.9 456.2L2265.0 473.4L2271.9 490.7L2282.3 507.9L2292.6 521.7L2302.9 528.6L2306.4 542.3L2309.8 556.1L2309.8 566.5L2323.6 576.8L2337.4 583.7L2351.2 580.2L2368.4 587.1L2375.3 597.5L2373.6 618.6L2375.3 635.8L2380.4 649.6L2382.2 666.8L2396.0 680.6L2409.7 694.4L2423.5 704.7L2437.3 718.5L2447.6 728.8L2461.4 742.6L2471.7 756.4L2478.6 773.6L2483.8 794.3L2489.0 815.0L2492.4 835.6L2495.9 856.3L2492.4 877.0L2489.0 897.6L2482.1 914.9L2471.7 928.6L2458.0 942.4L2444.2 956.2L2440.7 973.4L2430.4 990.7L2416.6 997.6L2406.3 1007.9L2396.0 1021.7L2385.6 1038.9L2375.3 1049.2L2361.5 1063.0L2351.2 1076.8L2344.4 1086.9L2334.0 1100.7L2332.3 1121.3L2327.1 1142.0L2330.6 1166.1L2337.5 1186.8L2344.4 1207.5L2354.7 1224.7L2365.0 1238.5L2382.3 1245.4L2389.1 1262.6L2382.3 1283.3L2368.5 1286.7L2351.2 1285.0L2337.5 1293.6L2323.7 1303.9L2309.9 1310.8L2296.1 1321.2L2282.3 1331.5L2268.6 1341.8L2254.8 1352.2L2241.0 1362.5L2230.7 1376.3L2213.4 1386.6L2203.1 1397.0L2189.3 1403.9L2182.4 1414.2L2165.2 1415.9L2148.0 1415.9L2135.9 1424.5L2134.2 1438.3L2130.7 1455.5L2134.2 1469.3L2141.1 1483.1L2137.6 1500.3L2127.3 1510.7L2113.5 1521.0L2099.7 1527.9L2086.0 1538.2L2086.0 1552.0L2068.7 1558.9L2058.4 1572.7L2053.2 1589.9L2041.2 1584.7L2030.8 1576.1L2017.1 1569.2L1999.8 1565.8L1979.2 1558.9L1958.5 1557.2L1944.7 1548.6L1930.9 1538.2L1924.0 1521.0L1913.7 1507.2L1903.4 1493.4L1894.7 1479.7L1887.9 1459.0L1884.4 1438.3L1886.1 1417.6L1889.6 1400.4L1894.7 1383.2L1898.2 1362.5L1899.9 1341.8L1905.1 1321.2L1905.1 1300.5L1908.5 1279.8L1913.7 1259.2L1917.1 1238.5L1918.9 1217.8L1922.3 1197.1L1922.3 1176.5L1917.1 1155.8L1910.2 1135.1L1903.4 1117.9L1894.7 1100.7L1893.0 1080.0L1892.9 1087.1L1884.3 1073.4L1882.6 1056.1L1875.7 1042.3L1882.6 1032.0L1879.2 1018.2L1865.4 1011.3L1851.6 1011.3L1851.6 1001.0L1848.1 987.2L1837.8 970.0L1841.3 956.2L1837.8 942.4L1827.5 925.2L1827.5 908.0L1824.0 887.3L1817.1 870.1L1810.2 856.3L1803.4 839.1L1793.0 825.3L1775.8 818.4L1758.6 815.0L1750.0 801.2L1755.1 783.9L1748.2 773.6L1737.9 759.8L1731.0 746.0L1724.1 732.3L1715.5 718.5L1724.1 701.3L1727.6 684.0L1731.0 666.8L1741.3 653.0L1755.1 642.7L1768.9 628.9L1779.2 622.0L1789.6 608.2L1799.9 597.9L1810.2 584.1L1820.6 575.5L1837.8 568.6L1855.0 573.8L1872.3 570.3L1879.2 560.0Z" fill="none" stroke="#000" stroke-width="7.5" stroke-linejoin="round"/>
<path d="M2239.2 576.8L2247.8 563.0L2258.1 557.8L2268.5 566.5L2273.6 576.8L2268.5 587.1L2258.1 592.3L2246.1 590.6Z" fill="none" stroke="#000" stroke-width="7.5" stroke-linejoin="round"/>
<path d="M2137.9 506.9L2135.8 509.6L2133.6 511.9L2131.3 513.6L2129.2 514.6L2127.3 514.9L2125.9 514.5L2125.0 513.3L2124.7 511.5L2124.9 509.1L2125.8 506.4L2127.1 503.5L2128.9 500.6L2131.0 497.9L2133.3 495.7L2135.5 493.9L2137.7 492.9L2139.5 492.6L2140.9 493.0L2141.8 494.2L2142.2 496.0L2141.9 498.4L2141.1 501.1L2139.7 504.0Z" fill="#000"/>
<path d="M2173.0 510.6L2172.8 512.3L2172.2 513.7L2171.2 515.0L2169.9 516.0L2168.4 516.6L2166.8 516.8L2165.2 516.6L2163.7 516.0L2162.5 515.0L2161.5 513.7L2160.8 512.3L2160.6 510.6L2160.8 509.0L2161.5 507.5L2162.5 506.3L2163.7 505.3L2165.2 504.7L2166.8 504.4L2168.4 504.7L2169.9 505.3L2171.2 506.3L2172.2 507.5L2172.8 509.0Z" fill="#000"/>
<path d="M3100.7 948.9L3100.6 951.2L3100.2 953.3L3099.5 955.2L3098.7 956.6L3097.7 957.5L3096.7 957.8L3095.6 957.5L3094.6 956.6L3093.8 955.2L3093.1 953.3L3092.7 951.2L3092.6 948.9L3092.7 946.6L3093.1 944.4L3093.8 942.6L3094.6 941.2L3095.6 940.3L3096.7 940.0L3097.7 940.3L3098.7 941.2L3099.5 942.6L3100.2 944.4L3100.6 946.6Z" fill="#000"/>
<path d="M3096.3 970.4L3096.2 971.3L3095.8 972.2L3095.2 973.0L3094.4 973.6L3093.6 973.9L3092.6 974.1L3091.6 973.9L3090.7 973.6L3090.0 973.0L3089.4 972.2L3089.0 971.3L3088.9 970.4L3089.0 969.4L3089.4 968.5L3090.0 967.8L3090.7 967.2L3091.6 966.8L3092.6 966.7L3093.6 966.8L3094.4 967.2L3095.2 967.8L3095.8 968.5L3096.2 969.4Z" fill="#000"/>
<path d="M3126.2 1070.4L3126.4 1071.4L3126.1 1072.6L3125.3 1073.9L3124.0 1075.4L3122.3 1076.8L3120.4 1078.0L3118.3 1079.1L3116.3 1079.8L3114.4 1080.2L3112.8 1080.3L3111.6 1079.9L3110.8 1079.3L3110.6 1078.3L3110.9 1077.1L3111.8 1075.7L3113.1 1074.3L3114.7 1072.9L3116.7 1071.6L3118.7 1070.6L3120.8 1069.8L3122.7 1069.4L3124.3 1069.4L3125.5 1069.7Z" fill="#000"/>
<path d="M3039.9 1137.0L3040.1 1138.5L3039.4 1140.3L3037.9 1142.4L3035.7 1144.6L3032.9 1146.9L3029.6 1148.9L3026.2 1150.7L3022.9 1152.0L3019.8 1152.9L3017.2 1153.1L3015.3 1152.8L3014.2 1151.9L3014.0 1150.4L3014.6 1148.6L3016.1 1146.5L3018.4 1144.3L3021.2 1142.0L3024.4 1140.0L3027.9 1138.2L3031.2 1136.9L3034.3 1136.0L3036.9 1135.8L3038.8 1136.1Z" fill="#000"/>
<path d="M3006.7 1162.2L3006.6 1163.0L3006.3 1163.7L3005.8 1164.3L3005.2 1164.8L3004.5 1165.1L3003.7 1165.2L3002.9 1165.1L3002.2 1164.8L3001.6 1164.3L3001.1 1163.7L3000.8 1163.0L3000.7 1162.2L3000.8 1161.5L3001.1 1160.7L3001.6 1160.1L3002.2 1159.7L3002.9 1159.4L3003.7 1159.3L3004.5 1159.4L3005.2 1159.7L3005.8 1160.1L3006.3 1160.7L3006.6 1161.5Z" fill="#000"/>
<rect x="27" y="31" width="712" height="630" fill="none" stroke="#000" stroke-width="4"/>
<rect x="774" y="31" width="873" height="630" fill="none" stroke="#000" stroke-width="4"/>
<rect x="27" y="691" width="1620" height="1021" fill="none" stroke="#000" stroke-width="4"/>
<rect x="1681" y="31" width="1586" height="1681" fill="none" stroke="#000" stroke-width="4"/>
<text x="3236" y="137" text-anchor="end" font-family="'Liberation Sans',sans-serif" font-weight="bold" font-size="83">State of Hawaiʻi</text>
<text x="3236" y="233" text-anchor="end" font-family="'Liberation Sans',sans-serif" font-weight="bold" font-size="83">Annual</text>
<text x="3236" y="328.5" text-anchor="end" font-family="'Liberation Sans',sans-serif" font-weight="bold" font-size="83">Rainfall Trends</text>
<text x="3236" y="424" text-anchor="end" font-family="'Liberation Sans',sans-serif" font-weight="bold" font-size="83">1920-2012</text>
<rect x="1655" y="1851.7" width="125" height="61.8" fill="#8F3333" stroke="#6E6E6E" stroke-width="3.6"/>
<rect x="1780" y="1851.7" width="125" height="61.8" fill="#CC3333" stroke="#6E6E6E" stroke-width="3.6"/>
<rect x="1905" y="1851.7" width="125" height="61.8" fill="#FF5A33" stroke="#6E6E6E" stroke-width="3.6"/>
<rect x="2030" y="1851.7" width="125" height="61.8" fill="#FFC233" stroke="#6E6E6E" stroke-width="3.6"/>
<rect x="2155" y="1851.7" width="125" height="61.8" fill="#FFFF6B" stroke="#6E6E6E" stroke-width="3.6"/>
<rect x="2280" y="1851.7" width="125" height="61.8" fill="#FFFFD2" stroke="#6E6E6E" stroke-width="3.6"/>
<rect x="2405" y="1851.7" width="125" height="61.8" fill="#E3FFF8" stroke="#6E6E6E" stroke-width="3.6"/>
<rect x="2530" y="1851.7" width="125" height="61.8" fill="#A6FFE8" stroke="#6E6E6E" stroke-width="3.6"/>
<rect x="2655" y="1851.7" width="125" height="61.8" fill="#82D4F2" stroke="#6E6E6E" stroke-width="3.6"/>
<rect x="2780" y="1851.7" width="125" height="61.8" fill="#4B93FA" stroke="#6E6E6E" stroke-width="3.6"/>
<rect x="2905" y="1851.7" width="125" height="61.8" fill="#3764C8" stroke="#6E6E6E" stroke-width="3.6"/>
<rect x="3030" y="1851.7" width="125" height="61.8" fill="#334287" stroke="#6E6E6E" stroke-width="3.6"/>
<rect x="1655" y="1851.7" width="1500" height="61.8" fill="none" stroke="#6E6E6E" stroke-width="3.6"/>
<text x="1532" y="1803" font-family="'Liberation Sans',sans-serif" font-weight="bold" font-size="66">% / Decade</text>
<text transform="translate(1737.5,1975.5) rotate(-45)" text-anchor="end" font-family="'Liberation Sans',sans-serif" font-weight="bold" font-size="58">-15 to -8</text>
<text transform="translate(1875.5,1988.5) rotate(-45)" text-anchor="end" font-family="'Liberation Sans',sans-serif" font-weight="bold" font-size="58">-8 to -6</text>
<text transform="translate(2000.5,1988.5) rotate(-45)" text-anchor="end" font-family="'Liberation Sans',sans-serif" font-weight="bold" font-size="58">-6 to -4</text>
<text transform="translate(2127.5,1988.5) rotate(-45)" text-anchor="end" font-family="'Liberation Sans',sans-serif" font-weight="bold" font-size="58">-4 to -2</text>
<text transform="translate(2251.5,1988.5) rotate(-45)" text-anchor="end" font-family="'Liberation Sans',sans-serif" font-weight="bold" font-size="58">-2 to -1</text>
<text transform="translate(2382.5,1994.0) rotate(-45)" text-anchor="end" font-family="'Liberation Sans',sans-serif" font-weight="bold" font-size="58">-1 to 0</text>
<text transform="translate(2514.3,2000.5) rotate(-45)" text-anchor="end" font-family="'Liberation Sans',sans-serif" font-weight="bold" font-size="58">0 to 1</text>
<text transform="translate(2639.3,2000.5) rotate(-45)" text-anchor="end" font-family="'Liberation Sans',sans-serif" font-weight="bold" font-size="58">1 to 2</text>
<text transform="translate(2764.3,2000.5) rotate(-45)" text-anchor="end" font-family="'Liberation Sans',sans-serif" font-weight="bold" font-size="58">2 to 4</text>
<text transform="translate(2889.3,2000.5) rotate(-45)" text-anchor="end" font-family="'Liberation Sans',sans-serif" font-weight="bold" font-size="58">4 to 6</text>
<text transform="translate(3014.3,2000.5) rotate(-45)" text-anchor="end" font-family="'Liberation Sans',sans-serif" font-weight="bold" font-size="58">6 to 8</text>
<text transform="translate(3125.9,1992.0) rotate(-45)" text-anchor="end" font-family="'Liberation Sans',sans-serif" font-weight="bold" font-size="58">8 to 15</text>
<clipPath id="pbox"><rect x="2780.3" y="1757.5" width="125.7" height="62.2"/></clipPath>
<use href="#hatchlines" clip-path="url(#pbox)"/>
<rect x="2780.3" y="1757.5" width="125.7" height="62.2" fill="none" stroke="#000" stroke-width="6.5" stroke-linejoin="round"/>
<text x="2927" y="1810" font-family="'Liberation Sans',sans-serif" font-weight="bold" font-size="58">p &lt; 0.05</text>
<path d="M492.5 1875H1345.8" stroke="#000" stroke-width="3" fill="none"/>
<path d="M492.5 1854V1897" stroke="#000" stroke-width="3"/>
<path d="M599.2 1857.5V1891" stroke="#000" stroke-width="3"/>
<path d="M705.8 1857.5V1891" stroke="#000" stroke-width="3"/>
<path d="M812.5 1857.5V1891" stroke="#000" stroke-width="3"/>
<path d="M919.1 1854V1897" stroke="#000" stroke-width="3"/>
<path d="M1025.8 1857.5V1891" stroke="#000" stroke-width="3"/>
<path d="M1132.5 1857.5V1891" stroke="#000" stroke-width="3"/>
<path d="M1239.1 1857.5V1891" stroke="#000" stroke-width="3"/>
<path d="M1345.8 1854V1897" stroke="#000" stroke-width="3"/>
<text x="492.5" y="1823" text-anchor="middle" font-family="'Liberation Sans',sans-serif" font-size="58">0</text>
<text x="705.8" y="1823" text-anchor="middle" font-family="'Liberation Sans',sans-serif" font-size="58">20</text>
<text x="919.1" y="1823" text-anchor="middle" font-family="'Liberation Sans',sans-serif" font-size="58">40</text>
<text x="1345.8" y="1823" text-anchor="middle" font-family="'Liberation Sans',sans-serif" font-size="58">80</text>
<text x="918.5" y="1944" text-anchor="middle" font-family="'Liberation Sans',sans-serif" font-size="58">Kilometers</text>
<text x="745" y="2052" text-anchor="middle" font-family="'Liberation Sans',sans-serif" font-style="italic" font-size="58">Frazier &amp; Giambelluca, 2017,</text>
<text x="754" y="2119" text-anchor="middle" font-family="'Liberation Sans',sans-serif" font-style="italic" font-size="58">International Journal of Climatology</text>
<text x="754" y="2186" text-anchor="middle" font-family="'Liberation Sans',sans-serif" font-style="italic" font-size="58">Map created 09/05/2017</text>
<g transform="translate(232.8,1866.4)">
<circle r="70" fill="none" stroke="#000" stroke-width="10"/>
<circle r="68.3" fill="none" stroke="#fff" stroke-width="2.2" stroke-dasharray="34 20" transform="rotate(8)"/>
<path d="M0 -3.5L3 2.5L-3 2.5Z" fill="#fff" stroke="#000" stroke-width="1" transform="translate(30.6,-73.9) rotate(22.5)"/>
<path d="M0 -3.5L3 2.5L-3 2.5Z" fill="#fff" stroke="#000" stroke-width="1" transform="translate(73.9,-30.6) rotate(67.5)"/>
<path d="M0 -3.5L3 2.5L-3 2.5Z" fill="#fff" stroke="#000" stroke-width="1" transform="translate(73.9,30.6) rotate(112.5)"/>
<path d="M0 -3.5L3 2.5L-3 2.5Z" fill="#fff" stroke="#000" stroke-width="1" transform="translate(30.6,73.9) rotate(157.5)"/>
<path d="M0 -3.5L3 2.5L-3 2.5Z" fill="#fff" stroke="#000" stroke-width="1" transform="translate(-30.6,73.9) rotate(202.5)"/>
<path d="M0 -3.5L3 2.5L-3 2.5Z" fill="#fff" stroke="#000" stroke-width="1" transform="translate(-73.9,30.6) rotate(247.5)"/>
<path d="M0 -3.5L3 2.5L-3 2.5Z" fill="#fff" stroke="#000" stroke-width="1" transform="translate(-73.9,-30.6) rotate(292.5)"/>
<path d="M0 -3.5L3 2.5L-3 2.5Z" fill="#fff" stroke="#000" stroke-width="1" transform="translate(-30.6,-73.9) rotate(337.5)"/>
<g transform="rotate(45)">
<path d="M0 0L-10.25 -31.47L0 -61Z" fill="#fff" stroke="#000" stroke-width="1"/>
<path d="M0 0L10.25 -31.47L0 -61Z" fill="#000" stroke="#000" stroke-width="1"/>
</g>
<g transform="rotate(135)">
<path d="M0 0L-10.25 -31.47L0 -61Z" fill="#fff" stroke="#000" stroke-width="1"/>
<path d="M0 0L10.25 -31.47L0 -61Z" fill="#000" stroke="#000" stroke-width="1"/>
</g>
<g transform="rotate(225)">
<path d="M0 0L-10.25 -31.47L0 -61Z" fill="#fff" stroke="#000" stroke-width="1"/>
<path d="M0 0L10.25 -31.47L0 -61Z" fill="#000" stroke="#000" stroke-width="1"/>
</g>
<g transform="rotate(315)">
<path d="M0 0L-10.25 -31.47L0 -61Z" fill="#fff" stroke="#000" stroke-width="1"/>
<path d="M0 0L10.25 -31.47L0 -61Z" fill="#000" stroke="#000" stroke-width="1"/>
</g>
<g transform="rotate(0)">
<path d="M0 0L-15 -29.5L0 -87.5Z" fill="#fff" stroke="#000" stroke-width="1"/>
<path d="M0 0L15 -29.5L0 -87.5Z" fill="#000" stroke="#000" stroke-width="1"/>
</g>
<g transform="rotate(90)">
<path d="M0 0L-15 -29.5L0 -87.5Z" fill="#fff" stroke="#000" stroke-width="1"/>
<path d="M0 0L15 -29.5L0 -87.5Z" fill="#000" stroke="#000" stroke-width="1"/>
</g>
<g transform="rotate(180)">
<path d="M0 0L-15 -29.5L0 -87.5Z" fill="#fff" stroke="#000" stroke-width="1"/>
<path d="M0 0L15 -29.5L0 -87.5Z" fill="#000" stroke="#000" stroke-width="1"/>
</g>
<g transform="rotate(270)">
<path d="M0 0L-15 -29.5L0 -87.5Z" fill="#fff" stroke="#000" stroke-width="1"/>
<path d="M0 0L15 -29.5L0 -87.5Z" fill="#000" stroke="#000" stroke-width="1"/>
</g>
</g>
<text x="232.8" y="1769.5" text-anchor="middle" font-family="'Liberation Serif',serif" font-size="44">N</text>
<text x="232.8" y="1993" text-anchor="middle" font-family="'Liberation Serif',serif" font-size="44">S</text>
<text x="123.3" y="1882" text-anchor="middle" font-family="'Liberation Serif',serif" font-size="44">W</text>
<text x="338" y="1882" text-anchor="middle" font-family="'Liberation Serif',serif" font-size="44">E</text>
</svg></body></html>
